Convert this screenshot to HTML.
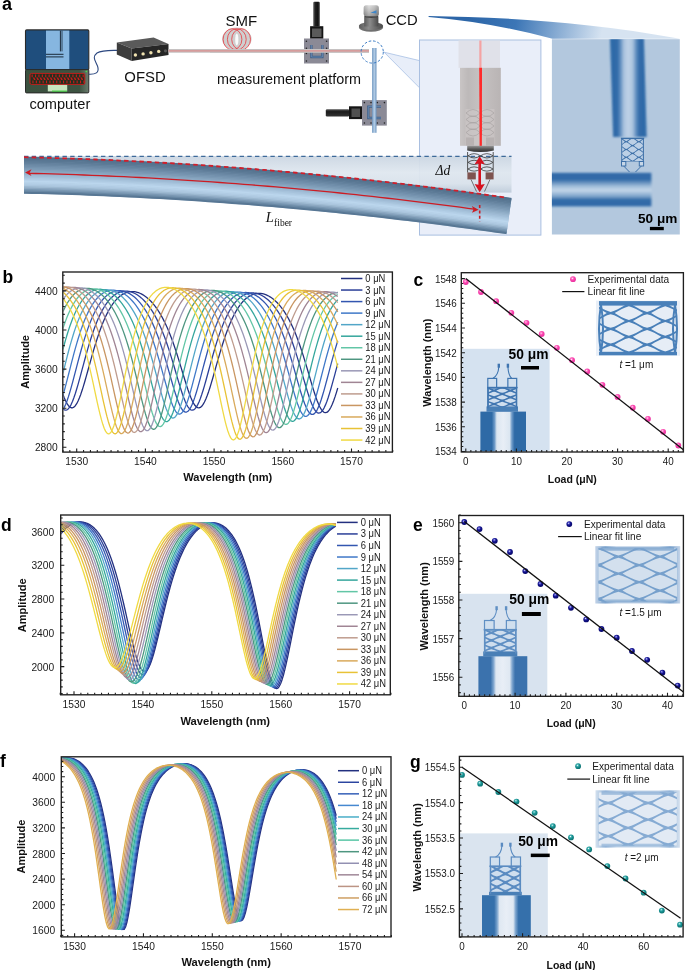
<!DOCTYPE html><html><head><meta charset="utf-8"><style>html,body{margin:0;padding:0;background:#fff;}svg{display:block;font-family:"Liberation Sans",sans-serif;will-change:transform;}body{overflow:hidden;}</style></head><body><svg width="685" height="970" viewBox="0 0 685 970" font-family='&quot;Liberation Sans&quot;, sans-serif'><defs><filter id="blur06" x="-5%" y="-5%" width="110%" height="110%"><feGaussianBlur stdDeviation="0.55"/></filter><filter id="blur07" x="-5%" y="-5%" width="110%" height="110%"><feGaussianBlur stdDeviation="0.7"/></filter><filter id="blur10" x="-5%" y="-5%" width="110%" height="110%"><feGaussianBlur stdDeviation="1.0"/></filter><linearGradient id="sfg" x1="0" x2="0" y1="0" y2="1"><stop offset="0" stop-color="#cbd6e2"/><stop offset="0.45" stop-color="#dfe7ef"/><stop offset="0.75" stop-color="#d9e2eb"/><stop offset="1" stop-color="#bfccda"/></linearGradient><linearGradient id="fun2" gradientUnits="userSpaceOnUse" x1="470" y1="16" x2="600" y2="42"><stop offset="0" stop-color="#2d66a8"/><stop offset="0.35" stop-color="#3c76b6"/><stop offset="1" stop-color="#d6e3f1"/></linearGradient><linearGradient id="vp" x1="0" x2="1" y1="0" y2="0"><stop offset="0" stop-color="#2f6aa8"/><stop offset="0.2" stop-color="#306ba8"/><stop offset="0.3" stop-color="#6793c3"/><stop offset="0.38" stop-color="#aac3de"/><stop offset="0.5" stop-color="#bfd2e7"/><stop offset="0.62" stop-color="#aac3de"/><stop offset="0.7" stop-color="#6793c3"/><stop offset="0.8" stop-color="#306ba8"/><stop offset="1" stop-color="#2f6aa8"/></linearGradient><clipPath id="in2clip"><rect x="551.9" y="39.2" width="127.9" height="195.3"/></clipPath><linearGradient id="hf" x1="0" x2="0" y1="0" y2="1"><stop offset="0" stop-color="#2f6aa8"/><stop offset="0.2" stop-color="#336ca8"/><stop offset="0.4" stop-color="#9fbcd9"/><stop offset="0.52" stop-color="#c5d7e9"/><stop offset="0.7" stop-color="#7da4cb"/><stop offset="0.8" stop-color="#336ca8"/><stop offset="1" stop-color="#2f6aa8"/></linearGradient><clipPath id="in2lat"><rect x="622.2" y="138.7" width="20.7" height="22.3"/></clipPath><clipPath id="bentclip"><path d="M24 150 L24 240 L506.3 240 L506.3 235 L512 195 L512 150 Z"/></clipPath><linearGradient id="probeg" x1="0" x2="1" y1="0" y2="0"><stop offset="0" stop-color="#c9c5c5"/><stop offset="0.2" stop-color="#bdb9b9"/><stop offset="0.5" stop-color="#c6c2c2"/><stop offset="1" stop-color="#b9b4b4"/></linearGradient><linearGradient id="headg" x1="0" x2="0" y1="0" y2="1"><stop offset="0" stop-color="#9a9a9a"/><stop offset="0.5" stop-color="#5a5a5a"/><stop offset="1" stop-color="#2e2e2e"/></linearGradient><linearGradient id="kbase" x1="0" x2="1" y1="0" y2="0"><stop offset="0" stop-color="#3b513f"/><stop offset="0.85" stop-color="#3d5341"/><stop offset="1" stop-color="#6b7b6d"/></linearGradient><linearGradient id="micro" x1="0" x2="1" y1="0" y2="0"><stop offset="0" stop-color="#6a6a6a"/><stop offset="0.3" stop-color="#222"/><stop offset="0.7" stop-color="#111"/><stop offset="1" stop-color="#444"/></linearGradient><linearGradient id="ccdg" x1="0" x2="1" y1="0" y2="0"><stop offset="0" stop-color="#8a8a8a"/><stop offset="0.35" stop-color="#d0d0d0"/><stop offset="0.7" stop-color="#a8a8a8"/><stop offset="1" stop-color="#6a6a6a"/></linearGradient><linearGradient id="ccdt" x1="0" x2="0" y1="0" y2="1"><stop offset="0" stop-color="#f2f2f2"/><stop offset="0.5" stop-color="#b8b8b8"/><stop offset="1" stop-color="#6e6e6e"/></linearGradient><linearGradient id="ccdb" x1="0" x2="1" y1="0" y2="0"><stop offset="0" stop-color="#5a5a5a"/><stop offset="0.4" stop-color="#8c8c8c"/><stop offset="1" stop-color="#4a4a4a"/></linearGradient><linearGradient id="vfib" x1="0" x2="1" y1="0" y2="0"><stop offset="0" stop-color="#6d95bf"/><stop offset="0.5" stop-color="#b4cde6"/><stop offset="1" stop-color="#6d95bf"/></linearGradient><linearGradient id="micro2" x1="0" x2="0" y1="0" y2="1"><stop offset="0" stop-color="#555"/><stop offset="0.35" stop-color="#1a1a1a"/><stop offset="1" stop-color="#333"/></linearGradient><clipPath id="cb"><rect x="63.4" y="272.6" width="328.4" height="178.9"/></clipPath><clipPath id="cd"><rect x="61.3" y="515.6" width="328.4" height="178.6"/></clipPath><clipPath id="cf"><rect x="61.9" y="757.4" width="328.5" height="178.9"/></clipPath><radialGradient id="sp_c" cx="0.4" cy="0.35" r="0.65"><stop offset="0" stop-color="#fff"/><stop offset="0.2" stop-color="#ff86cf"/><stop offset="0.5" stop-color="#fb44ae"/><stop offset="1" stop-color="#e8329f"/></radialGradient><radialGradient id="sp_e" cx="0.4" cy="0.35" r="0.65"><stop offset="0" stop-color="#fff"/><stop offset="0.2" stop-color="#5656cc"/><stop offset="0.5" stop-color="#11118c"/><stop offset="1" stop-color="#070768"/></radialGradient><radialGradient id="sp_g" cx="0.4" cy="0.35" r="0.65"><stop offset="0" stop-color="#fff"/><stop offset="0.2" stop-color="#5cc0c0"/><stop offset="0.5" stop-color="#179393"/><stop offset="1" stop-color="#0d7070"/></radialGradient><linearGradient id="fgc" x1="0" x2="1" y1="0" y2="0"><stop offset="0" stop-color="#2e6aa6"/><stop offset="0.25" stop-color="#2e6aa6"/><stop offset="0.31" stop-color="#6d9ac8"/><stop offset="0.36" stop-color="#dbe6f1"/><stop offset="0.5" stop-color="#e8eef6"/><stop offset="0.64" stop-color="#dbe6f1"/><stop offset="0.69" stop-color="#6d9ac8"/><stop offset="0.75" stop-color="#2e6aa6"/><stop offset="1" stop-color="#2e6aa6"/></linearGradient><clipPath id="lclc"><rect x="488.7" y="388.4" width="27.1" height="19.2"/></clipPath><clipPath id="ltcc"><rect x="599" y="302.6" width="78" height="51.2"/></clipPath><linearGradient id="fge" x1="0" x2="1" y1="0" y2="0"><stop offset="0" stop-color="#3a72ad"/><stop offset="0.25" stop-color="#3a72ad"/><stop offset="0.31" stop-color="#7fa6cf"/><stop offset="0.36" stop-color="#dfe8f2"/><stop offset="0.5" stop-color="#e8eef6"/><stop offset="0.64" stop-color="#dfe8f2"/><stop offset="0.69" stop-color="#7fa6cf"/><stop offset="0.75" stop-color="#3a72ad"/><stop offset="1" stop-color="#3a72ad"/></linearGradient><clipPath id="lcle"><rect x="485.4" y="630.5" width="29.7" height="22.1"/></clipPath><linearGradient id="ede" x1="0" x2="1" y1="0" y2="0"><stop offset="0" stop-color="#4a80ba" stop-opacity="0.0"/><stop offset="0.12" stop-color="#4a80ba" stop-opacity="0.55"/><stop offset="0.25" stop-color="#4a80ba" stop-opacity="0"/><stop offset="0.75" stop-color="#4a80ba" stop-opacity="0"/><stop offset="0.88" stop-color="#4a80ba" stop-opacity="0.55"/><stop offset="1" stop-color="#4a80ba" stop-opacity="0"/></linearGradient><clipPath id="ltce"><rect x="598.3" y="548.2" width="78.9" height="53.3"/></clipPath><linearGradient id="fgg" x1="0" x2="1" y1="0" y2="0"><stop offset="0" stop-color="#3570ab"/><stop offset="0.25" stop-color="#3570ab"/><stop offset="0.31" stop-color="#7aa3cd"/><stop offset="0.36" stop-color="#dfe8f2"/><stop offset="0.5" stop-color="#e8eef6"/><stop offset="0.64" stop-color="#dfe8f2"/><stop offset="0.69" stop-color="#7aa3cd"/><stop offset="0.75" stop-color="#3570ab"/><stop offset="1" stop-color="#3570ab"/></linearGradient><clipPath id="lclg"><rect x="491.2" y="867" width="28.4" height="26"/></clipPath><linearGradient id="edg" x1="0" x2="1" y1="0" y2="0"><stop offset="0" stop-color="#6f9bcb" stop-opacity="0.0"/><stop offset="0.12" stop-color="#6f9bcb" stop-opacity="0.55"/><stop offset="0.25" stop-color="#6f9bcb" stop-opacity="0"/><stop offset="0.75" stop-color="#6f9bcb" stop-opacity="0"/><stop offset="0.88" stop-color="#6f9bcb" stop-opacity="0.55"/><stop offset="1" stop-color="#6f9bcb" stop-opacity="0"/></linearGradient><clipPath id="ltcg"><rect x="598.5" y="792.3" width="78.4" height="53.4"/></clipPath></defs><text x="2" y="9.6" font-size="18" font-weight="bold" fill="#000">a</text>
<path d="M428.6 16.0 C 500 17.3, 580 20.8, 680 38.7 L 552.5 38.7 Q 490 22, 428.6 16.9 Z" fill="url(#fun2)" stroke="none" stroke-width="1"/>
<path d="M384.1 52.2 L419.5 60.6 L419.5 87.8 Z" fill="#e8eef9" stroke="#a8c0e4" stroke-width="0.8"/>
<rect x="419.5" y="40" width="121.4" height="195.1" fill="#e9eef9" stroke="#a9bfe0" stroke-width="1"/>
<rect x="551.9" y="39.2" width="127.9" height="195.3" fill="#b3c8de" stroke="none" stroke-width="1"/>
<g clip-path="url(#in2clip)"><g filter="url(#blur10)">
<path d="M609.9 36 L643.9 36 L646.7 137.1 L613.1 137.1 Z" fill="url(#vp)" stroke="none" stroke-width="1"/>
<rect x="547.9" y="172.8" width="103.5" height="33.6" fill="url(#hf)" stroke="none" stroke-width="1"/>
</g></g>
<g filter="url(#blur06)">
<rect x="621.2" y="138.2" width="22.7" height="23.3" fill="#3d70a8" stroke="none" stroke-width="1"/>
<g clip-path="url(#in2lat)">
<path d="M621.34 137.8 L622.56 136.75 L623.79 135.81 L625.02 135 L626.25 134.45 L627.48 135 L628.71 135.81 L629.94 136.75 L631.16 137.8 L629.94 138.85 L628.71 139.79 L627.48 140.6 L626.25 141.15 L625.02 140.6 L623.79 139.79 L622.56 138.85Z M633.94 137.8 L635.16 136.75 L636.39 135.81 L637.62 135 L638.85 134.45 L640.08 135 L641.31 135.81 L642.54 136.75 L643.76 137.8 L642.54 138.85 L641.31 139.79 L640.08 140.6 L638.85 141.15 L637.62 140.6 L636.39 139.79 L635.16 138.85Z M615.04 141.7 L616.26 140.65 L617.49 139.71 L618.72 138.9 L619.95 138.35 L621.18 138.9 L622.41 139.71 L623.64 140.65 L624.86 141.7 L623.64 142.75 L622.41 143.69 L621.18 144.5 L619.95 145.05 L618.72 144.5 L617.49 143.69 L616.26 142.75Z M627.64 141.7 L628.86 140.65 L630.09 139.71 L631.32 138.9 L632.55 138.35 L633.78 138.9 L635.01 139.71 L636.24 140.65 L637.46 141.7 L636.24 142.75 L635.01 143.69 L633.78 144.5 L632.55 145.05 L631.32 144.5 L630.09 143.69 L628.86 142.75Z M640.24 141.7 L641.46 140.65 L642.69 139.71 L643.92 138.9 L645.15 138.35 L646.38 138.9 L647.61 139.71 L648.84 140.65 L650.06 141.7 L648.84 142.75 L647.61 143.69 L646.38 144.5 L645.15 145.05 L643.92 144.5 L642.69 143.69 L641.46 142.75Z M621.34 145.6 L622.56 144.55 L623.79 143.61 L625.02 142.8 L626.25 142.25 L627.48 142.8 L628.71 143.61 L629.94 144.55 L631.16 145.6 L629.94 146.65 L628.71 147.59 L627.48 148.4 L626.25 148.95 L625.02 148.4 L623.79 147.59 L622.56 146.65Z M633.94 145.6 L635.16 144.55 L636.39 143.61 L637.62 142.8 L638.85 142.25 L640.08 142.8 L641.31 143.61 L642.54 144.55 L643.76 145.6 L642.54 146.65 L641.31 147.59 L640.08 148.4 L638.85 148.95 L637.62 148.4 L636.39 147.59 L635.16 146.65Z M615.04 149.5 L616.26 148.45 L617.49 147.51 L618.72 146.7 L619.95 146.15 L621.18 146.7 L622.41 147.51 L623.64 148.45 L624.86 149.5 L623.64 150.55 L622.41 151.49 L621.18 152.3 L619.95 152.85 L618.72 152.3 L617.49 151.49 L616.26 150.55Z M627.64 149.5 L628.86 148.45 L630.09 147.51 L631.32 146.7 L632.55 146.15 L633.78 146.7 L635.01 147.51 L636.24 148.45 L637.46 149.5 L636.24 150.55 L635.01 151.49 L633.78 152.3 L632.55 152.85 L631.32 152.3 L630.09 151.49 L628.86 150.55Z M640.24 149.5 L641.46 148.45 L642.69 147.51 L643.92 146.7 L645.15 146.15 L646.38 146.7 L647.61 147.51 L648.84 148.45 L650.06 149.5 L648.84 150.55 L647.61 151.49 L646.38 152.3 L645.15 152.85 L643.92 152.3 L642.69 151.49 L641.46 150.55Z M621.34 153.4 L622.56 152.35 L623.79 151.41 L625.02 150.6 L626.25 150.05 L627.48 150.6 L628.71 151.41 L629.94 152.35 L631.16 153.4 L629.94 154.45 L628.71 155.39 L627.48 156.2 L626.25 156.75 L625.02 156.2 L623.79 155.39 L622.56 154.45Z M633.94 153.4 L635.16 152.35 L636.39 151.41 L637.62 150.6 L638.85 150.05 L640.08 150.6 L641.31 151.41 L642.54 152.35 L643.76 153.4 L642.54 154.45 L641.31 155.39 L640.08 156.2 L638.85 156.75 L637.62 156.2 L636.39 155.39 L635.16 154.45Z M615.04 157.3 L616.26 156.25 L617.49 155.31 L618.72 154.5 L619.95 153.95 L621.18 154.5 L622.41 155.31 L623.64 156.25 L624.86 157.3 L623.64 158.35 L622.41 159.29 L621.18 160.1 L619.95 160.65 L618.72 160.1 L617.49 159.29 L616.26 158.35Z M627.64 157.3 L628.86 156.25 L630.09 155.31 L631.32 154.5 L632.55 153.95 L633.78 154.5 L635.01 155.31 L636.24 156.25 L637.46 157.3 L636.24 158.35 L635.01 159.29 L633.78 160.1 L632.55 160.65 L631.32 160.1 L630.09 159.29 L628.86 158.35Z M640.24 157.3 L641.46 156.25 L642.69 155.31 L643.92 154.5 L645.15 153.95 L646.38 154.5 L647.61 155.31 L648.84 156.25 L650.06 157.3 L648.84 158.35 L647.61 159.29 L646.38 160.1 L645.15 160.65 L643.92 160.1 L642.69 159.29 L641.46 158.35Z M621.34 161.2 L622.56 160.15 L623.79 159.21 L625.02 158.4 L626.25 157.85 L627.48 158.4 L628.71 159.21 L629.94 160.15 L631.16 161.2 L629.94 162.25 L628.71 163.19 L627.48 164 L626.25 164.55 L625.02 164 L623.79 163.19 L622.56 162.25Z M633.94 161.2 L635.16 160.15 L636.39 159.21 L637.62 158.4 L638.85 157.85 L640.08 158.4 L641.31 159.21 L642.54 160.15 L643.76 161.2 L642.54 162.25 L641.31 163.19 L640.08 164 L638.85 164.55 L637.62 164 L636.39 163.19 L635.16 162.25Z" fill="#bcd0e6" stroke="none" stroke-width="1"/>
</g>
<rect x="620.9" y="137.7" width="23.3" height="1.4" fill="#3d70a8" stroke="none" stroke-width="1"/>
<rect x="621.5" y="161.5" width="4.3" height="4.5" fill="#c7d7e8" stroke="#3d70a8" stroke-width="1"/>
<rect x="639.3" y="161.5" width="4.3" height="4.5" fill="#c7d7e8" stroke="#3d70a8" stroke-width="1"/>
<path d="M623.7 166 L629.5 172 M641.4 166 L635.5 172" fill="none" stroke="#3d70a8" stroke-width="1"/>
</g>
<text x="657.65" y="222.6" font-size="13.6" font-weight="bold" text-anchor="middle" fill="#000">50 μm</text>
<rect x="649.9" y="226.9" width="13.9" height="3.3" fill="#000" stroke="none" stroke-width="1"/>
<rect x="24" y="156.1" width="487.5" height="36.5" fill="url(#sfg)" stroke="none" stroke-width="1" opacity="0.95"/>
<g clip-path="url(#bentclip)">
<path d="M24 175.2 L32 175.39 L40 175.59 L48 175.81 L56 176.05 L64 176.3 L72 176.57 L80 176.86 L88 177.16 L96 177.48 L104 177.81 L112 178.17 L120 178.53 L128 178.92 L136 179.32 L144 179.73 L152 180.16 L160 180.61 L168 181.08 L176 181.56 L184 182.06 L192 182.57 L200 183.1 L208 183.65 L216 184.21 L224 184.79 L232 185.38 L240 185.99 L248 186.62 L256 187.27 L264 187.93 L272 188.6 L280 189.3 L288 190.01 L296 190.73 L304 191.47 L312 192.23 L320 193 L328 193.8 L336 194.6 L344 195.43 L352 196.26 L360 197.12 L368 197.99 L376 198.88 L384 199.79 L392 200.71 L400 201.64 L408 202.6 L416 203.57 L424 204.55 L432 205.55 L440 206.57 L448 207.61 L456 208.66 L464 209.73 L472 210.81 L480 211.91 L488 213.03 L496 214.16 L504 215.31 L512 216.47 L520 217.65" fill="none" stroke="#9cb8d2" stroke-width="36.4" stroke-linecap="butt"/>
<path d="M24 157.7 L32 157.89 L40 158.09 L48 158.31 L56 158.55 L64 158.8 L72 159.07 L80 159.36 L88 159.66 L96 159.98 L104 160.31 L112 160.67 L120 161.03 L128 161.42 L136 161.82 L144 162.23 L152 162.66 L160 163.11 L168 163.58 L176 164.06 L184 164.56 L192 165.07 L200 165.6 L208 166.15 L216 166.71 L224 167.29 L232 167.88 L240 168.49 L248 169.12 L256 169.77 L264 170.43 L272 171.1 L280 171.8 L288 172.51 L296 173.23 L304 173.97 L312 174.73 L320 175.5 L328 176.3 L336 177.1 L344 177.93 L352 178.76 L360 179.62 L368 180.49 L376 181.38 L384 182.29 L392 183.21 L400 184.14 L408 185.1 L416 186.07 L424 187.05 L432 188.05 L440 189.07 L448 190.11 L456 191.16 L464 192.23 L472 193.31 L480 194.41 L488 195.53 L496 196.66 L504 197.81 L512 198.97 L520 200.15" fill="none" stroke="#516f8c" stroke-width="2" stroke-linecap="butt"/>
<path d="M24 159.1 L32 159.29 L40 159.49 L48 159.71 L56 159.95 L64 160.2 L72 160.47 L80 160.76 L88 161.06 L96 161.38 L104 161.71 L112 162.07 L120 162.43 L128 162.82 L136 163.22 L144 163.63 L152 164.06 L160 164.51 L168 164.98 L176 165.46 L184 165.96 L192 166.47 L200 167 L208 167.55 L216 168.11 L224 168.69 L232 169.28 L240 169.89 L248 170.52 L256 171.17 L264 171.83 L272 172.5 L280 173.2 L288 173.91 L296 174.63 L304 175.37 L312 176.13 L320 176.9 L328 177.7 L336 178.5 L344 179.33 L352 180.16 L360 181.02 L368 181.89 L376 182.78 L384 183.69 L392 184.61 L400 185.54 L408 186.5 L416 187.47 L424 188.45 L432 189.45 L440 190.47 L448 191.51 L456 192.56 L464 193.63 L472 194.71 L480 195.81 L488 196.93 L496 198.06 L504 199.21 L512 200.37 L520 201.55" fill="none" stroke="#55738f" stroke-width="2" stroke-linecap="butt"/>
<path d="M24 160.5 L32 160.69 L40 160.89 L48 161.11 L56 161.35 L64 161.6 L72 161.87 L80 162.16 L88 162.46 L96 162.78 L104 163.11 L112 163.47 L120 163.83 L128 164.22 L136 164.62 L144 165.03 L152 165.46 L160 165.91 L168 166.38 L176 166.86 L184 167.36 L192 167.87 L200 168.4 L208 168.95 L216 169.51 L224 170.09 L232 170.68 L240 171.29 L248 171.92 L256 172.57 L264 173.23 L272 173.9 L280 174.6 L288 175.31 L296 176.03 L304 176.77 L312 177.53 L320 178.3 L328 179.1 L336 179.9 L344 180.73 L352 181.56 L360 182.42 L368 183.29 L376 184.18 L384 185.09 L392 186.01 L400 186.94 L408 187.9 L416 188.87 L424 189.85 L432 190.85 L440 191.87 L448 192.91 L456 193.96 L464 195.03 L472 196.11 L480 197.21 L488 198.33 L496 199.46 L504 200.61 L512 201.77 L520 202.95" fill="none" stroke="#597793" stroke-width="2" stroke-linecap="butt"/>
<path d="M24 161.9 L32 162.09 L40 162.29 L48 162.51 L56 162.75 L64 163 L72 163.27 L80 163.56 L88 163.86 L96 164.18 L104 164.51 L112 164.87 L120 165.23 L128 165.62 L136 166.02 L144 166.43 L152 166.86 L160 167.31 L168 167.78 L176 168.26 L184 168.76 L192 169.27 L200 169.8 L208 170.35 L216 170.91 L224 171.49 L232 172.08 L240 172.69 L248 173.32 L256 173.97 L264 174.63 L272 175.3 L280 176 L288 176.71 L296 177.43 L304 178.17 L312 178.93 L320 179.7 L328 180.5 L336 181.3 L344 182.13 L352 182.96 L360 183.82 L368 184.69 L376 185.58 L384 186.49 L392 187.41 L400 188.34 L408 189.3 L416 190.27 L424 191.25 L432 192.25 L440 193.27 L448 194.31 L456 195.36 L464 196.43 L472 197.51 L480 198.61 L488 199.73 L496 200.86 L504 202.01 L512 203.17 L520 204.35" fill="none" stroke="#5d7b97" stroke-width="2" stroke-linecap="butt"/>
<path d="M24 163.3 L32 163.49 L40 163.69 L48 163.91 L56 164.15 L64 164.4 L72 164.67 L80 164.96 L88 165.26 L96 165.58 L104 165.91 L112 166.27 L120 166.63 L128 167.02 L136 167.42 L144 167.83 L152 168.26 L160 168.71 L168 169.18 L176 169.66 L184 170.16 L192 170.67 L200 171.2 L208 171.75 L216 172.31 L224 172.89 L232 173.48 L240 174.09 L248 174.72 L256 175.37 L264 176.03 L272 176.7 L280 177.4 L288 178.11 L296 178.83 L304 179.57 L312 180.33 L320 181.1 L328 181.9 L336 182.7 L344 183.53 L352 184.36 L360 185.22 L368 186.09 L376 186.98 L384 187.89 L392 188.81 L400 189.74 L408 190.7 L416 191.67 L424 192.65 L432 193.65 L440 194.67 L448 195.71 L456 196.76 L464 197.83 L472 198.91 L480 200.01 L488 201.13 L496 202.26 L504 203.41 L512 204.57 L520 205.75" fill="none" stroke="#63819d" stroke-width="2" stroke-linecap="butt"/>
<path d="M24 164.7 L32 164.89 L40 165.09 L48 165.31 L56 165.55 L64 165.8 L72 166.07 L80 166.36 L88 166.66 L96 166.98 L104 167.31 L112 167.67 L120 168.03 L128 168.42 L136 168.82 L144 169.23 L152 169.66 L160 170.11 L168 170.58 L176 171.06 L184 171.56 L192 172.07 L200 172.6 L208 173.15 L216 173.71 L224 174.29 L232 174.88 L240 175.49 L248 176.12 L256 176.77 L264 177.43 L272 178.1 L280 178.8 L288 179.51 L296 180.23 L304 180.97 L312 181.73 L320 182.5 L328 183.3 L336 184.1 L344 184.93 L352 185.76 L360 186.62 L368 187.49 L376 188.38 L384 189.29 L392 190.21 L400 191.14 L408 192.1 L416 193.07 L424 194.05 L432 195.05 L440 196.07 L448 197.11 L456 198.16 L464 199.23 L472 200.31 L480 201.41 L488 202.53 L496 203.66 L504 204.81 L512 205.97 L520 207.15" fill="none" stroke="#6987a3" stroke-width="2" stroke-linecap="butt"/>
<path d="M24 166.1 L32 166.29 L40 166.49 L48 166.71 L56 166.95 L64 167.2 L72 167.47 L80 167.76 L88 168.06 L96 168.38 L104 168.71 L112 169.07 L120 169.43 L128 169.82 L136 170.22 L144 170.63 L152 171.06 L160 171.51 L168 171.98 L176 172.46 L184 172.96 L192 173.47 L200 174 L208 174.55 L216 175.11 L224 175.69 L232 176.28 L240 176.89 L248 177.52 L256 178.17 L264 178.83 L272 179.5 L280 180.2 L288 180.91 L296 181.63 L304 182.37 L312 183.13 L320 183.9 L328 184.7 L336 185.5 L344 186.33 L352 187.16 L360 188.02 L368 188.89 L376 189.78 L384 190.69 L392 191.61 L400 192.54 L408 193.5 L416 194.47 L424 195.45 L432 196.45 L440 197.47 L448 198.51 L456 199.56 L464 200.63 L472 201.71 L480 202.81 L488 203.93 L496 205.06 L504 206.21 L512 207.37 L520 208.55" fill="none" stroke="#6f8da9" stroke-width="2" stroke-linecap="butt"/>
<path d="M24 167.5 L32 167.69 L40 167.89 L48 168.11 L56 168.35 L64 168.6 L72 168.87 L80 169.16 L88 169.46 L96 169.78 L104 170.11 L112 170.47 L120 170.83 L128 171.22 L136 171.62 L144 172.03 L152 172.46 L160 172.91 L168 173.38 L176 173.86 L184 174.36 L192 174.87 L200 175.4 L208 175.95 L216 176.51 L224 177.09 L232 177.68 L240 178.29 L248 178.92 L256 179.57 L264 180.23 L272 180.9 L280 181.6 L288 182.31 L296 183.03 L304 183.77 L312 184.53 L320 185.3 L328 186.1 L336 186.9 L344 187.73 L352 188.56 L360 189.42 L368 190.29 L376 191.18 L384 192.09 L392 193.01 L400 193.94 L408 194.9 L416 195.87 L424 196.85 L432 197.85 L440 198.87 L448 199.91 L456 200.96 L464 202.03 L472 203.11 L480 204.21 L488 205.33 L496 206.46 L504 207.61 L512 208.77 L520 209.95" fill="none" stroke="#7593af" stroke-width="2" stroke-linecap="butt"/>
<path d="M24 168.9 L32 169.09 L40 169.29 L48 169.51 L56 169.75 L64 170 L72 170.27 L80 170.56 L88 170.86 L96 171.18 L104 171.51 L112 171.87 L120 172.23 L128 172.62 L136 173.02 L144 173.43 L152 173.86 L160 174.31 L168 174.78 L176 175.26 L184 175.76 L192 176.27 L200 176.8 L208 177.35 L216 177.91 L224 178.49 L232 179.08 L240 179.69 L248 180.32 L256 180.97 L264 181.63 L272 182.3 L280 183 L288 183.71 L296 184.43 L304 185.17 L312 185.93 L320 186.7 L328 187.5 L336 188.3 L344 189.13 L352 189.96 L360 190.82 L368 191.69 L376 192.58 L384 193.49 L392 194.41 L400 195.34 L408 196.3 L416 197.27 L424 198.25 L432 199.25 L440 200.27 L448 201.31 L456 202.36 L464 203.43 L472 204.51 L480 205.61 L488 206.73 L496 207.86 L504 209.01 L512 210.17 L520 211.35" fill="none" stroke="#7b99b4" stroke-width="2" stroke-linecap="butt"/>
<path d="M24 170.3 L32 170.49 L40 170.69 L48 170.91 L56 171.15 L64 171.4 L72 171.67 L80 171.96 L88 172.26 L96 172.58 L104 172.91 L112 173.27 L120 173.63 L128 174.02 L136 174.42 L144 174.83 L152 175.26 L160 175.71 L168 176.18 L176 176.66 L184 177.16 L192 177.67 L200 178.2 L208 178.75 L216 179.31 L224 179.89 L232 180.48 L240 181.09 L248 181.72 L256 182.37 L264 183.03 L272 183.7 L280 184.4 L288 185.11 L296 185.83 L304 186.57 L312 187.33 L320 188.1 L328 188.9 L336 189.7 L344 190.53 L352 191.36 L360 192.22 L368 193.09 L376 193.98 L384 194.89 L392 195.81 L400 196.74 L408 197.7 L416 198.67 L424 199.65 L432 200.65 L440 201.67 L448 202.71 L456 203.76 L464 204.83 L472 205.91 L480 207.01 L488 208.13 L496 209.26 L504 210.41 L512 211.57 L520 212.75" fill="none" stroke="#82a0bb" stroke-width="2" stroke-linecap="butt"/>
<path d="M24 171.7 L32 171.89 L40 172.09 L48 172.31 L56 172.55 L64 172.8 L72 173.07 L80 173.36 L88 173.66 L96 173.98 L104 174.31 L112 174.67 L120 175.03 L128 175.42 L136 175.82 L144 176.23 L152 176.66 L160 177.11 L168 177.58 L176 178.06 L184 178.56 L192 179.07 L200 179.6 L208 180.15 L216 180.71 L224 181.29 L232 181.88 L240 182.49 L248 183.12 L256 183.77 L264 184.43 L272 185.1 L280 185.8 L288 186.51 L296 187.23 L304 187.97 L312 188.73 L320 189.5 L328 190.3 L336 191.1 L344 191.93 L352 192.76 L360 193.62 L368 194.49 L376 195.38 L384 196.29 L392 197.21 L400 198.14 L408 199.1 L416 200.07 L424 201.05 L432 202.05 L440 203.07 L448 204.11 L456 205.16 L464 206.23 L472 207.31 L480 208.41 L488 209.53 L496 210.66 L504 211.81 L512 212.97 L520 214.15" fill="none" stroke="#89a7c1" stroke-width="2" stroke-linecap="butt"/>
<path d="M24 173.1 L32 173.29 L40 173.49 L48 173.71 L56 173.95 L64 174.2 L72 174.47 L80 174.76 L88 175.06 L96 175.38 L104 175.71 L112 176.07 L120 176.43 L128 176.82 L136 177.22 L144 177.63 L152 178.06 L160 178.51 L168 178.98 L176 179.46 L184 179.96 L192 180.47 L200 181 L208 181.55 L216 182.11 L224 182.69 L232 183.28 L240 183.89 L248 184.52 L256 185.17 L264 185.83 L272 186.5 L280 187.2 L288 187.91 L296 188.63 L304 189.37 L312 190.13 L320 190.9 L328 191.7 L336 192.5 L344 193.33 L352 194.16 L360 195.02 L368 195.89 L376 196.78 L384 197.69 L392 198.61 L400 199.54 L408 200.5 L416 201.47 L424 202.45 L432 203.45 L440 204.47 L448 205.51 L456 206.56 L464 207.63 L472 208.71 L480 209.81 L488 210.93 L496 212.06 L504 213.21 L512 214.37 L520 215.55" fill="none" stroke="#91aec8" stroke-width="2" stroke-linecap="butt"/>
<path d="M24 174.5 L32 174.69 L40 174.89 L48 175.11 L56 175.35 L64 175.6 L72 175.87 L80 176.16 L88 176.46 L96 176.78 L104 177.11 L112 177.47 L120 177.83 L128 178.22 L136 178.62 L144 179.03 L152 179.46 L160 179.91 L168 180.38 L176 180.86 L184 181.36 L192 181.87 L200 182.4 L208 182.95 L216 183.51 L224 184.09 L232 184.68 L240 185.29 L248 185.92 L256 186.57 L264 187.23 L272 187.9 L280 188.6 L288 189.31 L296 190.03 L304 190.77 L312 191.53 L320 192.3 L328 193.1 L336 193.9 L344 194.73 L352 195.56 L360 196.42 L368 197.29 L376 198.18 L384 199.09 L392 200.01 L400 200.94 L408 201.9 L416 202.87 L424 203.85 L432 204.85 L440 205.87 L448 206.91 L456 207.96 L464 209.03 L472 210.11 L480 211.21 L488 212.33 L496 213.46 L504 214.61 L512 215.77 L520 216.95" fill="none" stroke="#98b5ce" stroke-width="2" stroke-linecap="butt"/>
<path d="M24 175.9 L32 176.09 L40 176.29 L48 176.51 L56 176.75 L64 177 L72 177.27 L80 177.56 L88 177.86 L96 178.18 L104 178.51 L112 178.87 L120 179.23 L128 179.62 L136 180.02 L144 180.43 L152 180.86 L160 181.31 L168 181.78 L176 182.26 L184 182.76 L192 183.27 L200 183.8 L208 184.35 L216 184.91 L224 185.49 L232 186.08 L240 186.69 L248 187.32 L256 187.97 L264 188.63 L272 189.3 L280 190 L288 190.71 L296 191.43 L304 192.17 L312 192.93 L320 193.7 L328 194.5 L336 195.3 L344 196.13 L352 196.96 L360 197.82 L368 198.69 L376 199.58 L384 200.49 L392 201.41 L400 202.34 L408 203.3 L416 204.27 L424 205.25 L432 206.25 L440 207.27 L448 208.31 L456 209.36 L464 210.43 L472 211.51 L480 212.61 L488 213.73 L496 214.86 L504 216.01 L512 217.17 L520 218.35" fill="none" stroke="#9fbbd5" stroke-width="2" stroke-linecap="butt"/>
<path d="M24 177.3 L32 177.49 L40 177.69 L48 177.91 L56 178.15 L64 178.4 L72 178.67 L80 178.96 L88 179.26 L96 179.58 L104 179.91 L112 180.27 L120 180.63 L128 181.02 L136 181.42 L144 181.83 L152 182.26 L160 182.71 L168 183.18 L176 183.66 L184 184.16 L192 184.67 L200 185.2 L208 185.75 L216 186.31 L224 186.89 L232 187.48 L240 188.09 L248 188.72 L256 189.37 L264 190.03 L272 190.7 L280 191.4 L288 192.11 L296 192.83 L304 193.57 L312 194.33 L320 195.1 L328 195.9 L336 196.7 L344 197.53 L352 198.36 L360 199.22 L368 200.09 L376 200.98 L384 201.89 L392 202.81 L400 203.74 L408 204.7 L416 205.67 L424 206.65 L432 207.65 L440 208.67 L448 209.71 L456 210.76 L464 211.83 L472 212.91 L480 214.01 L488 215.13 L496 216.26 L504 217.41 L512 218.57 L520 219.75" fill="none" stroke="#a6c2db" stroke-width="2" stroke-linecap="butt"/>
<path d="M24 178.7 L32 178.89 L40 179.09 L48 179.31 L56 179.55 L64 179.8 L72 180.07 L80 180.36 L88 180.66 L96 180.98 L104 181.31 L112 181.67 L120 182.03 L128 182.42 L136 182.82 L144 183.23 L152 183.66 L160 184.11 L168 184.58 L176 185.06 L184 185.56 L192 186.07 L200 186.6 L208 187.15 L216 187.71 L224 188.29 L232 188.88 L240 189.49 L248 190.12 L256 190.77 L264 191.43 L272 192.1 L280 192.8 L288 193.51 L296 194.23 L304 194.97 L312 195.73 L320 196.5 L328 197.3 L336 198.1 L344 198.93 L352 199.76 L360 200.62 L368 201.49 L376 202.38 L384 203.29 L392 204.21 L400 205.14 L408 206.1 L416 207.07 L424 208.05 L432 209.05 L440 210.07 L448 211.11 L456 212.16 L464 213.23 L472 214.31 L480 215.41 L488 216.53 L496 217.66 L504 218.81 L512 219.97 L520 221.15" fill="none" stroke="#adc9e1" stroke-width="2" stroke-linecap="butt"/>
<path d="M24 180.1 L32 180.29 L40 180.49 L48 180.71 L56 180.95 L64 181.2 L72 181.47 L80 181.76 L88 182.06 L96 182.38 L104 182.71 L112 183.07 L120 183.43 L128 183.82 L136 184.22 L144 184.63 L152 185.06 L160 185.51 L168 185.98 L176 186.46 L184 186.96 L192 187.47 L200 188 L208 188.55 L216 189.11 L224 189.69 L232 190.28 L240 190.89 L248 191.52 L256 192.17 L264 192.83 L272 193.5 L280 194.2 L288 194.91 L296 195.63 L304 196.37 L312 197.13 L320 197.9 L328 198.7 L336 199.5 L344 200.33 L352 201.16 L360 202.02 L368 202.89 L376 203.78 L384 204.69 L392 205.61 L400 206.54 L408 207.5 L416 208.47 L424 209.45 L432 210.45 L440 211.47 L448 212.51 L456 213.56 L464 214.63 L472 215.71 L480 216.81 L488 217.93 L496 219.06 L504 220.21 L512 221.37 L520 222.55" fill="none" stroke="#b4cfe7" stroke-width="2" stroke-linecap="butt"/>
<path d="M24 181.5 L32 181.69 L40 181.89 L48 182.11 L56 182.35 L64 182.6 L72 182.87 L80 183.16 L88 183.46 L96 183.78 L104 184.11 L112 184.47 L120 184.83 L128 185.22 L136 185.62 L144 186.03 L152 186.46 L160 186.91 L168 187.38 L176 187.86 L184 188.36 L192 188.87 L200 189.4 L208 189.95 L216 190.51 L224 191.09 L232 191.68 L240 192.29 L248 192.92 L256 193.57 L264 194.23 L272 194.9 L280 195.6 L288 196.31 L296 197.03 L304 197.77 L312 198.53 L320 199.3 L328 200.1 L336 200.9 L344 201.73 L352 202.56 L360 203.42 L368 204.29 L376 205.18 L384 206.09 L392 207.01 L400 207.94 L408 208.9 L416 209.87 L424 210.85 L432 211.85 L440 212.87 L448 213.91 L456 214.96 L464 216.03 L472 217.11 L480 218.21 L488 219.33 L496 220.46 L504 221.61 L512 222.77 L520 223.95" fill="none" stroke="#bbd6ed" stroke-width="2" stroke-linecap="butt"/>
<path d="M24 182.9 L32 183.09 L40 183.29 L48 183.51 L56 183.75 L64 184 L72 184.27 L80 184.56 L88 184.86 L96 185.18 L104 185.51 L112 185.87 L120 186.23 L128 186.62 L136 187.02 L144 187.43 L152 187.86 L160 188.31 L168 188.78 L176 189.26 L184 189.76 L192 190.27 L200 190.8 L208 191.35 L216 191.91 L224 192.49 L232 193.08 L240 193.69 L248 194.32 L256 194.97 L264 195.63 L272 196.3 L280 197 L288 197.71 L296 198.43 L304 199.17 L312 199.93 L320 200.7 L328 201.5 L336 202.3 L344 203.13 L352 203.96 L360 204.82 L368 205.69 L376 206.58 L384 207.49 L392 208.41 L400 209.34 L408 210.3 L416 211.27 L424 212.25 L432 213.25 L440 214.27 L448 215.31 L456 216.36 L464 217.43 L472 218.51 L480 219.61 L488 220.73 L496 221.86 L504 223.01 L512 224.17 L520 225.35" fill="none" stroke="#b7d2e9" stroke-width="2" stroke-linecap="butt"/>
<path d="M24 184.3 L32 184.49 L40 184.69 L48 184.91 L56 185.15 L64 185.4 L72 185.67 L80 185.96 L88 186.26 L96 186.58 L104 186.91 L112 187.27 L120 187.63 L128 188.02 L136 188.42 L144 188.83 L152 189.26 L160 189.71 L168 190.18 L176 190.66 L184 191.16 L192 191.67 L200 192.2 L208 192.75 L216 193.31 L224 193.89 L232 194.48 L240 195.09 L248 195.72 L256 196.37 L264 197.03 L272 197.7 L280 198.4 L288 199.11 L296 199.83 L304 200.57 L312 201.33 L320 202.1 L328 202.9 L336 203.7 L344 204.53 L352 205.36 L360 206.22 L368 207.09 L376 207.98 L384 208.89 L392 209.81 L400 210.74 L408 211.7 L416 212.67 L424 213.65 L432 214.65 L440 215.67 L448 216.71 L456 217.76 L464 218.83 L472 219.91 L480 221.01 L488 222.13 L496 223.26 L504 224.41 L512 225.57 L520 226.75" fill="none" stroke="#b1cce4" stroke-width="2" stroke-linecap="butt"/>
<path d="M24 185.7 L32 185.89 L40 186.09 L48 186.31 L56 186.55 L64 186.8 L72 187.07 L80 187.36 L88 187.66 L96 187.98 L104 188.31 L112 188.67 L120 189.03 L128 189.42 L136 189.82 L144 190.23 L152 190.66 L160 191.11 L168 191.58 L176 192.06 L184 192.56 L192 193.07 L200 193.6 L208 194.15 L216 194.71 L224 195.29 L232 195.88 L240 196.49 L248 197.12 L256 197.77 L264 198.43 L272 199.1 L280 199.8 L288 200.51 L296 201.23 L304 201.97 L312 202.73 L320 203.5 L328 204.3 L336 205.1 L344 205.93 L352 206.76 L360 207.62 L368 208.49 L376 209.38 L384 210.29 L392 211.21 L400 212.14 L408 213.1 L416 214.07 L424 215.05 L432 216.05 L440 217.07 L448 218.11 L456 219.16 L464 220.23 L472 221.31 L480 222.41 L488 223.53 L496 224.66 L504 225.81 L512 226.97 L520 228.15" fill="none" stroke="#abc6de" stroke-width="2" stroke-linecap="butt"/>
<path d="M24 187.1 L32 187.29 L40 187.49 L48 187.71 L56 187.95 L64 188.2 L72 188.47 L80 188.76 L88 189.06 L96 189.38 L104 189.71 L112 190.07 L120 190.43 L128 190.82 L136 191.22 L144 191.63 L152 192.06 L160 192.51 L168 192.98 L176 193.46 L184 193.96 L192 194.47 L200 195 L208 195.55 L216 196.11 L224 196.69 L232 197.28 L240 197.89 L248 198.52 L256 199.17 L264 199.83 L272 200.5 L280 201.2 L288 201.91 L296 202.63 L304 203.37 L312 204.13 L320 204.9 L328 205.7 L336 206.5 L344 207.33 L352 208.16 L360 209.02 L368 209.89 L376 210.78 L384 211.69 L392 212.61 L400 213.54 L408 214.5 L416 215.47 L424 216.45 L432 217.45 L440 218.47 L448 219.51 L456 220.56 L464 221.63 L472 222.71 L480 223.81 L488 224.93 L496 226.06 L504 227.21 L512 228.37 L520 229.55" fill="none" stroke="#9db9d1" stroke-width="2" stroke-linecap="butt"/>
<path d="M24 188.5 L32 188.69 L40 188.89 L48 189.11 L56 189.35 L64 189.6 L72 189.87 L80 190.16 L88 190.46 L96 190.78 L104 191.11 L112 191.47 L120 191.83 L128 192.22 L136 192.62 L144 193.03 L152 193.46 L160 193.91 L168 194.38 L176 194.86 L184 195.36 L192 195.87 L200 196.4 L208 196.95 L216 197.51 L224 198.09 L232 198.68 L240 199.29 L248 199.92 L256 200.57 L264 201.23 L272 201.9 L280 202.6 L288 203.31 L296 204.03 L304 204.77 L312 205.53 L320 206.3 L328 207.1 L336 207.9 L344 208.73 L352 209.56 L360 210.42 L368 211.29 L376 212.18 L384 213.09 L392 214.01 L400 214.94 L408 215.9 L416 216.87 L424 217.85 L432 218.85 L440 219.87 L448 220.91 L456 221.96 L464 223.03 L472 224.11 L480 225.21 L488 226.33 L496 227.46 L504 228.61 L512 229.77 L520 230.95" fill="none" stroke="#8ca8c2" stroke-width="2" stroke-linecap="butt"/>
<path d="M24 189.9 L32 190.09 L40 190.29 L48 190.51 L56 190.75 L64 191 L72 191.27 L80 191.56 L88 191.86 L96 192.18 L104 192.51 L112 192.87 L120 193.23 L128 193.62 L136 194.02 L144 194.43 L152 194.86 L160 195.31 L168 195.78 L176 196.26 L184 196.76 L192 197.27 L200 197.8 L208 198.35 L216 198.91 L224 199.49 L232 200.08 L240 200.69 L248 201.32 L256 201.97 L264 202.63 L272 203.3 L280 204 L288 204.71 L296 205.43 L304 206.17 L312 206.93 L320 207.7 L328 208.5 L336 209.3 L344 210.13 L352 210.96 L360 211.82 L368 212.69 L376 213.58 L384 214.49 L392 215.41 L400 216.34 L408 217.3 L416 218.27 L424 219.25 L432 220.25 L440 221.27 L448 222.31 L456 223.36 L464 224.43 L472 225.51 L480 226.61 L488 227.73 L496 228.86 L504 230.01 L512 231.17 L520 232.35" fill="none" stroke="#7a98b3" stroke-width="2" stroke-linecap="butt"/>
<path d="M24 191.3 L32 191.49 L40 191.69 L48 191.91 L56 192.15 L64 192.4 L72 192.67 L80 192.96 L88 193.26 L96 193.58 L104 193.91 L112 194.27 L120 194.63 L128 195.02 L136 195.42 L144 195.83 L152 196.26 L160 196.71 L168 197.18 L176 197.66 L184 198.16 L192 198.67 L200 199.2 L208 199.75 L216 200.31 L224 200.89 L232 201.48 L240 202.09 L248 202.72 L256 203.37 L264 204.03 L272 204.7 L280 205.4 L288 206.11 L296 206.83 L304 207.57 L312 208.33 L320 209.1 L328 209.9 L336 210.7 L344 211.53 L352 212.36 L360 213.22 L368 214.09 L376 214.98 L384 215.89 L392 216.81 L400 217.74 L408 218.7 L416 219.67 L424 220.65 L432 221.65 L440 222.67 L448 223.71 L456 224.76 L464 225.83 L472 226.91 L480 228.01 L488 229.13 L496 230.26 L504 231.41 L512 232.57 L520 233.75" fill="none" stroke="#6988a4" stroke-width="2" stroke-linecap="butt"/>
<path d="M24 192.7 L32 192.89 L40 193.09 L48 193.31 L56 193.55 L64 193.8 L72 194.07 L80 194.36 L88 194.66 L96 194.98 L104 195.31 L112 195.67 L120 196.03 L128 196.42 L136 196.82 L144 197.23 L152 197.66 L160 198.11 L168 198.58 L176 199.06 L184 199.56 L192 200.07 L200 200.6 L208 201.15 L216 201.71 L224 202.29 L232 202.88 L240 203.49 L248 204.12 L256 204.77 L264 205.43 L272 206.1 L280 206.8 L288 207.51 L296 208.23 L304 208.97 L312 209.73 L320 210.5 L328 211.3 L336 212.1 L344 212.93 L352 213.76 L360 214.62 L368 215.49 L376 216.38 L384 217.29 L392 218.21 L400 219.14 L408 220.1 L416 221.07 L424 222.05 L432 223.05 L440 224.07 L448 225.11 L456 226.16 L464 227.23 L472 228.31 L480 229.41 L488 230.53 L496 231.66 L504 232.81 L512 233.97 L520 235.15" fill="none" stroke="#587794" stroke-width="2" stroke-linecap="butt"/>
</g>
<line x1="24" y1="156.3" x2="511.5" y2="156.3" stroke="#3d6a9a" stroke-width="1.3" stroke-dasharray="4.4 3.3"/>
<path d="M24 157.2 L32 157.39 L40 157.59 L48 157.81 L56 158.05 L64 158.3 L72 158.57 L80 158.86 L88 159.16 L96 159.48 L104 159.81 L112 160.17 L120 160.53 L128 160.92 L136 161.32 L144 161.73 L152 162.16 L160 162.61 L168 163.08 L176 163.56 L184 164.06 L192 164.57 L200 165.1 L208 165.65 L216 166.21 L224 166.79 L232 167.38 L240 167.99 L248 168.62 L256 169.27 L264 169.93 L272 170.6 L280 171.3 L288 172.01 L296 172.73 L304 173.47 L312 174.23 L320 175 L328 175.8 L336 176.6 L344 177.43 L352 178.26 L360 179.12 L368 179.99 L376 180.88 L384 181.79 L392 182.71 L400 183.64 L408 184.6 L416 185.57 L424 186.55 L432 187.55 L440 188.57 L448 189.61 L456 190.66 L464 191.73 L472 192.81 L480 193.91 L488 195.03 L496 196.16 L504 197.31" fill="none" stroke="#d21f2a" stroke-width="1.8" stroke-dasharray="4.5 3.2"/>
<path d="M28 173.29 L36 173.49 L44 173.7 L52 173.93 L60 174.17 L68 174.44 L76 174.71 L84 175.01 L92 175.32 L100 175.64 L108 175.99 L116 176.35 L124 176.72 L132 177.11 L140 177.52 L148 177.95 L156 178.39 L164 178.84 L172 179.32 L180 179.81 L188 180.31 L196 180.83 L204 181.37 L212 181.93 L220 182.5 L228 183.08 L236 183.69 L244 184.31 L252 184.94 L260 185.59 L268 186.26 L276 186.95 L284 187.65 L292 188.37 L300 189.1 L308 189.85 L316 190.62 L324 191.4 L332 192.2 L340 193.01 L348 193.84 L356 194.69 L364 195.55 L372 196.43 L380 197.33 L388 198.24 L396 199.17 L404 200.12 L412 201.08 L420 202.06 L428 203.05 L436 204.06 L444 205.09 L452 206.13 L460 207.19 L468 208.27 L476 209.36" fill="none" stroke="#cc1c24" stroke-width="1.3"/>
<path d="M25.0 172.6 L31.5 169.2 L29.6 172.8 L31.5 176.0 Z" fill="#cc1c24" stroke="none" stroke-width="1"/>
<path d="M478.6 209.7 L471.8 206.1 L473.5 209.5 L472.0 212.7 Z" fill="#cc1c24" stroke="none" stroke-width="1"/>
<line x1="479.7" y1="205" x2="479.7" y2="221.5" stroke="#cc1c24" stroke-width="1.6" stroke-dasharray="3 2.4"/>
<text x="265.8" y="221.9" font-size="14.5" font-style="italic" fill="#111" font-family='"Liberation Serif", serif'>L</text>
<text x="274.1" y="226.1" font-size="9.5" fill="#111" font-family='"Liberation Serif", serif'>fiber</text>
<text x="435.6" y="174.8" font-size="13.6" font-style="italic" fill="#111" font-family='"Liberation Serif", serif'>Δd</text>
<rect x="458.5" y="40.5" width="41.5" height="27.3" fill="#dfdfe7" stroke="none" stroke-width="1" opacity="0.9"/>
<rect x="460" y="67.8" width="40.8" height="78" fill="url(#probeg)" stroke="none" stroke-width="1"/>
<rect x="465.5" y="109" width="29" height="37" fill="#cfcaca" stroke="none" stroke-width="1" opacity="0.55"/>
<path d="M466 113 Q473 106 480 113 Q487 120 494 113 M466 113 Q473 120 480 113 Q487 106 494 113 M466 119.5 Q473 112.5 480 119.5 Q487 126.5 494 119.5 M466 119.5 Q473 126.5 480 119.5 Q487 112.5 494 119.5 M466 126 Q473 119 480 126 Q487 133 494 126 M466 126 Q473 133 480 126 Q487 119 494 126 M466 132.5 Q473 125.5 480 132.5 Q487 139.5 494 132.5 M466 132.5 Q473 139.5 480 132.5 Q487 125.5 494 132.5" fill="none" stroke="#a39e9e" stroke-width="0.6"/>
<rect x="466" y="137.5" width="8" height="8" fill="#b0abab" stroke="none" stroke-width="1" opacity="0.7"/>
<rect x="486" y="137.5" width="8" height="8" fill="#b0abab" stroke="none" stroke-width="1" opacity="0.7"/>
<rect x="479.3" y="40.5" width="2.2" height="27.3" fill="#f4a3a3" stroke="none" stroke-width="1"/>
<path d="M479.2 67.8 L482.0 67.8 L481.9 146 L479.6 146 Z" fill="#ff2a2a" stroke="none" stroke-width="1"/>
<path d="M467.2 145.7 L493.8 145.7 L493.8 150.5 Q480.5 153.5 467.2 150.5 Z" fill="url(#headg)" stroke="none" stroke-width="1"/>
<path d="M468 155.8 Q474 151.5 480.5 155.8 Q487 160.1 493 155.8 M468 155.8 Q474 160.1 480.5 155.8 Q487 151.5 493 155.8 M468 162.4 Q474 158.1 480.5 162.4 Q487 166.7 493 162.4 M468 162.4 Q474 166.7 480.5 162.4 Q487 158.1 493 162.4 M468 169 Q474 164.7 480.5 169 Q487 173.3 493 169 M468 169 Q474 173.3 480.5 169 Q487 164.7 493 169" fill="none" stroke="#3a3a3a" stroke-width="0.8"/>
<line x1="467.6" y1="152" x2="467.6" y2="172.5" stroke="#444" stroke-width="0.9"/>
<line x1="493.2" y1="152" x2="493.2" y2="172.5" stroke="#444" stroke-width="0.9"/>
<rect x="467.4" y="172.4" width="8.4" height="7" fill="#7e5450" stroke="none" stroke-width="1"/>
<rect x="485.6" y="172.4" width="8" height="7" fill="#7e5450" stroke="none" stroke-width="1"/>
<path d="M471 179.4 L476.5 191.5 M490 179.4 L484.5 191.5" fill="none" stroke="#555" stroke-width="0.8"/>
<path d="M479.7 156.2 L474.6 164.3 L478.4 163.5 L478.4 184.8 L474.6 184.0 L479.7 192.2 L484.8 184.0 L481.0 184.8 L481.0 163.5 L484.8 164.3 Z" fill="#d5121f" stroke="none" stroke-width="1"/>
<rect x="25.5" y="29.9" width="63.3" height="40" fill="#1f4e7d" stroke="#2a2a2a" stroke-width="1.1" rx="1.2"/>
<rect x="46" y="30.6" width="23.3" height="38.6" fill="#86b6e0" stroke="none" stroke-width="1"/>
<rect x="59.9" y="30.6" width="1" height="20.8" fill="#1b2b3b" stroke="none" stroke-width="1"/>
<rect x="61.6" y="30.6" width="0.8" height="20.8" fill="#1b2b3b" stroke="none" stroke-width="1"/>
<rect x="46" y="53.8" width="17.5" height="1" fill="#1b2b3b" stroke="none" stroke-width="1"/>
<rect x="46" y="56.4" width="17.5" height="1" fill="#1b2b3b" stroke="none" stroke-width="1"/>
<rect x="25.5" y="69.6" width="63.3" height="23.3" fill="url(#kbase)" stroke="#2a2a2a" stroke-width="1" rx="1"/>
<rect x="30" y="73.4" width="54.8" height="11" fill="#24301f" stroke="#d11818" stroke-width="0.9" rx="1.5"/>
<path d="M31.6 74.6 h1.1 v2.6 h-1.1 Z M32.4 80.6 h1.1 v2.6 h-1.1 Z M35 74.6 h1.1 v2.6 h-1.1 Z M35.8 80.6 h1.1 v2.6 h-1.1 Z M38.4 74.6 h1.1 v2.6 h-1.1 Z M39.2 80.6 h1.1 v2.6 h-1.1 Z M41.8 74.6 h1.1 v2.6 h-1.1 Z M42.6 80.6 h1.1 v2.6 h-1.1 Z M45.2 74.6 h1.1 v2.6 h-1.1 Z M46 80.6 h1.1 v2.6 h-1.1 Z M48.6 74.6 h1.1 v2.6 h-1.1 Z M49.4 80.6 h1.1 v2.6 h-1.1 Z M52 74.6 h1.1 v2.6 h-1.1 Z M52.8 80.6 h1.1 v2.6 h-1.1 Z M55.4 74.6 h1.1 v2.6 h-1.1 Z M56.2 80.6 h1.1 v2.6 h-1.1 Z M58.8 74.6 h1.1 v2.6 h-1.1 Z M59.6 80.6 h1.1 v2.6 h-1.1 Z M62.2 74.6 h1.1 v2.6 h-1.1 Z M63 80.6 h1.1 v2.6 h-1.1 Z M65.6 74.6 h1.1 v2.6 h-1.1 Z M66.4 80.6 h1.1 v2.6 h-1.1 Z M69 74.6 h1.1 v2.6 h-1.1 Z M69.8 80.6 h1.1 v2.6 h-1.1 Z M72.4 74.6 h1.1 v2.6 h-1.1 Z M73.2 80.6 h1.1 v2.6 h-1.1 Z M75.8 74.6 h1.1 v2.6 h-1.1 Z M76.6 80.6 h1.1 v2.6 h-1.1 Z M79.2 74.6 h1.1 v2.6 h-1.1 Z M80 80.6 h1.1 v2.6 h-1.1 Z M82.6 74.6 h1.1 v2.6 h-1.1 Z M83.4 80.6 h1.1 v2.6 h-1.1 Z M32.8 77.6 l1.6 0 l1.2 2.4 l-1.6 0 Z M36.2 77.6 l1.6 0 l1.2 2.4 l-1.6 0 Z M39.6 77.6 l1.6 0 l1.2 2.4 l-1.6 0 Z M43 77.6 l1.6 0 l1.2 2.4 l-1.6 0 Z M46.4 77.6 l1.6 0 l1.2 2.4 l-1.6 0 Z M49.8 77.6 l1.6 0 l1.2 2.4 l-1.6 0 Z M53.2 77.6 l1.6 0 l1.2 2.4 l-1.6 0 Z M56.6 77.6 l1.6 0 l1.2 2.4 l-1.6 0 Z M60 77.6 l1.6 0 l1.2 2.4 l-1.6 0 Z M63.4 77.6 l1.6 0 l1.2 2.4 l-1.6 0 Z M66.8 77.6 l1.6 0 l1.2 2.4 l-1.6 0 Z M70.2 77.6 l1.6 0 l1.2 2.4 l-1.6 0 Z M73.6 77.6 l1.6 0 l1.2 2.4 l-1.6 0 Z M77 77.6 l1.6 0 l1.2 2.4 l-1.6 0 Z M80.4 77.6 l1.6 0 l1.2 2.4 l-1.6 0 Z" fill="#c81a1a" stroke="none" stroke-width="1"/>
<rect x="47.8" y="84.9" width="19.4" height="6.5" fill="#c8e6c0" stroke="none" stroke-width="1"/>
<rect x="52" y="90.6" width="15" height="1" fill="#33cc33" stroke="none" stroke-width="1"/>
<circle cx="86.3" cy="71.5" r="0.8" fill="#44ee44"/>
<path d="M88.8 74.2 C 95 74.5, 100 73, 97.5 66 C 95 60, 92 57, 97 53 C 102 50, 110 50.5, 117 50.4" fill="none" stroke="#2c4880" stroke-width="1.1"/>
<path d="M116.8 42.6 L153.6 37.6 L168.5 44.0 L131.7 48.6 Z" fill="#5a5a5a" stroke="none" stroke-width="1"/>
<path d="M116.8 42.6 L131.7 48.6 L131.7 61.0 L116.8 54.4 Z" fill="#3d3d3d" stroke="none" stroke-width="1"/>
<path d="M131.7 48.6 L168.5 44.0 L168.5 55.0 L131.7 61.0 Z" fill="#262626" stroke="none" stroke-width="1"/>
<circle cx="135.4" cy="55" r="1.7" fill="#f0e2b0"/>
<circle cx="143.1" cy="53.9" r="1.7" fill="#f0e2b0"/>
<circle cx="150.9" cy="52.7" r="1.7" fill="#f0e2b0"/>
<circle cx="158.7" cy="51.4" r="1.7" fill="#f0e2b0"/>
<circle cx="165.5" cy="50.8" r="1.6" fill="#555"/>
<line x1="168.5" y1="50.9" x2="369" y2="50.9" stroke="#c6c2c2" stroke-width="3.6"/>
<line x1="168.5" y1="50.9" x2="369" y2="50.9" stroke="#d69c9c" stroke-width="1.9"/>
<ellipse cx="236.8" cy="39.0" rx="14.8" ry="11.4" fill="#cfcfcf"/>
<ellipse cx="232.5" cy="39.3" rx="9.4" ry="10.6" fill="none" stroke="#e8383f" stroke-width="0.8"/>
<ellipse cx="236.8" cy="39.3" rx="9.4" ry="10.6" fill="none" stroke="#e8383f" stroke-width="0.8"/>
<ellipse cx="241.1" cy="39.3" rx="9.4" ry="10.6" fill="none" stroke="#e8383f" stroke-width="0.8"/>
<ellipse cx="236.8" cy="39.6" rx="1.6" ry="6" fill="#fafafa"/>
<line x1="210" y1="50.9" x2="300" y2="50.9" stroke="#c6c2c2" stroke-width="3.6"/>
<line x1="210" y1="50.9" x2="300" y2="50.9" stroke="#d69c9c" stroke-width="1.9"/>
<text x="241.45" y="25.8" font-size="15" text-anchor="middle" fill="#111">SMF</text>
<text x="59.85" y="109.3" font-size="14.6" text-anchor="middle" fill="#111">computer</text>
<text x="145" y="82.2" font-size="14.9" text-anchor="middle" fill="#111">OFSD</text>
<text x="289" y="83.8" font-size="14.4" text-anchor="middle" fill="#111">measurement platform</text>
<text x="401.7" y="25" font-size="14.8" text-anchor="middle" fill="#111">CCD</text>
<rect x="313.2" y="1.8" width="6.6" height="24.6" fill="url(#micro)" stroke="none" stroke-width="1" rx="1.2"/>
<rect x="310.1" y="26.2" width="13.2" height="12.6" fill="#151515" stroke="none" stroke-width="1"/>
<rect x="312" y="28.5" width="9.5" height="8.5" fill="#777" stroke="none" stroke-width="1" opacity="0.7"/>
<rect x="304" y="38.5" width="25" height="25" fill="#8b8a96" stroke="none" stroke-width="1"/>
<circle cx="306.4" cy="41.2" r="0.8" fill="#222"/>
<circle cx="326.6" cy="41.2" r="0.8" fill="#222"/>
<circle cx="306.4" cy="48.3" r="0.8" fill="#222"/>
<circle cx="326.6" cy="48.3" r="0.8" fill="#222"/>
<circle cx="306.4" cy="53.5" r="0.8" fill="#222"/>
<circle cx="326.6" cy="53.5" r="0.8" fill="#222"/>
<circle cx="306.4" cy="61" r="0.8" fill="#222"/>
<circle cx="326.6" cy="61" r="0.8" fill="#222"/>
<path d="M311.4 45.0 L311.4 57.0 L322.4 57.0 L322.4 45.0" fill="none" stroke="#3e5f88" stroke-width="2.3"/>
<path d="M311.4 45.0 L311.4 57.0 L322.4 57.0 L322.4 45.0" fill="none" stroke="#6d8fb8" stroke-width="0.8"/>
<line x1="300" y1="50.9" x2="333" y2="50.9" stroke="#c6c2c2" stroke-width="3.6"/>
<line x1="300" y1="50.9" x2="333" y2="50.9" stroke="#d69c9c" stroke-width="1.9"/>
<line x1="333" y1="50.9" x2="369" y2="50.9" stroke="#c6c2c2" stroke-width="3.6"/>
<line x1="333" y1="50.9" x2="369" y2="50.9" stroke="#d69c9c" stroke-width="1.9"/>
<ellipse cx="371" cy="27.6" rx="12.1" ry="4.2" fill="#707070"/>
<ellipse cx="371" cy="26.0" rx="12.1" ry="4.0" fill="url(#ccdb)"/>
<rect x="364.2" y="16.5" width="14.2" height="10" fill="url(#ccdb)" stroke="none" stroke-width="1"/>
<ellipse cx="371.3" cy="16.5" rx="7.1" ry="1.5" fill="#444"/>
<rect x="363.7" y="5.3" width="15.1" height="11" fill="url(#ccdt)" stroke="none" stroke-width="1" rx="2.5"/>
<rect x="363.7" y="5.3" width="15.1" height="11" fill="url(#ccdg)" stroke="none" stroke-width="1" rx="2.5" opacity="0.55"/>
<path d="M370.5 12.8 L376.5 10.2 L376.5 13.4 Z" fill="#3f86c8" stroke="none" stroke-width="1"/>
<rect x="325.8" y="109.2" width="23.4" height="7.2" fill="url(#micro2)" stroke="none" stroke-width="1" rx="1.2"/>
<rect x="349" y="106.3" width="13.2" height="12.8" fill="#151515" stroke="none" stroke-width="1"/>
<rect x="351.5" y="108.5" width="8.5" height="8.5" fill="#777" stroke="none" stroke-width="1" opacity="0.6"/>
<rect x="362" y="100.1" width="24.8" height="25.5" fill="#8b8a96" stroke="none" stroke-width="1"/>
<circle cx="364.4" cy="102.6" r="0.8" fill="#222"/>
<circle cx="384.4" cy="102.6" r="0.8" fill="#222"/>
<circle cx="364.4" cy="123" r="0.8" fill="#222"/>
<circle cx="384.4" cy="123" r="0.8" fill="#222"/>
<circle cx="371" cy="102.6" r="0.8" fill="#222"/>
<circle cx="377.3" cy="102.6" r="0.8" fill="#222"/>
<circle cx="371" cy="123" r="0.8" fill="#222"/>
<circle cx="377.3" cy="123" r="0.8" fill="#222"/>
<path d="M381.0 106.6 L368.3 106.6 L368.3 118.0 L381.0 118.0" fill="none" stroke="#3e5f88" stroke-width="2.3"/>
<path d="M381.0 106.6 L368.3 106.6 L368.3 118.0 L381.0 118.0" fill="none" stroke="#6d8fb8" stroke-width="0.8"/>
<rect x="372.1" y="48" width="4.4" height="84.8" fill="url(#vfib)" stroke="none" stroke-width="1"/>
<circle cx="372.2" cy="52.0" r="11.1" fill="none" stroke="#3c7cc4" stroke-width="1" stroke-dasharray="2.6 1.8"/>
<text x="2.6" y="282.7" font-size="17.5" font-weight="bold" fill="#000">b</text>
<g clip-path="url(#cb)">
<path d="M62.96 394.42 L64.33 397.96 L65.71 401.06 L67.08 403.65 L68.46 405.67 L69.83 407.05 L71.2 407.76 L72.58 407.78 L73.95 407.09 L75.33 405.71 L76.7 403.68 L78.07 401.03 L79.45 397.83 L80.82 394.15 L82.2 390.07 L83.57 385.66 L84.94 381 L86.32 376.17 L87.69 371.24 L89.07 366.27 L90.44 361.32 L91.81 356.43 L93.19 351.65 L94.56 347 L95.94 342.52 L97.31 338.22 L98.68 334.11 L100.06 330.21 L101.43 326.52 L102.81 323.04 L104.18 319.78 L105.55 316.73 L106.93 313.89 L108.3 311.25 L109.68 308.8 L111.05 306.55 L112.42 304.49 L113.8 302.6 L115.17 300.88 L116.55 299.33 L117.92 297.94 L119.29 296.71 L120.67 295.61 L122.04 294.66 L123.42 293.85 L124.79 293.17 L126.16 292.61 L127.54 292.18 L128.91 291.86 L130.29 291.66 L131.66 291.57 L133.03 291.59 L134.41 291.71 L135.78 291.95 L137.16 292.28 L138.53 292.72 L139.9 293.26 L141.28 293.9 L142.65 294.64 L144.03 295.48 L145.4 296.43 L146.77 297.48 L148.15 298.64 L149.52 299.91 L150.9 301.28 L152.27 302.78 L153.64 304.39 L155.02 306.13 L156.39 307.99 L157.77 309.98 L159.14 312.12 L160.51 314.39 L161.89 316.81 L163.26 319.39 L164.64 322.13 L166.01 325.03 L167.38 328.09 L168.76 331.33 L170.13 334.75 L171.51 338.33 L172.88 342.09 L174.25 346.01 L175.63 350.09 L177 354.32 L178.38 358.67 L179.75 363.13 L181.12 367.66 L182.5 372.22 L183.87 376.77 L185.25 381.27 L186.62 385.63 L187.99 389.81 L189.37 393.72 L190.74 397.3 L192.12 400.47 L193.49 403.15 L194.86 405.28 L196.24 406.79 L197.61 407.66 L198.99 407.84 L200.36 407.38 L201.73 406.24 L203.11 404.44 L204.48 402.02 L205.86 399.04 L207.23 395.57 L208.6 391.67 L209.98 387.43 L211.35 382.92 L212.73 378.22 L214.1 373.4 L215.47 368.52 L216.85 363.64 L218.22 358.81 L219.6 354.07 L220.97 349.45 L222.34 344.99 L223.72 340.7 L225.09 336.59 L226.47 332.69 L227.84 328.99 L229.21 325.49 L230.59 322.21 L231.96 319.14 L233.34 316.27 L234.71 313.6 L236.08 311.13 L237.46 308.85 L238.83 306.75 L240.21 304.83 L241.58 303.08 L242.95 301.5 L244.33 300.08 L245.7 298.8 L247.08 297.68 L248.45 296.7 L249.82 295.85 L251.2 295.14 L252.57 294.55 L253.95 294.08 L255.32 293.74 L256.69 293.5 L258.07 293.39 L259.44 293.38 L260.82 293.48 L262.19 293.68 L263.56 293.99 L264.94 294.4 L266.31 294.92 L267.69 295.54 L269.06 296.26 L270.43 297.08 L271.81 298.01 L273.18 299.04 L274.56 300.18 L275.93 301.43 L277.3 302.8 L278.68 304.28 L280.05 305.88 L281.43 307.61 L282.8 309.46 L284.17 311.45 L285.55 313.58 L286.92 315.86 L288.3 318.28 L289.67 320.87 L291.04 323.61 L292.42 326.52 L293.79 329.61 L295.17 332.87 L296.54 336.31 L297.91 339.94 L299.29 343.74 L300.66 347.71 L302.04 351.86 L303.41 356.15 L304.78 360.59 L306.16 365.14 L307.53 369.78 L308.91 374.47 L310.28 379.17 L311.65 383.82 L313.03 388.37 L314.4 392.74 L315.78 396.87 L317.15 400.68 L318.52 404.09 L319.9 407.02 L321.27 409.41 L322.65 411.18 L324.02 412.3 L325.39 412.72 L326.77 412.41 L328.14 411.37 L329.52 409.64 L330.89 407.27 L332.26 404.31 L333.64 400.82 L335.01 396.89 L336.39 392.59 L337.76 388" fill="none" stroke="#23307f" stroke-width="1.3" stroke-linejoin="round"/>
<path d="M62.96 408.83 L64.33 409.88 L65.71 410.21 L67.08 409.8 L68.46 408.66 L69.83 406.82 L71.2 404.32 L72.58 401.22 L73.95 397.58 L75.33 393.5 L76.7 389.04 L78.07 384.31 L79.45 379.36 L80.82 374.3 L82.2 369.17 L83.57 364.05 L84.94 358.98 L86.32 354.01 L87.69 349.18 L89.07 344.51 L90.44 340.03 L91.81 335.75 L93.19 331.68 L94.56 327.83 L95.94 324.2 L97.31 320.8 L98.68 317.61 L100.06 314.64 L101.43 311.89 L102.81 309.34 L104.18 306.98 L105.55 304.82 L106.93 302.85 L108.3 301.05 L109.68 299.43 L111.05 297.97 L112.42 296.67 L113.8 295.51 L115.17 294.51 L116.55 293.64 L117.92 292.91 L119.29 292.31 L120.67 291.84 L122.04 291.48 L123.42 291.24 L124.79 291.12 L126.16 291.11 L127.54 291.21 L128.91 291.41 L130.29 291.71 L131.66 292.13 L133.03 292.64 L134.41 293.25 L135.78 293.97 L137.16 294.79 L138.53 295.71 L139.9 296.74 L141.28 297.88 L142.65 299.12 L144.03 300.48 L145.4 301.95 L146.77 303.53 L148.15 305.25 L149.52 307.09 L150.9 309.06 L152.27 311.17 L153.64 313.42 L155.02 315.82 L156.39 318.38 L157.77 321.1 L159.14 323.98 L160.51 327.04 L161.89 330.27 L163.26 333.69 L164.64 337.28 L166.01 341.05 L167.38 345 L168.76 349.12 L170.13 353.4 L171.51 357.82 L172.88 362.37 L174.25 367 L175.63 371.7 L177 376.4 L178.38 381.07 L179.75 385.64 L181.12 390.04 L182.5 394.21 L183.87 398.05 L185.25 401.49 L186.62 404.45 L187.99 406.87 L189.37 408.66 L190.74 409.78 L192.12 410.21 L193.49 409.92 L194.86 408.93 L196.24 407.24 L197.61 404.89 L198.99 401.94 L200.36 398.45 L201.73 394.51 L203.11 390.19 L204.48 385.57 L205.86 380.74 L207.23 375.77 L208.6 370.73 L209.98 365.69 L211.35 360.69 L212.73 355.78 L214.1 350.99 L215.47 346.37 L216.85 341.92 L218.22 337.67 L219.6 333.63 L220.97 329.8 L222.34 326.18 L223.72 322.79 L225.09 319.61 L226.47 316.65 L227.84 313.89 L229.21 311.34 L230.59 308.99 L231.96 306.82 L233.34 304.84 L234.71 303.04 L236.08 301.41 L237.46 299.94 L238.83 298.63 L240.21 297.47 L241.58 296.45 L242.95 295.57 L244.33 294.83 L245.7 294.22 L247.08 293.73 L248.45 293.36 L249.82 293.11 L251.2 292.97 L252.57 292.94 L253.95 293.02 L255.32 293.21 L256.69 293.5 L258.07 293.9 L259.44 294.4 L260.82 295 L262.19 295.7 L263.56 296.5 L264.94 297.41 L266.31 298.43 L267.69 299.54 L269.06 300.77 L270.43 302.11 L271.81 303.57 L273.18 305.14 L274.56 306.84 L275.93 308.66 L277.3 310.62 L278.68 312.72 L280.05 314.96 L281.43 317.34 L282.8 319.89 L284.17 322.6 L285.55 325.47 L286.92 328.52 L288.3 331.75 L289.67 335.15 L291.04 338.74 L292.42 342.52 L293.79 346.47 L295.17 350.6 L296.54 354.89 L297.91 359.33 L299.29 363.9 L300.66 368.57 L302.04 373.31 L303.41 378.07 L304.78 382.8 L306.16 387.44 L307.53 391.93 L308.91 396.19 L310.28 400.14 L311.65 403.7 L313.03 406.79 L314.4 409.34 L315.78 411.27 L317.15 412.54 L318.52 413.1 L319.9 412.92 L321.27 412 L322.65 410.36 L324.02 408.06 L325.39 405.14 L326.77 401.67 L328.14 397.72 L329.52 393.39 L330.89 388.76 L332.26 383.89 L333.64 378.88 L335.01 373.8 L336.39 368.7 L337.76 363.64" fill="none" stroke="#2b3f98" stroke-width="1.3" stroke-linejoin="round"/>
<path d="M62.96 409.54 L64.33 407.22 L65.71 404.25 L67.08 400.69 L68.46 396.64 L69.83 392.18 L71.2 387.39 L72.58 382.36 L73.95 377.18 L75.33 371.91 L76.7 366.64 L78.07 361.41 L79.45 356.27 L80.82 351.26 L82.2 346.42 L83.57 341.76 L84.94 337.32 L86.32 333.09 L87.69 329.09 L89.07 325.31 L90.44 321.77 L91.81 318.46 L93.19 315.37 L94.56 312.5 L95.94 309.84 L97.31 307.39 L98.68 305.14 L100.06 303.08 L101.43 301.21 L102.81 299.51 L104.18 297.99 L105.55 296.62 L106.93 295.41 L108.3 294.35 L109.68 293.44 L111.05 292.66 L112.42 292.02 L113.8 291.5 L115.17 291.11 L116.55 290.84 L117.92 290.68 L119.29 290.64 L120.67 290.7 L122.04 290.88 L123.42 291.16 L124.79 291.54 L126.16 292.02 L127.54 292.61 L128.91 293.3 L130.29 294.1 L131.66 295 L133.03 296 L134.41 297.11 L135.78 298.32 L137.16 299.65 L138.53 301.09 L139.9 302.65 L141.28 304.33 L142.65 306.14 L144.03 308.08 L145.4 310.16 L146.77 312.38 L148.15 314.76 L149.52 317.28 L150.9 319.97 L152.27 322.83 L153.64 325.87 L155.02 329.08 L156.39 332.47 L157.77 336.06 L159.14 339.83 L160.51 343.78 L161.89 347.92 L163.26 352.23 L164.64 356.7 L166.01 361.3 L167.38 366.02 L168.76 370.82 L170.13 375.65 L171.51 380.47 L172.88 385.22 L174.25 389.83 L175.63 394.22 L177 398.31 L178.38 402.02 L179.75 405.26 L181.12 407.96 L182.5 410.03 L183.87 411.43 L185.25 412.1 L186.62 412.03 L187.99 411.23 L189.37 409.69 L190.74 407.45 L192.12 404.57 L193.49 401.1 L194.86 397.15 L196.24 392.77 L197.61 388.08 L198.99 383.14 L200.36 378.05 L201.73 372.87 L203.11 367.68 L204.48 362.53 L205.86 357.46 L207.23 352.52 L208.6 347.74 L209.98 343.15 L211.35 338.76 L212.73 334.58 L214.1 330.62 L215.47 326.89 L216.85 323.39 L218.22 320.11 L219.6 317.05 L220.97 314.21 L222.34 311.58 L223.72 309.15 L225.09 306.92 L226.47 304.88 L227.84 303.02 L229.21 301.34 L230.59 299.82 L231.96 298.47 L233.34 297.27 L234.71 296.21 L236.08 295.31 L237.46 294.53 L238.83 293.89 L240.21 293.38 L241.58 292.99 L242.95 292.71 L244.33 292.56 L245.7 292.51 L247.08 292.57 L248.45 292.74 L249.82 293.02 L251.2 293.4 L252.57 293.88 L253.95 294.46 L255.32 295.15 L256.69 295.94 L258.07 296.83 L259.44 297.82 L260.82 298.93 L262.19 300.14 L263.56 301.46 L264.94 302.89 L266.31 304.44 L267.69 306.12 L269.06 307.92 L270.43 309.85 L271.81 311.93 L273.18 314.14 L274.56 316.51 L275.93 319.03 L277.3 321.71 L278.68 324.57 L280.05 327.6 L281.43 330.81 L282.8 334.2 L284.17 337.78 L285.55 341.55 L286.92 345.51 L288.3 349.65 L289.67 353.97 L291.04 358.44 L292.42 363.06 L293.79 367.8 L295.17 372.61 L296.54 377.47 L297.91 382.32 L299.29 387.1 L300.66 391.74 L302.04 396.17 L303.41 400.3 L304.78 404.06 L306.16 407.35 L307.53 410.1 L308.91 412.24 L310.28 413.69 L311.65 414.42 L313.03 414.39 L314.4 413.59 L315.78 412.04 L317.15 409.8 L318.52 406.9 L319.9 403.42 L321.27 399.45 L322.65 395.06 L324.02 390.34 L325.39 385.38 L326.77 380.27 L328.14 375.06 L329.52 369.84 L330.89 364.67 L332.26 359.58 L333.64 354.62 L335.01 349.82 L336.39 345.2 L337.76 340.79" fill="none" stroke="#3356b0" stroke-width="1.3" stroke-linejoin="round"/>
<path d="M62.96 395.38 L64.33 390.55 L65.71 385.45 L67.08 380.16 L68.46 374.77 L69.83 369.34 L71.2 363.94 L72.58 358.63 L73.95 353.44 L75.33 348.42 L76.7 343.59 L78.07 338.97 L79.45 334.58 L80.82 330.42 L82.2 326.49 L83.57 322.81 L84.94 319.36 L86.32 316.15 L87.69 313.16 L89.07 310.39 L90.44 307.84 L91.81 305.5 L93.19 303.35 L94.56 301.4 L95.94 299.62 L97.31 298.03 L98.68 296.6 L100.06 295.33 L101.43 294.22 L102.81 293.25 L104.18 292.43 L105.55 291.74 L106.93 291.18 L108.3 290.75 L109.68 290.44 L111.05 290.25 L112.42 290.17 L113.8 290.21 L115.17 290.35 L116.55 290.6 L117.92 290.96 L119.29 291.42 L120.67 291.98 L122.04 292.64 L123.42 293.41 L124.79 294.28 L126.16 295.26 L127.54 296.34 L128.91 297.53 L130.29 298.83 L131.66 300.24 L133.03 301.77 L134.41 303.43 L135.78 305.2 L137.16 307.11 L138.53 309.16 L139.9 311.35 L141.28 313.69 L142.65 316.19 L144.03 318.85 L145.4 321.68 L146.77 324.68 L148.15 327.87 L149.52 331.25 L150.9 334.81 L152.27 338.57 L153.64 342.53 L155.02 346.68 L156.39 351.01 L157.77 355.51 L159.14 360.17 L160.51 364.96 L161.89 369.85 L163.26 374.8 L164.64 379.76 L166.01 384.68 L167.38 389.48 L168.76 394.1 L170.13 398.44 L171.51 402.41 L172.88 405.94 L174.25 408.93 L175.63 411.29 L177 412.98 L178.38 413.92 L179.75 414.09 L181.12 413.5 L182.5 412.13 L183.87 410.03 L185.25 407.23 L186.62 403.82 L187.99 399.86 L189.37 395.46 L190.74 390.69 L192.12 385.66 L193.49 380.45 L194.86 375.14 L196.24 369.8 L197.61 364.49 L198.99 359.26 L200.36 354.17 L201.73 349.23 L203.11 344.49 L204.48 339.95 L205.86 335.63 L207.23 331.54 L208.6 327.69 L209.98 324.07 L211.35 320.68 L212.73 317.52 L214.1 314.59 L215.47 311.87 L216.85 309.37 L218.22 307.06 L219.6 304.96 L220.97 303.04 L222.34 301.3 L223.72 299.73 L225.09 298.33 L226.47 297.09 L227.84 296 L229.21 295.06 L230.59 294.25 L231.96 293.58 L233.34 293.04 L234.71 292.62 L236.08 292.33 L237.46 292.15 L238.83 292.08 L240.21 292.13 L241.58 292.28 L242.95 292.54 L244.33 292.9 L245.7 293.37 L247.08 293.93 L248.45 294.6 L249.82 295.38 L251.2 296.25 L252.57 297.23 L253.95 298.32 L255.32 299.51 L256.69 300.82 L258.07 302.24 L259.44 303.77 L260.82 305.43 L262.19 307.21 L263.56 309.13 L264.94 311.19 L266.31 313.39 L267.69 315.73 L269.06 318.24 L270.43 320.91 L271.81 323.75 L273.18 326.77 L274.56 329.98 L275.93 333.37 L277.3 336.95 L278.68 340.74 L280.05 344.71 L281.43 348.88 L282.8 353.23 L284.17 357.76 L285.55 362.45 L286.92 367.26 L288.3 372.18 L289.67 377.15 L291.04 382.14 L292.42 387.07 L293.79 391.89 L295.17 396.52 L296.54 400.86 L297.91 404.84 L299.29 408.36 L300.66 411.34 L302.04 413.7 L303.41 415.36 L304.78 416.28 L306.16 416.42 L307.53 415.74 L308.91 414.3 L310.28 412.11 L311.65 409.24 L313.03 405.75 L314.4 401.73 L315.78 397.26 L317.15 392.45 L318.52 387.37 L319.9 382.12 L321.27 376.78 L322.65 371.41 L324.02 366.09 L325.39 360.85 L326.77 355.75 L328.14 350.81 L329.52 346.07 L330.89 341.53 L332.26 337.22 L333.64 333.14 L335.01 329.3 L336.39 325.69 L337.76 322.32" fill="none" stroke="#3f78c8" stroke-width="1.3" stroke-linejoin="round"/>
<path d="M62.96 373.47 L64.33 367.83 L65.71 362.26 L67.08 356.82 L68.46 351.53 L69.83 346.45 L71.2 341.58 L72.58 336.94 L73.95 332.55 L75.33 328.41 L76.7 324.51 L78.07 320.87 L79.45 317.47 L80.82 314.31 L82.2 311.39 L83.57 308.69 L84.94 306.21 L86.32 303.93 L87.69 301.86 L89.07 299.98 L90.44 298.28 L91.81 296.76 L93.19 295.41 L94.56 294.21 L95.94 293.17 L97.31 292.28 L98.68 291.53 L100.06 290.92 L101.43 290.44 L102.81 290.08 L104.18 289.84 L105.55 289.73 L106.93 289.73 L108.3 289.84 L109.68 290.06 L111.05 290.38 L112.42 290.82 L113.8 291.36 L115.17 292 L116.55 292.75 L117.92 293.6 L119.29 294.56 L120.67 295.62 L122.04 296.8 L123.42 298.09 L124.79 299.49 L126.16 301.01 L127.54 302.66 L128.91 304.43 L130.29 306.33 L131.66 308.38 L133.03 310.57 L134.41 312.91 L135.78 315.41 L137.16 318.07 L138.53 320.91 L139.9 323.93 L141.28 327.14 L142.65 330.55 L144.03 334.15 L145.4 337.95 L146.77 341.97 L148.15 346.18 L149.52 350.59 L150.9 355.2 L152.27 359.97 L153.64 364.9 L155.02 369.96 L156.39 375.1 L157.77 380.27 L159.14 385.43 L160.51 390.51 L161.89 395.41 L163.26 400.07 L164.64 404.38 L166.01 408.26 L167.38 411.6 L168.76 414.32 L170.13 416.33 L171.51 417.59 L172.88 418.03 L174.25 417.65 L175.63 416.46 L177 414.47 L178.38 411.73 L179.75 408.32 L181.12 404.31 L182.5 399.81 L183.87 394.91 L185.25 389.71 L186.62 384.3 L187.99 378.76 L189.37 373.19 L190.74 367.64 L192.12 362.17 L193.49 356.83 L194.86 351.66 L196.24 346.68 L197.61 341.92 L198.99 337.4 L200.36 333.11 L201.73 329.07 L203.11 325.28 L204.48 321.73 L205.86 318.42 L207.23 315.35 L208.6 312.51 L209.98 309.88 L211.35 307.47 L212.73 305.27 L214.1 303.26 L215.47 301.44 L216.85 299.8 L218.22 298.33 L219.6 297.02 L220.97 295.88 L222.34 294.88 L223.72 294.03 L225.09 293.32 L226.47 292.74 L227.84 292.29 L229.21 291.96 L230.59 291.75 L231.96 291.66 L233.34 291.68 L234.71 291.82 L236.08 292.06 L237.46 292.4 L238.83 292.85 L240.21 293.41 L241.58 294.07 L242.95 294.83 L244.33 295.69 L245.7 296.66 L247.08 297.74 L248.45 298.93 L249.82 300.22 L251.2 301.64 L252.57 303.17 L253.95 304.82 L255.32 306.6 L256.69 308.51 L258.07 310.56 L259.44 312.76 L260.82 315.11 L262.19 317.61 L263.56 320.29 L264.94 323.13 L266.31 326.16 L267.69 329.37 L269.06 332.78 L270.43 336.39 L271.81 340.2 L273.18 344.21 L274.56 348.43 L275.93 352.84 L277.3 357.43 L278.68 362.2 L280.05 367.12 L281.43 372.15 L282.8 377.26 L284.17 382.4 L285.55 387.51 L286.92 392.52 L288.3 397.36 L289.67 401.93 L291.04 406.14 L292.42 409.9 L293.79 413.12 L295.17 415.71 L296.54 417.58 L297.91 418.69 L299.29 419 L300.66 418.47 L302.04 417.13 L303.41 415 L304.78 412.15 L306.16 408.64 L307.53 404.56 L308.91 400.01 L310.28 395.08 L311.65 389.86 L313.03 384.46 L314.4 378.95 L315.78 373.42 L317.15 367.91 L318.52 362.51 L319.9 357.23 L321.27 352.13 L322.65 347.23 L324.02 342.55 L325.39 338.1 L326.77 333.9 L328.14 329.93 L329.52 326.22 L330.89 322.74 L332.26 319.51 L333.64 316.5 L335.01 313.73 L336.39 311.17 L337.76 308.82" fill="none" stroke="#52a6c8" stroke-width="1.3" stroke-linejoin="round"/>
<path d="M62.96 349.35 L64.33 344.23 L65.71 339.35 L67.08 334.73 L68.46 330.36 L69.83 326.26 L71.2 322.42 L72.58 318.83 L73.95 315.5 L75.33 312.42 L76.7 309.57 L78.07 306.95 L79.45 304.54 L80.82 302.35 L82.2 300.36 L83.57 298.56 L84.94 296.94 L86.32 295.5 L87.69 294.23 L89.07 293.12 L90.44 292.16 L91.81 291.35 L93.19 290.67 L94.56 290.14 L95.94 289.73 L97.31 289.45 L98.68 289.29 L100.06 289.25 L101.43 289.33 L102.81 289.52 L104.18 289.81 L105.55 290.22 L106.93 290.73 L108.3 291.35 L109.68 292.08 L111.05 292.91 L112.42 293.85 L113.8 294.9 L115.17 296.06 L116.55 297.33 L117.92 298.72 L119.29 300.23 L120.67 301.86 L122.04 303.62 L123.42 305.52 L124.79 307.55 L126.16 309.73 L127.54 312.07 L128.91 314.56 L130.29 317.23 L131.66 320.07 L133.03 323.1 L134.41 326.31 L135.78 329.73 L137.16 333.36 L138.53 337.2 L139.9 341.25 L141.28 345.51 L142.65 349.99 L144.03 354.68 L145.4 359.55 L146.77 364.6 L148.15 369.8 L149.52 375.11 L150.9 380.48 L152.27 385.87 L153.64 391.19 L155.02 396.38 L156.39 401.35 L157.77 405.99 L159.14 410.22 L160.51 413.91 L161.89 416.99 L163.26 419.36 L164.64 420.94 L166.01 421.69 L167.38 421.57 L168.76 420.57 L170.13 418.72 L171.51 416.08 L172.88 412.69 L174.25 408.67 L175.63 404.09 L177 399.07 L178.38 393.71 L179.75 388.11 L181.12 382.37 L182.5 376.57 L183.87 370.78 L185.25 365.07 L186.62 359.49 L187.99 354.09 L189.37 348.88 L190.74 343.9 L192.12 339.17 L193.49 334.68 L194.86 330.46 L196.24 326.49 L197.61 322.78 L198.99 319.33 L200.36 316.12 L201.73 313.15 L203.11 310.41 L204.48 307.89 L205.86 305.59 L207.23 303.49 L208.6 301.58 L209.98 299.87 L211.35 298.33 L212.73 296.96 L214.1 295.76 L215.47 294.71 L216.85 293.81 L218.22 293.06 L219.6 292.44 L220.97 291.96 L222.34 291.6 L223.72 291.36 L225.09 291.25 L226.47 291.24 L227.84 291.35 L229.21 291.58 L230.59 291.9 L231.96 292.34 L233.34 292.88 L234.71 293.53 L236.08 294.27 L237.46 295.13 L238.83 296.09 L240.21 297.16 L241.58 298.33 L242.95 299.62 L244.33 301.02 L245.7 302.55 L247.08 304.19 L248.45 305.96 L249.82 307.87 L251.2 309.91 L252.57 312.1 L253.95 314.44 L255.32 316.95 L256.69 319.62 L258.07 322.46 L259.44 325.49 L260.82 328.71 L262.19 332.13 L263.56 335.75 L264.94 339.58 L266.31 343.63 L267.69 347.88 L269.06 352.34 L270.43 356.99 L271.81 361.83 L273.18 366.84 L274.56 371.98 L275.93 377.21 L277.3 382.5 L278.68 387.78 L280.05 392.97 L281.43 398.01 L282.8 402.81 L284.17 407.26 L285.55 411.26 L286.92 414.72 L288.3 417.55 L289.67 419.65 L291.04 420.97 L292.42 421.45 L293.79 421.08 L295.17 419.86 L296.54 417.81 L297.91 414.99 L299.29 411.48 L300.66 407.35 L302.04 402.72 L303.41 397.68 L304.78 392.33 L306.16 386.78 L307.53 381.11 L308.91 375.4 L310.28 369.73 L311.65 364.15 L313.03 358.71 L314.4 353.44 L315.78 348.39 L317.15 343.56 L318.52 338.98 L319.9 334.64 L321.27 330.56 L322.65 326.74 L324.02 323.16 L325.39 319.83 L326.77 316.75 L328.14 313.89 L329.52 311.27 L330.89 308.85 L332.26 306.65 L333.64 304.65 L335.01 302.83 L336.39 301.2 L337.76 299.74" fill="none" stroke="#34a69c" stroke-width="1.3" stroke-linejoin="round"/>
<path d="M62.96 328.49 L64.33 324.41 L65.71 320.6 L67.08 317.06 L68.46 313.77 L69.83 310.74 L71.2 307.95 L72.58 305.39 L73.95 303.05 L75.33 300.92 L76.7 299 L78.07 297.27 L79.45 295.72 L80.82 294.35 L82.2 293.15 L83.57 292.11 L84.94 291.22 L86.32 290.48 L87.69 289.88 L89.07 289.42 L90.44 289.09 L91.81 288.88 L93.19 288.8 L94.56 288.84 L95.94 288.99 L97.31 289.25 L98.68 289.63 L100.06 290.12 L101.43 290.72 L102.81 291.42 L104.18 292.24 L105.55 293.16 L106.93 294.2 L108.3 295.35 L109.68 296.61 L111.05 297.99 L112.42 299.49 L113.8 301.12 L115.17 302.88 L116.55 304.78 L117.92 306.82 L119.29 309.01 L120.67 311.35 L122.04 313.86 L123.42 316.54 L124.79 319.4 L126.16 322.46 L127.54 325.71 L128.91 329.17 L130.29 332.84 L131.66 336.73 L133.03 340.85 L134.41 345.2 L135.78 349.77 L137.16 354.57 L138.53 359.58 L139.9 364.78 L141.28 370.16 L142.65 375.68 L144.03 381.28 L145.4 386.93 L146.77 392.55 L148.15 398.07 L149.52 403.39 L150.9 408.41 L152.27 413.02 L153.64 417.13 L155.02 420.61 L156.39 423.38 L157.77 425.33 L159.14 426.42 L160.51 426.59 L161.89 425.81 L163.26 424.12 L164.64 421.56 L166.01 418.21 L167.38 414.14 L168.76 409.46 L170.13 404.29 L171.51 398.74 L172.88 392.9 L174.25 386.9 L175.63 380.82 L177 374.75 L178.38 368.74 L179.75 362.87 L181.12 357.17 L182.5 351.69 L183.87 346.44 L185.25 341.45 L186.62 336.72 L187.99 332.27 L189.37 328.09 L190.74 324.18 L192.12 320.54 L193.49 317.16 L194.86 314.04 L196.24 311.15 L197.61 308.5 L198.99 306.08 L200.36 303.87 L201.73 301.86 L203.11 300.05 L204.48 298.43 L205.86 296.99 L207.23 295.71 L208.6 294.6 L209.98 293.65 L211.35 292.84 L212.73 292.18 L214.1 291.65 L215.47 291.25 L216.85 290.99 L218.22 290.84 L219.6 290.81 L220.97 290.9 L222.34 291.1 L223.72 291.41 L225.09 291.83 L226.47 292.36 L227.84 292.99 L229.21 293.73 L230.59 294.57 L231.96 295.53 L233.34 296.59 L234.71 297.76 L236.08 299.04 L237.46 300.44 L238.83 301.96 L240.21 303.61 L241.58 305.38 L242.95 307.28 L244.33 309.33 L245.7 311.52 L247.08 313.87 L248.45 316.38 L249.82 319.06 L251.2 321.92 L252.57 324.96 L253.95 328.2 L255.32 331.65 L256.69 335.3 L258.07 339.16 L259.44 343.25 L260.82 347.56 L262.19 352.08 L263.56 356.81 L264.94 361.75 L266.31 366.86 L267.69 372.12 L269.06 377.5 L270.43 382.95 L271.81 388.41 L273.18 393.82 L274.56 399.08 L275.93 404.12 L277.3 408.82 L278.68 413.09 L280.05 416.82 L281.43 419.9 L282.8 422.25 L284.17 423.79 L285.55 424.46 L286.92 424.25 L288.3 423.16 L289.67 421.2 L291.04 418.42 L292.42 414.89 L293.79 410.71 L295.17 405.98 L296.54 400.82 L297.91 395.32 L299.29 389.59 L300.66 383.73 L302.04 377.83 L303.41 371.96 L304.78 366.18 L306.16 360.54 L307.53 355.09 L308.91 349.85 L310.28 344.86 L311.65 340.11 L313.03 335.62 L314.4 331.4 L315.78 327.45 L317.15 323.76 L318.52 320.32 L319.9 317.13 L321.27 314.19 L322.65 311.48 L324.02 308.99 L325.39 306.72 L326.77 304.65 L328.14 302.78 L329.52 301.1 L330.89 299.6 L332.26 298.26 L333.64 297.09 L335.01 296.08 L336.39 295.21 L337.76 294.49" fill="none" stroke="#62c6a6" stroke-width="1.3" stroke-linejoin="round"/>
<path d="M62.96 311.55 L64.33 308.63 L65.71 305.95 L67.08 303.5 L68.46 301.28 L69.83 299.26 L71.2 297.44 L72.58 295.81 L73.95 294.37 L75.33 293.1 L76.7 291.99 L78.07 291.05 L79.45 290.25 L80.82 289.6 L82.2 289.09 L83.57 288.72 L84.94 288.47 L86.32 288.35 L87.69 288.35 L89.07 288.47 L90.44 288.7 L91.81 289.05 L93.19 289.5 L94.56 290.07 L95.94 290.75 L97.31 291.54 L98.68 292.44 L100.06 293.45 L101.43 294.57 L102.81 295.81 L104.18 297.16 L105.55 298.64 L106.93 300.24 L108.3 301.98 L109.68 303.84 L111.05 305.85 L112.42 308.01 L113.8 310.33 L115.17 312.81 L116.55 315.46 L117.92 318.3 L119.29 321.32 L120.67 324.55 L122.04 327.98 L123.42 331.64 L124.79 335.51 L126.16 339.63 L127.54 343.97 L128.91 348.56 L130.29 353.37 L131.66 358.42 L133.03 363.68 L134.41 369.13 L135.78 374.75 L137.16 380.48 L138.53 386.29 L139.9 392.09 L141.28 397.83 L142.65 403.4 L144.03 408.71 L145.4 413.64 L146.77 418.09 L148.15 421.93 L149.52 425.05 L150.9 427.36 L152.27 428.79 L153.64 429.27 L155.02 428.78 L156.39 427.33 L157.77 424.95 L159.14 421.72 L160.51 417.72 L161.89 413.05 L163.26 407.84 L164.64 402.2 L166.01 396.25 L167.38 390.1 L168.76 383.84 L170.13 377.58 L171.51 371.38 L172.88 365.3 L174.25 359.4 L175.63 353.71 L177 348.27 L178.38 343.09 L179.75 338.19 L181.12 333.57 L182.5 329.23 L183.87 325.18 L185.25 321.4 L186.62 317.89 L187.99 314.64 L189.37 311.65 L190.74 308.9 L192.12 306.38 L193.49 304.09 L194.86 302.01 L196.24 300.12 L197.61 298.44 L198.99 296.93 L200.36 295.61 L201.73 294.45 L203.11 293.44 L204.48 292.6 L205.86 291.89 L207.23 291.33 L208.6 290.9 L209.98 290.61 L211.35 290.43 L212.73 290.38 L214.1 290.44 L215.47 290.62 L216.85 290.92 L218.22 291.32 L219.6 291.83 L220.97 292.45 L222.34 293.17 L223.72 294 L225.09 294.95 L226.47 296 L227.84 297.16 L229.21 298.43 L230.59 299.82 L231.96 301.33 L233.34 302.97 L234.71 304.73 L236.08 306.63 L237.46 308.67 L238.83 310.86 L240.21 313.21 L241.58 315.72 L242.95 318.4 L244.33 321.26 L245.7 324.31 L247.08 327.56 L248.45 331.02 L249.82 334.69 L251.2 338.59 L252.57 342.71 L253.95 347.06 L255.32 351.64 L256.69 356.45 L258.07 361.47 L259.44 366.69 L260.82 372.08 L262.19 377.61 L263.56 383.23 L264.94 388.88 L266.31 394.5 L267.69 400.01 L269.06 405.31 L270.43 410.29 L271.81 414.85 L273.18 418.88 L274.56 422.26 L275.93 424.9 L277.3 426.7 L278.68 427.61 L280.05 427.59 L281.43 426.65 L282.8 424.78 L284.17 422.05 L285.55 418.52 L286.92 414.29 L288.3 409.47 L289.67 404.17 L291.04 398.52 L292.42 392.61 L293.79 386.55 L295.17 380.44 L296.54 374.36 L297.91 368.37 L299.29 362.53 L300.66 356.88 L302.04 351.45 L303.41 346.27 L304.78 341.35 L306.16 336.71 L307.53 332.34 L308.91 328.24 L310.28 324.43 L311.65 320.87 L313.03 317.58 L314.4 314.54 L315.78 311.74 L317.15 309.17 L318.52 306.83 L319.9 304.7 L321.27 302.77 L322.65 301.03 L324.02 299.48 L325.39 298.1 L326.77 296.89 L328.14 295.84 L329.52 294.94 L330.89 294.19 L332.26 293.58 L333.64 293.11 L335.01 292.76 L336.39 292.54 L337.76 292.43" fill="none" stroke="#4e9680" stroke-width="1.3" stroke-linejoin="round"/>
<path d="M62.96 299.42 L64.33 297.53 L65.71 295.84 L67.08 294.33 L68.46 293 L69.83 291.84 L71.2 290.84 L72.58 290 L73.95 289.31 L75.33 288.76 L76.7 288.34 L78.07 288.06 L79.45 287.9 L80.82 287.87 L82.2 287.95 L83.57 288.15 L84.94 288.47 L86.32 288.9 L87.69 289.44 L89.07 290.08 L90.44 290.84 L91.81 291.71 L93.19 292.69 L94.56 293.78 L95.94 294.98 L97.31 296.3 L98.68 297.74 L100.06 299.31 L101.43 301 L102.81 302.83 L104.18 304.79 L105.55 306.91 L106.93 309.17 L108.3 311.6 L109.68 314.21 L111.05 316.99 L112.42 319.96 L113.8 323.13 L115.17 326.51 L116.55 330.11 L117.92 333.94 L119.29 338 L120.67 342.31 L122.04 346.85 L123.42 351.64 L124.79 356.67 L126.16 361.93 L127.54 367.4 L128.91 373.05 L130.29 378.85 L131.66 384.75 L133.03 390.68 L134.41 396.58 L135.78 402.35 L137.16 407.89 L138.53 413.09 L139.9 417.83 L141.28 421.99 L142.65 425.45 L144.03 428.11 L145.4 429.88 L146.77 430.69 L148.15 430.51 L149.52 429.32 L150.9 427.18 L152.27 424.12 L153.64 420.24 L155.02 415.65 L156.39 410.46 L157.77 404.8 L159.14 398.78 L160.51 392.53 L161.89 386.16 L163.26 379.76 L164.64 373.41 L166.01 367.17 L167.38 361.11 L168.76 355.27 L170.13 349.67 L171.51 344.34 L172.88 339.3 L174.25 334.54 L175.63 330.08 L177 325.9 L178.38 322.01 L179.75 318.4 L181.12 315.06 L182.5 311.98 L183.87 309.15 L185.25 306.56 L186.62 304.19 L187.99 302.05 L189.37 300.11 L190.74 298.37 L192.12 296.82 L193.49 295.45 L194.86 294.25 L196.24 293.21 L197.61 292.32 L198.99 291.59 L200.36 291 L201.73 290.54 L203.11 290.22 L204.48 290.02 L205.86 289.95 L207.23 289.99 L208.6 290.15 L209.98 290.42 L211.35 290.81 L212.73 291.3 L214.1 291.9 L215.47 292.61 L216.85 293.43 L218.22 294.35 L219.6 295.38 L220.97 296.53 L222.34 297.79 L223.72 299.16 L225.09 300.65 L226.47 302.27 L227.84 304.02 L229.21 305.9 L230.59 307.92 L231.96 310.09 L233.34 312.42 L234.71 314.91 L236.08 317.57 L237.46 320.42 L238.83 323.46 L240.21 326.7 L241.58 330.14 L242.95 333.81 L244.33 337.71 L245.7 341.84 L247.08 346.21 L248.45 350.81 L249.82 355.66 L251.2 360.73 L252.57 366.01 L253.95 371.49 L255.32 377.12 L256.69 382.87 L258.07 388.68 L259.44 394.48 L260.82 400.19 L262.19 405.72 L263.56 410.96 L264.94 415.79 L266.31 420.1 L267.69 423.77 L269.06 426.69 L270.43 428.76 L271.81 429.92 L273.18 430.11 L274.56 429.34 L275.93 427.59 L277.3 424.94 L278.68 421.44 L280.05 417.19 L281.43 412.32 L282.8 406.93 L284.17 401.14 L285.55 395.09 L286.92 388.87 L288.3 382.59 L289.67 376.32 L291.04 370.15 L292.42 364.13 L293.79 358.31 L295.17 352.72 L296.54 347.38 L297.91 342.32 L299.29 337.53 L300.66 333.04 L302.04 328.83 L303.41 324.9 L304.78 321.25 L306.16 317.87 L307.53 314.75 L308.91 311.88 L310.28 309.24 L311.65 306.84 L313.03 304.65 L314.4 302.67 L315.78 300.89 L317.15 299.3 L318.52 297.89 L319.9 296.65 L321.27 295.57 L322.65 294.65 L324.02 293.88 L325.39 293.25 L326.77 292.75 L328.14 292.39 L329.52 292.16 L330.89 292.04 L332.26 292.05 L333.64 292.17 L335.01 292.4 L336.39 292.74 L337.76 293.19" fill="none" stroke="#9a98b6" stroke-width="1.3" stroke-linejoin="round"/>
<path d="M62.96 291.68 L64.33 290.63 L65.71 289.75 L67.08 289.01 L68.46 288.42 L69.83 287.97 L71.2 287.65 L72.58 287.46 L73.95 287.39 L75.33 287.44 L76.7 287.61 L78.07 287.9 L79.45 288.3 L80.82 288.8 L82.2 289.42 L83.57 290.15 L84.94 290.98 L86.32 291.93 L87.69 292.98 L89.07 294.15 L90.44 295.43 L91.81 296.83 L93.19 298.36 L94.56 300.01 L95.94 301.79 L97.31 303.71 L98.68 305.77 L100.06 307.98 L101.43 310.36 L102.81 312.9 L104.18 315.62 L105.55 318.53 L106.93 321.63 L108.3 324.95 L109.68 328.48 L111.05 332.24 L112.42 336.24 L113.8 340.48 L115.17 344.97 L116.55 349.71 L117.92 354.7 L119.29 359.93 L120.67 365.38 L122.04 371.04 L123.42 376.87 L124.79 382.83 L126.16 388.85 L127.54 394.87 L128.91 400.8 L130.29 406.54 L131.66 411.98 L133.03 416.99 L134.41 421.46 L135.78 425.25 L137.16 428.25 L138.53 430.37 L139.9 431.52 L141.28 431.65 L142.65 430.77 L144.03 428.88 L145.4 426.04 L146.77 422.33 L148.15 417.85 L149.52 412.71 L150.9 407.06 L152.27 401.02 L153.64 394.71 L155.02 388.25 L156.39 381.73 L157.77 375.25 L159.14 368.88 L160.51 362.68 L161.89 356.7 L163.26 350.96 L164.64 345.49 L166.01 340.31 L167.38 335.43 L168.76 330.85 L170.13 326.56 L171.51 322.57 L172.88 318.86 L174.25 315.43 L175.63 312.27 L177 309.37 L178.38 306.7 L179.75 304.28 L181.12 302.07 L182.5 300.08 L183.87 298.29 L185.25 296.69 L186.62 295.28 L187.99 294.04 L189.37 292.97 L190.74 292.05 L192.12 291.28 L193.49 290.66 L194.86 290.18 L196.24 289.83 L197.61 289.61 L198.99 289.52 L200.36 289.54 L201.73 289.68 L203.11 289.93 L204.48 290.3 L205.86 290.78 L207.23 291.36 L208.6 292.05 L209.98 292.85 L211.35 293.76 L212.73 294.77 L214.1 295.9 L215.47 297.14 L216.85 298.5 L218.22 299.97 L219.6 301.57 L220.97 303.3 L222.34 305.16 L223.72 307.16 L225.09 309.31 L226.47 311.62 L227.84 314.09 L229.21 316.74 L230.59 319.56 L231.96 322.58 L233.34 325.81 L234.71 329.25 L236.08 332.91 L237.46 336.8 L238.83 340.93 L240.21 345.31 L241.58 349.94 L242.95 354.82 L244.33 359.94 L245.7 365.28 L247.08 370.84 L248.45 376.58 L249.82 382.45 L251.2 388.41 L252.57 394.39 L253.95 400.31 L255.32 406.07 L256.69 411.56 L258.07 416.67 L259.44 421.28 L260.82 425.25 L262.19 428.47 L263.56 430.83 L264.94 432.26 L266.31 432.69 L267.69 432.1 L269.06 430.5 L270.43 427.93 L271.81 424.47 L273.18 420.22 L274.56 415.29 L275.93 409.81 L277.3 403.9 L278.68 397.7 L280.05 391.31 L281.43 384.85 L282.8 378.4 L284.17 372.04 L285.55 365.84 L286.92 359.84 L288.3 354.07 L289.67 348.57 L291.04 343.35 L292.42 338.43 L293.79 333.8 L295.17 329.47 L296.54 325.43 L297.91 321.68 L299.29 318.2 L300.66 314.99 L302.04 312.04 L303.41 309.34 L304.78 306.87 L306.16 304.63 L307.53 302.6 L308.91 300.77 L310.28 299.14 L311.65 297.69 L313.03 296.42 L314.4 295.31 L315.78 294.36 L317.15 293.57 L318.52 292.92 L319.9 292.41 L321.27 292.03 L322.65 291.78 L324.02 291.65 L325.39 291.65 L326.77 291.76 L328.14 291.98 L329.52 292.31 L330.89 292.76 L332.26 293.31 L333.64 293.96 L335.01 294.73 L336.39 295.6 L337.76 296.58" fill="none" stroke="#a08594" stroke-width="1.3" stroke-linejoin="round"/>
<path d="M62.96 287.6 L64.33 287.25 L65.71 287.02 L67.08 286.92 L68.46 286.94 L69.83 287.08 L71.2 287.34 L72.58 287.7 L73.95 288.18 L75.33 288.77 L76.7 289.46 L78.07 290.26 L79.45 291.18 L80.82 292.2 L82.2 293.33 L83.57 294.57 L84.94 295.93 L86.32 297.42 L87.69 299.02 L89.07 300.75 L90.44 302.62 L91.81 304.63 L93.19 306.79 L94.56 309.11 L95.94 311.59 L97.31 314.24 L98.68 317.08 L100.06 320.12 L101.43 323.36 L102.81 326.82 L104.18 330.51 L105.55 334.43 L106.93 338.6 L108.3 343.03 L109.68 347.7 L111.05 352.64 L112.42 357.83 L113.8 363.25 L115.17 368.9 L116.55 374.74 L117.92 380.73 L119.29 386.82 L120.67 392.94 L122.04 399.01 L123.42 404.92 L124.79 410.58 L126.16 415.85 L127.54 420.61 L128.91 424.72 L130.29 428.07 L131.66 430.54 L133.03 432.03 L134.41 432.5 L135.78 431.94 L137.16 430.34 L138.53 427.74 L139.9 424.21 L141.28 419.87 L142.65 414.82 L144.03 409.2 L145.4 403.15 L146.77 396.79 L148.15 390.25 L149.52 383.64 L150.9 377.04 L152.27 370.55 L153.64 364.21 L155.02 358.09 L156.39 352.21 L157.77 346.61 L159.14 341.31 L160.51 336.3 L161.89 331.6 L163.26 327.21 L164.64 323.12 L166.01 319.32 L167.38 315.8 L168.76 312.56 L170.13 309.57 L171.51 306.85 L172.88 304.36 L174.25 302.09 L175.63 300.05 L177 298.21 L178.38 296.57 L179.75 295.11 L181.12 293.83 L182.5 292.72 L183.87 291.78 L185.25 290.98 L186.62 290.33 L187.99 289.82 L189.37 289.45 L190.74 289.21 L192.12 289.09 L193.49 289.09 L194.86 289.21 L196.24 289.45 L197.61 289.79 L198.99 290.25 L200.36 290.82 L201.73 291.49 L203.11 292.27 L204.48 293.16 L205.86 294.16 L207.23 295.27 L208.6 296.49 L209.98 297.83 L211.35 299.28 L212.73 300.86 L214.1 302.57 L215.47 304.41 L216.85 306.39 L218.22 308.52 L219.6 310.8 L220.97 313.25 L222.34 315.87 L223.72 318.68 L225.09 321.68 L226.47 324.89 L227.84 328.31 L229.21 331.95 L230.59 335.84 L231.96 339.97 L233.34 344.35 L234.71 348.99 L236.08 353.89 L237.46 359.04 L238.83 364.44 L240.21 370.07 L241.58 375.9 L242.95 381.88 L244.33 387.98 L245.7 394.13 L247.08 400.24 L248.45 406.23 L249.82 411.97 L251.2 417.36 L252.57 422.25 L253.95 426.53 L255.32 430.06 L256.69 432.72 L258.07 434.43 L259.44 435.12 L260.82 434.74 L262.19 433.29 L263.56 430.83 L264.94 427.43 L266.31 423.18 L267.69 418.21 L269.06 412.65 L270.43 406.63 L271.81 400.29 L273.18 393.74 L274.56 387.1 L275.93 380.47 L277.3 373.93 L278.68 367.54 L280.05 361.36 L281.43 355.42 L282.8 349.75 L284.17 344.38 L285.55 339.32 L286.92 334.55 L288.3 330.1 L289.67 325.95 L291.04 322.09 L292.42 318.52 L293.79 315.23 L295.17 312.21 L296.54 309.43 L297.91 306.9 L299.29 304.6 L300.66 302.52 L302.04 300.65 L303.41 298.98 L304.78 297.49 L306.16 296.18 L307.53 295.05 L308.91 294.08 L310.28 293.26 L311.65 292.59 L313.03 292.06 L314.4 291.66 L315.78 291.4 L317.15 291.26 L318.52 291.24 L319.9 291.35 L321.27 291.56 L322.65 291.89 L324.02 292.33 L325.39 292.87 L326.77 293.52 L328.14 294.28 L329.52 295.15 L330.89 296.13 L332.26 297.21 L333.64 298.4 L335.01 299.71 L336.39 301.13 L337.76 302.68" fill="none" stroke="#bf9c8e" stroke-width="1.3" stroke-linejoin="round"/>
<path d="M62.96 286.56 L64.33 286.78 L65.71 287.12 L67.08 287.57 L68.46 288.12 L69.83 288.78 L71.2 289.56 L72.58 290.43 L73.95 291.42 L75.33 292.52 L76.7 293.72 L78.07 295.04 L79.45 296.48 L80.82 298.04 L82.2 299.73 L83.57 301.55 L84.94 303.5 L86.32 305.61 L87.69 307.86 L89.07 310.28 L90.44 312.87 L91.81 315.64 L93.19 318.6 L94.56 321.77 L95.94 325.15 L97.31 328.76 L98.68 332.6 L100.06 336.69 L101.43 341.04 L102.81 345.64 L104.18 350.51 L105.55 355.64 L106.93 361.02 L108.3 366.64 L109.68 372.47 L111.05 378.47 L112.42 384.61 L113.8 390.8 L115.17 396.99 L116.55 403.06 L117.92 408.91 L119.29 414.42 L120.67 419.46 L122.04 423.88 L123.42 427.57 L124.79 430.39 L126.16 432.24 L127.54 433.06 L128.91 432.81 L130.29 431.52 L131.66 429.18 L133.03 425.86 L134.41 421.67 L135.78 416.73 L137.16 411.17 L138.53 405.13 L139.9 398.74 L141.28 392.13 L142.65 385.43 L144.03 378.73 L145.4 372.11 L146.77 365.65 L148.15 359.39 L149.52 353.39 L150.9 347.66 L152.27 342.23 L153.64 337.11 L155.02 332.3 L156.39 327.8 L157.77 323.61 L159.14 319.72 L160.51 316.12 L161.89 312.8 L163.26 309.75 L164.64 306.95 L166.01 304.4 L167.38 302.09 L168.76 299.99 L170.13 298.11 L171.51 296.42 L172.88 294.93 L174.25 293.61 L175.63 292.47 L177 291.49 L178.38 290.67 L179.75 289.99 L181.12 289.46 L182.5 289.07 L183.87 288.8 L185.25 288.66 L186.62 288.64 L187.99 288.75 L189.37 288.96 L190.74 289.29 L192.12 289.73 L193.49 290.28 L194.86 290.93 L196.24 291.7 L197.61 292.57 L198.99 293.54 L200.36 294.63 L201.73 295.83 L203.11 297.15 L204.48 298.58 L205.86 300.13 L207.23 301.82 L208.6 303.63 L209.98 305.58 L211.35 307.68 L212.73 309.93 L214.1 312.35 L215.47 314.94 L216.85 317.71 L218.22 320.68 L219.6 323.85 L220.97 327.24 L222.34 330.85 L223.72 334.71 L225.09 338.81 L226.47 343.18 L227.84 347.8 L229.21 352.7 L230.59 357.86 L231.96 363.28 L233.34 368.94 L234.71 374.82 L236.08 380.88 L237.46 387.08 L238.83 393.35 L240.21 399.62 L241.58 405.79 L242.95 411.75 L244.33 417.38 L245.7 422.54 L247.08 427.1 L248.45 430.92 L249.82 433.88 L251.2 435.87 L252.57 436.81 L253.95 436.66 L255.32 435.39 L256.69 433.06 L258.07 429.74 L259.44 425.54 L260.82 420.56 L262.19 414.95 L263.56 408.85 L264.94 402.39 L266.31 395.72 L267.69 388.93 L269.06 382.15 L270.43 375.45 L271.81 368.9 L273.18 362.56 L274.56 356.48 L275.93 350.67 L277.3 345.17 L278.68 339.98 L280.05 335.1 L281.43 330.55 L282.8 326.3 L284.17 322.36 L285.55 318.71 L286.92 315.35 L288.3 312.26 L289.67 309.43 L291.04 306.84 L292.42 304.5 L293.79 302.38 L295.17 300.47 L296.54 298.76 L297.91 297.25 L299.29 295.91 L300.66 294.76 L302.04 293.76 L303.41 292.93 L304.78 292.24 L306.16 291.7 L307.53 291.29 L308.91 291.01 L310.28 290.87 L311.65 290.84 L313.03 290.93 L314.4 291.14 L315.78 291.46 L317.15 291.89 L318.52 292.43 L319.9 293.08 L321.27 293.84 L322.65 294.7 L324.02 295.66 L325.39 296.74 L326.77 297.93 L328.14 299.23 L329.52 300.65 L330.89 302.18 L332.26 303.85 L333.64 305.64 L335.01 307.57 L336.39 309.64 L337.76 311.87" fill="none" stroke="#c99662" stroke-width="1.3" stroke-linejoin="round"/>
<path d="M62.96 288.12 L64.33 288.86 L65.71 289.7 L67.08 290.65 L68.46 291.71 L69.83 292.88 L71.2 294.17 L72.58 295.57 L73.95 297.08 L75.33 298.72 L76.7 300.49 L78.07 302.4 L79.45 304.44 L80.82 306.64 L82.2 309 L83.57 311.52 L84.94 314.22 L86.32 317.11 L87.69 320.21 L89.07 323.51 L90.44 327.04 L91.81 330.8 L93.19 334.81 L94.56 339.08 L95.94 343.6 L97.31 348.4 L98.68 353.47 L100.06 358.79 L101.43 364.37 L102.81 370.18 L104.18 376.19 L105.55 382.35 L106.93 388.61 L108.3 394.89 L109.68 401.1 L111.05 407.14 L112.42 412.88 L113.8 418.18 L115.17 422.91 L116.55 426.93 L117.92 430.1 L119.29 432.32 L120.67 433.5 L122.04 433.59 L123.42 432.61 L124.79 430.55 L126.16 427.47 L127.54 423.45 L128.91 418.63 L130.29 413.14 L131.66 407.11 L133.03 400.71 L134.41 394.04 L135.78 387.26 L137.16 380.45 L138.53 373.71 L139.9 367.12 L141.28 360.73 L142.65 354.6 L144.03 348.74 L145.4 343.18 L146.77 337.94 L148.15 333.01 L149.52 328.41 L150.9 324.12 L152.27 320.13 L153.64 316.45 L155.02 313.05 L156.39 309.92 L157.77 307.06 L159.14 304.45 L160.51 302.08 L161.89 299.94 L163.26 298 L164.64 296.28 L166.01 294.74 L167.38 293.39 L168.76 292.22 L170.13 291.21 L171.51 290.36 L172.88 289.66 L174.25 289.1 L175.63 288.68 L177 288.39 L178.38 288.24 L179.75 288.2 L181.12 288.28 L182.5 288.48 L183.87 288.79 L185.25 289.21 L186.62 289.74 L187.99 290.38 L189.37 291.12 L190.74 291.97 L192.12 292.93 L193.49 294 L194.86 295.18 L196.24 296.47 L197.61 297.87 L198.99 299.4 L200.36 301.06 L201.73 302.84 L203.11 304.76 L204.48 306.83 L205.86 309.05 L207.23 311.43 L208.6 313.98 L209.98 316.72 L211.35 319.65 L212.73 322.78 L214.1 326.13 L215.47 329.7 L216.85 333.52 L218.22 337.59 L219.6 341.92 L220.97 346.52 L222.34 351.4 L223.72 356.55 L225.09 361.97 L226.47 367.65 L227.84 373.56 L229.21 379.68 L230.59 385.96 L231.96 392.34 L233.34 398.74 L234.71 405.07 L236.08 411.23 L237.46 417.08 L238.83 422.49 L240.21 427.32 L241.58 431.42 L242.95 434.67 L244.33 436.95 L245.7 438.16 L247.08 438.26 L248.45 437.18 L249.82 435 L251.2 431.79 L252.57 427.64 L253.95 422.67 L255.32 417.03 L256.69 410.87 L258.07 404.32 L259.44 397.52 L260.82 390.61 L262.19 383.68 L263.56 376.83 L264.94 370.14 L266.31 363.66 L267.69 357.43 L269.06 351.5 L270.43 345.87 L271.81 340.56 L273.18 335.58 L274.56 330.92 L275.93 326.59 L277.3 322.57 L278.68 318.85 L280.05 315.42 L281.43 312.27 L282.8 309.38 L284.17 306.75 L285.55 304.36 L286.92 302.2 L288.3 300.26 L289.67 298.53 L291.04 296.99 L292.42 295.63 L293.79 294.45 L295.17 293.44 L296.54 292.59 L297.91 291.88 L299.29 291.33 L300.66 290.91 L302.04 290.63 L303.41 290.47 L304.78 290.44 L306.16 290.52 L307.53 290.72 L308.91 291.04 L310.28 291.46 L311.65 292 L313.03 292.64 L314.4 293.38 L315.78 294.24 L317.15 295.2 L318.52 296.27 L319.9 297.45 L321.27 298.74 L322.65 300.15 L324.02 301.68 L325.39 303.33 L326.77 305.11 L328.14 307.03 L329.52 309.09 L330.89 311.3 L332.26 313.67 L333.64 316.21 L335.01 318.93 L336.39 321.84 L337.76 324.95" fill="none" stroke="#d9aa5c" stroke-width="1.3" stroke-linejoin="round"/>
<path d="M62.96 292.05 L64.33 293.3 L65.71 294.65 L67.08 296.12 L68.46 297.72 L69.83 299.43 L71.2 301.29 L72.58 303.27 L73.95 305.41 L75.33 307.7 L76.7 310.15 L78.07 312.78 L79.45 315.6 L80.82 318.61 L82.2 321.82 L83.57 325.26 L84.94 328.93 L86.32 332.85 L87.69 337.02 L89.07 341.46 L90.44 346.17 L91.81 351.15 L93.19 356.4 L94.56 361.92 L95.94 367.68 L97.31 373.66 L98.68 379.83 L100.06 386.12 L101.43 392.46 L102.81 398.78 L104.18 404.96 L105.55 410.89 L106.93 416.44 L108.3 421.45 L109.68 425.79 L111.05 429.31 L112.42 431.89 L113.8 433.43 L115.17 433.87 L116.55 433.22 L117.92 431.47 L119.29 428.64 L120.67 424.83 L122.04 420.17 L123.42 414.77 L124.79 408.8 L126.16 402.39 L127.54 395.7 L128.91 388.85 L130.29 381.96 L131.66 375.12 L133.03 368.42 L134.41 361.91 L135.78 355.66 L137.16 349.68 L138.53 344.01 L139.9 338.65 L141.28 333.62 L142.65 328.92 L144.03 324.54 L145.4 320.47 L146.77 316.71 L148.15 313.24 L149.52 310.05 L150.9 307.12 L152.27 304.46 L153.64 302.04 L155.02 299.84 L156.39 297.87 L157.77 296.11 L159.14 294.54 L160.51 293.15 L161.89 291.95 L163.26 290.91 L164.64 290.04 L166.01 289.31 L167.38 288.73 L168.76 288.29 L170.13 287.99 L171.51 287.81 L172.88 287.75 L174.25 287.82 L175.63 288 L177 288.29 L178.38 288.69 L179.75 289.2 L181.12 289.82 L182.5 290.55 L183.87 291.38 L185.25 292.31 L186.62 293.36 L187.99 294.51 L189.37 295.78 L190.74 297.16 L192.12 298.66 L193.49 300.28 L194.86 302.03 L196.24 303.92 L197.61 305.95 L198.99 308.13 L200.36 310.47 L201.73 312.98 L203.11 315.67 L204.48 318.55 L205.86 321.63 L207.23 324.93 L208.6 328.45 L209.98 332.22 L211.35 336.24 L212.73 340.52 L214.1 345.08 L215.47 349.92 L216.85 355.04 L218.22 360.43 L219.6 366.1 L220.97 372.02 L222.34 378.17 L223.72 384.5 L225.09 390.95 L226.47 397.45 L227.84 403.92 L229.21 410.24 L230.59 416.29 L231.96 421.93 L233.34 427.01 L234.71 431.39 L236.08 434.92 L237.46 437.47 L238.83 438.96 L240.21 439.31 L241.58 438.45 L242.95 436.44 L244.33 433.36 L245.7 429.29 L247.08 424.36 L248.45 418.72 L249.82 412.51 L251.2 405.89 L252.57 399.01 L253.95 391.98 L255.32 384.93 L256.69 377.96 L258.07 371.14 L259.44 364.53 L260.82 358.18 L262.19 352.13 L263.56 346.39 L264.94 340.99 L266.31 335.91 L267.69 331.17 L269.06 326.76 L270.43 322.67 L271.81 318.88 L273.18 315.4 L274.56 312.2 L275.93 309.27 L277.3 306.6 L278.68 304.18 L280.05 301.99 L281.43 300.02 L282.8 298.25 L284.17 296.69 L285.55 295.32 L286.92 294.12 L288.3 293.1 L289.67 292.23 L291.04 291.52 L292.42 290.95 L293.79 290.53 L295.17 290.23 L296.54 290.07 L297.91 290.03 L299.29 290.11 L300.66 290.3 L302.04 290.61 L303.41 291.03 L304.78 291.56 L306.16 292.19 L307.53 292.93 L308.91 293.78 L310.28 294.73 L311.65 295.79 L313.03 296.96 L314.4 298.24 L315.78 299.63 L317.15 301.15 L318.52 302.78 L319.9 304.55 L321.27 306.45 L322.65 308.49 L324.02 310.68 L325.39 313.03 L326.77 315.55 L328.14 318.24 L329.52 321.13 L330.89 324.22 L332.26 327.52 L333.64 331.04 L335.01 334.81 L336.39 338.82 L337.76 343.1" fill="none" stroke="#e8c236" stroke-width="1.3" stroke-linejoin="round"/>
<path d="M62.96 298.39 L64.33 300.19 L65.71 302.12 L67.08 304.19 L68.46 306.41 L69.83 308.8 L71.2 311.35 L72.58 314.08 L73.95 317.01 L75.33 320.14 L76.7 323.49 L78.07 327.06 L79.45 330.88 L80.82 334.95 L82.2 339.29 L83.57 343.9 L84.94 348.79 L86.32 353.95 L87.69 359.39 L89.07 365.09 L90.44 371.03 L91.81 377.17 L93.19 383.46 L94.56 389.85 L95.94 396.25 L97.31 402.56 L98.68 408.66 L100.06 414.42 L101.43 419.69 L102.81 424.34 L104.18 428.2 L105.55 431.14 L106.93 433.05 L108.3 433.86 L109.68 433.54 L111.05 432.11 L112.42 429.56 L113.8 425.99 L115.17 421.5 L116.55 416.23 L117.92 410.33 L119.29 403.95 L120.67 397.24 L122.04 390.34 L123.42 383.38 L124.79 376.45 L126.16 369.64 L127.54 363.03 L128.91 356.66 L130.29 350.57 L131.66 344.79 L133.03 339.33 L134.41 334.2 L135.78 329.4 L137.16 324.93 L138.53 320.78 L139.9 316.94 L141.28 313.4 L142.65 310.14 L144.03 307.16 L145.4 304.45 L146.77 301.97 L148.15 299.74 L149.52 297.73 L150.9 295.92 L152.27 294.32 L153.64 292.91 L155.02 291.67 L156.39 290.61 L157.77 289.71 L159.14 288.96 L160.51 288.36 L161.89 287.9 L163.26 287.58 L164.64 287.38 L166.01 287.31 L167.38 287.35 L168.76 287.52 L170.13 287.79 L171.51 288.18 L172.88 288.67 L174.25 289.27 L175.63 289.97 L177 290.78 L178.38 291.7 L179.75 292.72 L181.12 293.85 L182.5 295.09 L183.87 296.44 L185.25 297.91 L186.62 299.5 L187.99 301.22 L189.37 303.07 L190.74 305.06 L192.12 307.2 L193.49 309.5 L194.86 311.96 L196.24 314.6 L197.61 317.42 L198.99 320.45 L200.36 323.69 L201.73 327.16 L203.11 330.87 L204.48 334.83 L205.86 339.05 L207.23 343.56 L208.6 348.34 L209.98 353.41 L211.35 358.78 L212.73 364.42 L214.1 370.33 L215.47 376.48 L216.85 382.83 L218.22 389.34 L219.6 395.92 L220.97 402.5 L222.34 408.97 L223.72 415.19 L225.09 421.04 L226.47 426.36 L227.84 431 L229.21 434.81 L230.59 437.64 L231.96 439.41 L233.34 440.02 L234.71 439.39 L236.08 437.57 L237.46 434.63 L238.83 430.67 L240.21 425.8 L241.58 420.17 L242.95 413.95 L244.33 407.27 L245.7 400.31 L247.08 393.19 L248.45 386.03 L249.82 378.94 L251.2 372.01 L252.57 365.28 L253.95 358.82 L255.32 352.66 L256.69 346.83 L258.07 341.33 L259.44 336.17 L260.82 331.35 L262.19 326.86 L263.56 322.71 L264.94 318.87 L266.31 315.33 L267.69 312.09 L269.06 309.12 L270.43 306.41 L271.81 303.96 L273.18 301.74 L274.56 299.74 L275.93 297.96 L277.3 296.38 L278.68 294.99 L280.05 293.78 L281.43 292.74 L282.8 291.87 L284.17 291.14 L285.55 290.57 L286.92 290.13 L288.3 289.83 L289.67 289.66 L291.04 289.62 L292.42 289.69 L293.79 289.88 L295.17 290.18 L296.54 290.6 L297.91 291.12 L299.29 291.74 L300.66 292.48 L302.04 293.31 L303.41 294.26 L304.78 295.31 L306.16 296.46 L307.53 297.73 L308.91 299.11 L310.28 300.61 L311.65 302.23 L313.03 303.98 L314.4 305.85 L315.78 307.87 L317.15 310.04 L318.52 312.37 L319.9 314.86 L321.27 317.52 L322.65 320.38 L324.02 323.44 L325.39 326.71 L326.77 330.2 L328.14 333.94 L329.52 337.92 L330.89 342.17 L332.26 346.69 L333.64 351.49 L335.01 356.57 L336.39 361.93 L337.76 367.56" fill="none" stroke="#f0da44" stroke-width="1.3" stroke-linejoin="round"/>
</g>
<rect x="62.8" y="272" width="329.6" height="180.1" fill="none" stroke="#1e1e1e" stroke-width="1.35"/>
<path d="M62.96 452.1 V450.1 M69.83 452.1 V450.1 M76.7 452.1 V450.1 M83.57 452.1 V450.1 M90.44 452.1 V450.1 M97.31 452.1 V450.1 M104.18 452.1 V450.1 M111.05 452.1 V450.1 M117.92 452.1 V450.1 M124.79 452.1 V450.1 M131.66 452.1 V450.1 M138.53 452.1 V450.1 M145.4 452.1 V450.1 M152.27 452.1 V450.1 M159.14 452.1 V450.1 M166.01 452.1 V450.1 M172.88 452.1 V450.1 M179.75 452.1 V450.1 M186.62 452.1 V450.1 M193.49 452.1 V450.1 M200.36 452.1 V450.1 M207.23 452.1 V450.1 M214.1 452.1 V450.1 M220.97 452.1 V450.1 M227.84 452.1 V450.1 M234.71 452.1 V450.1 M241.58 452.1 V450.1 M248.45 452.1 V450.1 M255.32 452.1 V450.1 M262.19 452.1 V450.1 M269.06 452.1 V450.1 M275.93 452.1 V450.1 M282.8 452.1 V450.1 M289.67 452.1 V450.1 M296.54 452.1 V450.1 M303.41 452.1 V450.1 M310.28 452.1 V450.1 M317.15 452.1 V450.1 M324.02 452.1 V450.1 M330.89 452.1 V450.1 M337.76 452.1 V450.1 M344.63 452.1 V450.1 M351.5 452.1 V450.1 M358.37 452.1 V450.1 M365.24 452.1 V450.1 M372.11 452.1 V450.1 M378.98 452.1 V450.1 M385.85 452.1 V450.1 M392.72 452.1 V450.1 M76.7 452.1 V448.5 M145.4 452.1 V448.5 M214.1 452.1 V448.5 M282.8 452.1 V448.5 M351.5 452.1 V448.5" fill="none" stroke="#1e1e1e" stroke-width="1.1"/>
<text x="0" y="0" font-size="10.25" text-anchor="middle" fill="#1a1a1a" transform="translate(76.7 465.4) scale(1 1.13)">1530</text>
<text x="0" y="0" font-size="10.25" text-anchor="middle" fill="#1a1a1a" transform="translate(145.4 465.4) scale(1 1.13)">1540</text>
<text x="0" y="0" font-size="10.25" text-anchor="middle" fill="#1a1a1a" transform="translate(214.1 465.4) scale(1 1.13)">1550</text>
<text x="0" y="0" font-size="10.25" text-anchor="middle" fill="#1a1a1a" transform="translate(282.8 465.4) scale(1 1.13)">1560</text>
<text x="0" y="0" font-size="10.25" text-anchor="middle" fill="#1a1a1a" transform="translate(351.5 465.4) scale(1 1.13)">1570</text>
<path d="M62.8 447.3 H64.8 M62.8 439.48 H64.8 M62.8 431.66 H64.8 M62.8 423.84 H64.8 M62.8 416.02 H64.8 M62.8 408.2 H64.8 M62.8 400.38 H64.8 M62.8 392.56 H64.8 M62.8 384.74 H64.8 M62.8 376.92 H64.8 M62.8 369.1 H64.8 M62.8 361.28 H64.8 M62.8 353.46 H64.8 M62.8 345.64 H64.8 M62.8 337.82 H64.8 M62.8 330 H64.8 M62.8 322.18 H64.8 M62.8 314.36 H64.8 M62.8 306.54 H64.8 M62.8 298.72 H64.8 M62.8 290.9 H64.8 M62.8 283.08 H64.8 M62.8 275.26 H64.8 M62.8 447.3 H66.4 M62.8 408.2 H66.4 M62.8 369.1 H66.4 M62.8 330 H66.4 M62.8 290.9 H66.4" fill="none" stroke="#1e1e1e" stroke-width="1.1"/>
<text x="0" y="0" font-size="10.25" text-anchor="end" fill="#1a1a1a" transform="translate(57.7 451.35) scale(1 1.13)">2800</text>
<text x="0" y="0" font-size="10.25" text-anchor="end" fill="#1a1a1a" transform="translate(57.7 412.25) scale(1 1.13)">3200</text>
<text x="0" y="0" font-size="10.25" text-anchor="end" fill="#1a1a1a" transform="translate(57.7 373.15) scale(1 1.13)">3600</text>
<text x="0" y="0" font-size="10.25" text-anchor="end" fill="#1a1a1a" transform="translate(57.7 334.05) scale(1 1.13)">4000</text>
<text x="0" y="0" font-size="10.25" text-anchor="end" fill="#1a1a1a" transform="translate(57.7 294.95) scale(1 1.13)">4400</text>
<line x1="341" y1="278.5" x2="362.4" y2="278.5" stroke="#23307f" stroke-width="1.5"/>
<text x="0" y="0" font-size="9.4" fill="#1a1a1a" transform="translate(365.3 282) scale(1 1.1)">0 μN</text>
<line x1="341" y1="290.04" x2="362.4" y2="290.04" stroke="#2b3f98" stroke-width="1.5"/>
<text x="0" y="0" font-size="9.4" fill="#1a1a1a" transform="translate(365.3 293.54) scale(1 1.1)">3 μN</text>
<line x1="341" y1="301.58" x2="362.4" y2="301.58" stroke="#3356b0" stroke-width="1.5"/>
<text x="0" y="0" font-size="9.4" fill="#1a1a1a" transform="translate(365.3 305.08) scale(1 1.1)">6 μN</text>
<line x1="341" y1="313.12" x2="362.4" y2="313.12" stroke="#3f78c8" stroke-width="1.5"/>
<text x="0" y="0" font-size="9.4" fill="#1a1a1a" transform="translate(365.3 316.62) scale(1 1.1)">9 μN</text>
<line x1="341" y1="324.66" x2="362.4" y2="324.66" stroke="#52a6c8" stroke-width="1.5"/>
<text x="0" y="0" font-size="9.4" fill="#1a1a1a" transform="translate(365.3 328.16) scale(1 1.1)">12 μN</text>
<line x1="341" y1="336.2" x2="362.4" y2="336.2" stroke="#34a69c" stroke-width="1.5"/>
<text x="0" y="0" font-size="9.4" fill="#1a1a1a" transform="translate(365.3 339.7) scale(1 1.1)">15 μN</text>
<line x1="341" y1="347.74" x2="362.4" y2="347.74" stroke="#62c6a6" stroke-width="1.5"/>
<text x="0" y="0" font-size="9.4" fill="#1a1a1a" transform="translate(365.3 351.24) scale(1 1.1)">18 μN</text>
<line x1="341" y1="359.28" x2="362.4" y2="359.28" stroke="#4e9680" stroke-width="1.5"/>
<text x="0" y="0" font-size="9.4" fill="#1a1a1a" transform="translate(365.3 362.78) scale(1 1.1)">21 μN</text>
<line x1="341" y1="370.82" x2="362.4" y2="370.82" stroke="#9a98b6" stroke-width="1.5"/>
<text x="0" y="0" font-size="9.4" fill="#1a1a1a" transform="translate(365.3 374.32) scale(1 1.1)">24 μN</text>
<line x1="341" y1="382.36" x2="362.4" y2="382.36" stroke="#a08594" stroke-width="1.5"/>
<text x="0" y="0" font-size="9.4" fill="#1a1a1a" transform="translate(365.3 385.86) scale(1 1.1)">27 μN</text>
<line x1="341" y1="393.9" x2="362.4" y2="393.9" stroke="#bf9c8e" stroke-width="1.5"/>
<text x="0" y="0" font-size="9.4" fill="#1a1a1a" transform="translate(365.3 397.4) scale(1 1.1)">30 μN</text>
<line x1="341" y1="405.44" x2="362.4" y2="405.44" stroke="#c99662" stroke-width="1.5"/>
<text x="0" y="0" font-size="9.4" fill="#1a1a1a" transform="translate(365.3 408.94) scale(1 1.1)">33 μN</text>
<line x1="341" y1="416.98" x2="362.4" y2="416.98" stroke="#d9aa5c" stroke-width="1.5"/>
<text x="0" y="0" font-size="9.4" fill="#1a1a1a" transform="translate(365.3 420.48) scale(1 1.1)">36 μN</text>
<line x1="341" y1="428.52" x2="362.4" y2="428.52" stroke="#e8c236" stroke-width="1.5"/>
<text x="0" y="0" font-size="9.4" fill="#1a1a1a" transform="translate(365.3 432.02) scale(1 1.1)">39 μN</text>
<line x1="341" y1="440.06" x2="362.4" y2="440.06" stroke="#f0da44" stroke-width="1.5"/>
<text x="0" y="0" font-size="9.4" fill="#1a1a1a" transform="translate(365.3 443.56) scale(1 1.1)">42 μN</text>
<text x="227.8" y="480.5" font-size="11.1" font-weight="bold" text-anchor="middle" fill="#111">Wavelength (nm)</text>
<text x="29.2" y="361.9" font-size="11" font-weight="bold" text-anchor="middle" fill="#111" transform="rotate(-90 29.2 361.9)">Amplitude</text>
<text x="1" y="530.6" font-size="17.5" font-weight="bold" fill="#000">d</text>
<g clip-path="url(#cd)">
<path d="M60.22 534.72 L61.6 533.01 L62.98 531.44 L64.35 530 L65.73 528.69 L67.11 527.5 L68.49 526.43 L69.87 525.48 L71.24 524.65 L72.62 523.92 L74 523.32 L75.38 522.82 L76.76 522.44 L78.13 522.17 L79.51 522.02 L80.89 521.98 L82.27 522.06 L83.65 522.26 L85.02 522.58 L86.4 523.02 L87.78 523.6 L89.16 524.31 L90.54 525.16 L91.91 526.15 L93.29 527.29 L94.67 528.58 L96.05 530.03 L97.43 531.65 L98.8 533.45 L100.18 535.42 L101.56 537.59 L102.94 539.95 L104.32 542.52 L105.69 545.31 L107.07 548.31 L108.45 551.55 L109.83 555.03 L111.21 558.75 L112.58 562.72 L113.96 566.95 L115.34 571.44 L116.72 576.18 L118.1 581.18 L119.47 586.43 L120.85 591.9 L122.23 597.6 L123.61 603.48 L124.99 609.51 L126.36 615.66 L127.74 621.87 L129.12 628.07 L130.5 634.19 L131.88 640.16 L133.25 645.88 L134.63 651.24 L136.01 656.16 L137.39 660.54 L138.77 664.27 L140.14 667.27 L141.52 669.47 L142.9 670.83 L144.28 671.34 L145.66 671.11 L147.03 669.98 L148.41 668.02 L149.79 665.25 L151.17 661.77 L152.55 657.64 L153.92 652.98 L155.3 647.88 L156.68 642.44 L158.06 636.76 L159.44 630.92 L160.81 625.01 L162.19 619.09 L163.57 613.23 L164.95 607.48 L166.33 601.87 L167.7 596.44 L169.08 591.21 L170.46 586.2 L171.84 581.42 L173.22 576.87 L174.59 572.55 L175.97 568.47 L177.35 564.62 L178.73 560.99 L180.11 557.58 L181.48 554.37 L182.86 551.37 L184.24 548.56 L185.62 545.94 L187 543.49 L188.37 541.21 L189.75 539.09 L191.13 537.13 L192.51 535.31 L193.89 533.63 L195.26 532.08 L196.64 530.67 L198.02 529.38 L199.4 528.22 L200.78 527.17 L202.15 526.24 L203.53 525.42 L204.91 524.71 L206.29 524.11 L207.67 523.63 L209.04 523.25 L210.42 522.98 L211.8 522.82 L213.18 522.78 L214.56 522.85 L215.93 523.03 L217.31 523.33 L218.69 523.75 L220.07 524.3 L221.45 524.98 L222.82 525.79 L224.2 526.74 L225.58 527.84 L226.96 529.09 L228.34 530.49 L229.71 532.06 L231.09 533.81 L232.47 535.74 L233.85 537.86 L235.23 540.18 L236.6 542.72 L237.98 545.48 L239.36 548.47 L240.74 551.71 L242.12 555.22 L243.49 558.99 L244.87 563.05 L246.25 567.39 L247.63 572.05 L249.01 577.01 L250.38 582.29 L251.76 587.88 L253.14 593.78 L254.52 599.99 L255.9 606.48 L257.27 613.23 L258.65 620.2 L260.03 627.34 L261.41 634.57 L262.79 641.82 L264.16 648.99 L265.54 655.97 L266.92 662.62 L268.3 668.81 L269.68 674.4 L271.05 679.24 L272.43 683.19 L273.81 686.15 L275.19 688.01 L276.57 688.69 L277.94 688.06 L279.32 686.31 L280.7 683.48 L282.08 679.67 L283.46 675.01 L284.83 669.64 L286.21 663.68 L287.59 657.3 L288.97 650.61 L290.35 643.76 L291.72 636.83 L293.1 629.94 L294.48 623.15 L295.86 616.53 L297.24 610.13 L298.61 603.97 L299.99 598.08 L301.37 592.47 L302.75 587.16 L304.13 582.14 L305.5 577.41 L306.88 572.96 L308.26 568.78 L309.64 564.87 L311.02 561.21 L312.39 557.78 L313.77 554.59 L315.15 551.6 L316.53 548.82 L317.91 546.24 L319.28 543.83 L320.66 541.59 L322.04 539.52 L323.42 537.6 L324.8 535.82 L326.17 534.19 L327.55 532.69 L328.93 531.31 L330.31 530.05 L331.69 528.92 L333.06 527.9 L334.44 526.99 L335.82 526.19" fill="none" stroke="#23307f" stroke-width="1.3" stroke-linejoin="round"/>
<path d="M60.22 532.66 L61.6 531.11 L62.98 529.69 L64.35 528.39 L65.73 527.22 L67.11 526.18 L68.49 525.25 L69.87 524.44 L71.24 523.75 L72.62 523.17 L74 522.71 L75.38 522.36 L76.76 522.13 L78.13 522.02 L79.51 522.02 L80.89 522.15 L82.27 522.4 L83.65 522.78 L85.02 523.28 L86.4 523.92 L87.78 524.69 L89.16 525.61 L90.54 526.68 L91.91 527.9 L93.29 529.27 L94.67 530.81 L96.05 532.53 L97.43 534.42 L98.8 536.5 L100.18 538.78 L101.56 541.26 L102.94 543.95 L104.32 546.86 L105.69 550 L107.07 553.37 L108.45 556.99 L109.83 560.86 L111.21 564.99 L112.58 569.37 L113.96 574.02 L115.34 578.92 L116.72 584.08 L118.1 589.48 L119.47 595.12 L120.85 600.96 L122.23 606.99 L123.61 613.16 L124.99 619.43 L126.36 625.75 L127.74 632.04 L129.12 638.23 L130.5 644.25 L131.88 649.98 L133.25 655.34 L134.63 660.23 L136.01 664.54 L137.39 668.18 L138.77 671.08 L140.14 673.15 L141.52 674.35 L142.9 674.73 L144.28 674.28 L145.66 672.94 L147.03 670.76 L148.41 667.78 L149.79 664.09 L151.17 659.78 L152.55 654.93 L153.92 649.66 L155.3 644.06 L156.68 638.23 L158.06 632.25 L159.44 626.21 L160.81 620.18 L162.19 614.21 L163.57 608.36 L164.95 602.67 L166.33 597.16 L167.7 591.85 L169.08 586.77 L170.46 581.93 L171.84 577.32 L173.22 572.95 L174.59 568.82 L175.97 564.92 L177.35 561.25 L178.73 557.8 L180.11 554.57 L181.48 551.54 L182.86 548.7 L184.24 546.05 L185.62 543.58 L187 541.29 L188.37 539.15 L189.75 537.17 L191.13 535.34 L192.51 533.65 L193.89 532.1 L195.26 530.68 L196.64 529.39 L198.02 528.22 L199.4 527.17 L200.78 526.24 L202.15 525.42 L203.53 524.72 L204.91 524.12 L206.29 523.64 L207.67 523.26 L209.04 523 L210.42 522.85 L211.8 522.81 L213.18 522.88 L214.56 523.07 L215.93 523.37 L217.31 523.8 L218.69 524.35 L220.07 525.03 L221.45 525.84 L222.82 526.79 L224.2 527.89 L225.58 529.13 L226.96 530.54 L228.34 532.1 L229.71 533.84 L231.09 535.76 L232.47 537.87 L233.85 540.18 L235.23 542.7 L236.6 545.44 L237.98 548.42 L239.36 551.64 L240.74 555.11 L242.12 558.85 L243.49 562.87 L244.87 567.18 L246.25 571.79 L247.63 576.7 L249.01 581.93 L250.38 587.46 L251.76 593.31 L253.14 599.46 L254.52 605.89 L255.9 612.57 L257.27 619.48 L258.65 626.55 L260.03 633.73 L261.41 640.94 L262.79 648.07 L264.16 655.02 L265.54 661.66 L266.92 667.86 L268.3 673.47 L269.68 678.34 L271.05 682.36 L272.43 685.39 L273.81 687.34 L275.19 688.14 L276.57 687.66 L277.94 686.05 L279.32 683.36 L280.7 679.69 L282.08 675.15 L283.46 669.88 L284.83 664.01 L286.21 657.7 L287.59 651.08 L288.97 644.27 L290.35 637.39 L291.72 630.52 L293.1 623.75 L294.48 617.13 L295.86 610.73 L297.24 604.57 L298.61 598.67 L299.99 593.06 L301.37 587.73 L302.75 582.7 L304.13 577.95 L305.5 573.49 L306.88 569.3 L308.26 565.37 L309.64 561.7 L311.02 558.26 L312.39 555.05 L313.77 552.05 L315.15 549.26 L316.53 546.66 L317.91 544.24 L319.28 541.99 L320.66 539.9 L322.04 537.96 L323.42 536.17 L324.8 534.52 L326.17 533 L327.55 531.61 L328.93 530.34 L330.31 529.19 L331.69 528.15 L333.06 527.22 L334.44 526.4 L335.82 525.69" fill="none" stroke="#2b3f98" stroke-width="1.3" stroke-linejoin="round"/>
<path d="M60.22 530.66 L61.6 529.27 L62.98 528.01 L64.35 526.87 L65.73 525.86 L67.11 524.96 L68.49 524.19 L69.87 523.54 L71.24 523 L72.62 522.58 L74 522.28 L75.38 522.1 L76.76 522.03 L78.13 522.09 L79.51 522.28 L80.89 522.59 L82.27 523.02 L83.65 523.6 L85.02 524.31 L86.4 525.16 L87.78 526.15 L89.16 527.3 L90.54 528.61 L91.91 530.07 L93.29 531.71 L94.67 533.53 L96.05 535.53 L97.43 537.72 L98.8 540.12 L100.18 542.72 L101.56 545.54 L102.94 548.58 L104.32 551.86 L105.69 555.38 L107.07 559.15 L108.45 563.17 L109.83 567.45 L111.21 572 L112.58 576.8 L113.96 581.87 L115.34 587.19 L116.72 592.75 L118.1 598.54 L119.47 604.53 L120.85 610.69 L122.23 616.98 L123.61 623.36 L124.99 629.75 L126.36 636.11 L127.74 642.33 L129.12 648.35 L130.5 654.06 L131.88 659.37 L133.25 664.17 L134.63 668.36 L136.01 671.86 L137.39 674.58 L138.77 676.46 L140.14 677.46 L141.52 677.63 L142.9 676.93 L144.28 675.34 L145.66 672.91 L147.03 669.7 L148.41 665.79 L149.79 661.27 L151.17 656.23 L152.55 650.79 L153.92 645.04 L155.3 639.07 L156.68 632.98 L158.06 626.83 L159.44 620.71 L160.81 614.66 L162.19 608.74 L163.57 602.98 L164.95 597.41 L166.33 592.06 L167.7 586.94 L169.08 582.06 L170.46 577.42 L171.84 573.02 L173.22 568.86 L174.59 564.94 L175.97 561.26 L177.35 557.79 L178.73 554.54 L180.11 551.5 L181.48 548.65 L182.86 546 L184.24 543.52 L185.62 541.22 L187 539.08 L188.37 537.1 L189.75 535.27 L191.13 533.59 L192.51 532.04 L193.89 530.62 L195.26 529.33 L196.64 528.17 L198.02 527.13 L199.4 526.2 L200.78 525.39 L202.15 524.69 L203.53 524.11 L204.91 523.63 L206.29 523.27 L207.67 523.01 L209.04 522.87 L210.42 522.83 L211.8 522.92 L213.18 523.11 L214.56 523.43 L215.93 523.86 L217.31 524.42 L218.69 525.11 L220.07 525.93 L221.45 526.89 L222.82 527.99 L224.2 529.24 L225.58 530.64 L226.96 532.21 L228.34 533.95 L229.71 535.86 L231.09 537.97 L232.47 540.27 L233.85 542.79 L235.23 545.52 L236.6 548.48 L237.98 551.68 L239.36 555.13 L240.74 558.85 L242.12 562.84 L243.49 567.12 L244.87 571.7 L246.25 576.57 L247.63 581.76 L249.01 587.25 L250.38 593.05 L251.76 599.15 L253.14 605.52 L254.52 612.15 L255.9 619 L257.27 626.02 L258.65 633.15 L260.03 640.31 L261.41 647.4 L262.79 654.31 L264.16 660.93 L265.54 667.11 L266.92 672.71 L268.3 677.6 L269.68 681.63 L271.05 684.69 L272.43 686.69 L273.81 687.56 L275.19 687.18 L276.57 685.66 L277.94 683.07 L279.32 679.5 L280.7 675.04 L282.08 669.85 L283.46 664.07 L284.83 657.82 L286.21 651.25 L287.59 644.48 L288.97 637.64 L290.35 630.8 L291.72 624.05 L293.1 617.45 L294.48 611.06 L295.86 604.91 L297.24 599.02 L298.61 593.41 L299.99 588.09 L301.37 583.05 L302.75 578.31 L304.13 573.84 L305.5 569.65 L306.88 565.72 L308.26 562.04 L309.64 558.6 L311.02 555.38 L312.39 552.38 L313.77 549.58 L315.15 546.98 L316.53 544.55 L317.91 542.29 L319.28 540.2 L320.66 538.26 L322.04 536.46 L323.42 534.8 L324.8 533.27 L326.17 531.87 L327.55 530.58 L328.93 529.42 L330.31 528.37 L331.69 527.42 L333.06 526.59 L334.44 525.86 L335.82 525.23" fill="none" stroke="#3356b0" stroke-width="1.3" stroke-linejoin="round"/>
<path d="M60.22 528.77 L61.6 527.55 L62.98 526.45 L64.35 525.49 L65.73 524.64 L67.11 523.91 L68.49 523.31 L69.87 522.82 L71.24 522.45 L72.62 522.21 L74 522.08 L75.38 522.08 L76.76 522.2 L78.13 522.45 L79.51 522.82 L80.89 523.34 L82.27 523.98 L83.65 524.77 L85.02 525.7 L86.4 526.79 L87.78 528.03 L89.16 529.43 L90.54 531 L91.91 532.74 L93.29 534.67 L94.67 536.79 L96.05 539.1 L97.43 541.62 L98.8 544.35 L100.18 547.31 L101.56 550.5 L102.94 553.92 L104.32 557.59 L105.69 561.52 L107.07 565.7 L108.45 570.14 L109.83 574.85 L111.21 579.82 L112.58 585.04 L113.96 590.52 L115.34 596.24 L116.72 602.17 L118.1 608.29 L119.47 614.57 L120.85 620.97 L122.23 627.42 L123.61 633.88 L124.99 640.26 L126.36 646.48 L127.74 652.46 L129.12 658.09 L130.5 663.29 L131.88 667.94 L133.25 671.96 L134.63 675.25 L136.01 677.74 L137.39 679.38 L138.77 680.12 L140.14 680.02 L141.52 679.02 L142.9 677.15 L144.28 674.44 L145.66 670.97 L147.03 666.83 L148.41 662.09 L149.79 656.87 L151.17 651.26 L152.55 645.37 L153.92 639.28 L155.3 633.08 L156.68 626.86 L158.06 620.67 L159.44 614.56 L160.81 608.6 L162.19 602.81 L163.57 597.22 L164.95 591.85 L166.33 586.71 L167.7 581.82 L169.08 577.17 L170.46 572.77 L171.84 568.61 L173.22 564.69 L174.59 561.01 L175.97 557.54 L177.35 554.3 L178.73 551.26 L180.11 548.43 L181.48 545.78 L182.86 543.31 L184.24 541.02 L185.62 538.89 L187 536.92 L188.37 535.1 L189.75 533.42 L191.13 531.89 L192.51 530.48 L193.89 529.21 L195.26 528.06 L196.64 527.03 L198.02 526.12 L199.4 525.32 L200.78 524.64 L202.15 524.07 L203.53 523.6 L204.91 523.25 L206.29 523.01 L207.67 522.88 L209.04 522.87 L210.42 522.96 L211.8 523.17 L213.18 523.5 L214.56 523.95 L215.93 524.52 L217.31 525.22 L218.69 526.05 L220.07 527.02 L221.45 528.13 L222.82 529.39 L224.2 530.8 L225.58 532.38 L226.96 534.12 L228.34 536.04 L229.71 538.15 L231.09 540.46 L232.47 542.97 L233.85 545.69 L235.23 548.65 L236.6 551.84 L237.98 555.28 L239.36 558.99 L240.74 562.96 L242.12 567.22 L243.49 571.78 L244.87 576.63 L246.25 581.78 L247.63 587.24 L249.01 593 L250.38 599.06 L251.76 605.39 L253.14 611.98 L254.52 618.78 L255.9 625.75 L257.27 632.82 L258.65 639.93 L260.03 646.97 L261.41 653.84 L262.79 660.41 L264.16 666.56 L265.54 672.13 L266.92 677 L268.3 681.02 L269.68 684.08 L271.05 686.08 L272.43 686.96 L273.81 686.63 L275.19 685.17 L276.57 682.63 L277.94 679.11 L279.32 674.72 L280.7 669.58 L282.08 663.84 L283.46 657.64 L284.83 651.12 L286.21 644.4 L287.59 637.59 L288.97 630.78 L290.35 624.06 L291.72 617.49 L293.1 611.13 L294.48 604.99 L295.86 599.12 L297.24 593.53 L298.61 588.22 L299.99 583.21 L301.37 578.47 L302.75 574.02 L304.13 569.83 L305.5 565.91 L306.88 562.24 L308.26 558.8 L309.64 555.59 L311.02 552.6 L312.39 549.8 L313.77 547.2 L315.15 544.77 L316.53 542.51 L317.91 540.42 L319.28 538.48 L320.66 536.68 L322.04 535.01 L323.42 533.48 L324.8 532.07 L326.17 530.78 L327.55 529.61 L328.93 528.55 L330.31 527.6 L331.69 526.75 L333.06 526.01 L334.44 525.37 L335.82 524.83" fill="none" stroke="#3f78c8" stroke-width="1.3" stroke-linejoin="round"/>
<path d="M60.22 527.03 L61.6 525.99 L62.98 525.07 L64.35 524.28 L65.73 523.61 L67.11 523.07 L68.49 522.64 L69.87 522.34 L71.24 522.15 L72.62 522.09 L74 522.16 L75.38 522.35 L76.76 522.67 L78.13 523.13 L79.51 523.72 L80.89 524.45 L82.27 525.33 L83.65 526.35 L85.02 527.53 L86.4 528.87 L87.78 530.38 L89.16 532.06 L90.54 533.92 L91.91 535.96 L93.29 538.2 L94.67 540.65 L96.05 543.3 L97.43 546.18 L98.8 549.28 L100.18 552.61 L101.56 556.19 L102.94 560.02 L104.32 564.11 L105.69 568.45 L107.07 573.06 L108.45 577.94 L109.83 583.07 L111.21 588.46 L112.58 594.09 L113.96 599.95 L115.34 606.02 L116.72 612.26 L118.1 618.64 L119.47 625.12 L120.85 631.62 L122.23 638.1 L123.61 644.46 L124.99 650.64 L126.36 656.53 L127.74 662.04 L129.12 667.07 L130.5 671.51 L131.88 675.29 L133.25 678.31 L134.63 680.52 L136.01 681.85 L137.39 682.29 L138.77 681.85 L140.14 680.52 L141.52 678.33 L142.9 675.32 L144.28 671.58 L145.66 667.18 L147.03 662.23 L148.41 656.83 L149.79 651.06 L151.17 645.04 L152.55 638.85 L153.92 632.58 L155.3 626.29 L156.68 620.06 L158.06 613.93 L159.44 607.96 L160.81 602.16 L162.19 596.57 L163.57 591.21 L164.95 586.08 L166.33 581.21 L167.7 576.58 L169.08 572.2 L170.46 568.06 L171.84 564.17 L173.22 560.51 L174.59 557.07 L175.97 553.85 L177.35 550.83 L178.73 548.02 L180.11 545.39 L181.48 542.95 L182.86 540.68 L184.24 538.57 L185.62 536.63 L187 534.83 L188.37 533.17 L189.75 531.66 L191.13 530.28 L192.51 529.02 L193.89 527.89 L195.26 526.88 L196.64 525.99 L198.02 525.22 L199.4 524.55 L200.78 524 L202.15 523.56 L203.53 523.23 L204.91 523.01 L206.29 522.9 L207.67 522.9 L209.04 523.02 L210.42 523.25 L211.8 523.59 L213.18 524.06 L214.56 524.65 L215.93 525.37 L217.31 526.21 L218.69 527.2 L220.07 528.32 L221.45 529.59 L222.82 531.02 L224.2 532.61 L225.58 534.36 L226.96 536.29 L228.34 538.41 L229.71 540.72 L231.09 543.24 L232.47 545.97 L233.85 548.93 L235.23 552.12 L236.6 555.56 L237.98 559.26 L239.36 563.23 L240.74 567.48 L242.12 572.02 L243.49 576.85 L244.87 581.99 L246.25 587.42 L247.63 593.16 L249.01 599.18 L250.38 605.48 L251.76 612.03 L253.14 618.79 L254.52 625.71 L255.9 632.74 L257.27 639.8 L258.65 646.78 L260.03 653.6 L261.41 660.12 L262.79 666.2 L264.16 671.73 L265.54 676.54 L266.92 680.51 L268.3 683.53 L269.68 685.49 L271.05 686.34 L272.43 686.01 L273.81 684.56 L275.19 682.04 L276.57 678.54 L277.94 674.17 L279.32 669.06 L280.7 663.35 L282.08 657.19 L283.46 650.7 L284.83 644.02 L286.21 637.24 L287.59 630.47 L288.97 623.79 L290.35 617.26 L291.72 610.93 L293.1 604.83 L294.48 598.99 L295.86 593.43 L297.24 588.15 L298.61 583.15 L299.99 578.44 L301.37 574.01 L302.75 569.85 L304.13 565.95 L305.5 562.29 L306.88 558.87 L308.26 555.68 L309.64 552.69 L311.02 549.91 L312.39 547.32 L313.77 544.9 L315.15 542.65 L316.53 540.56 L317.91 538.62 L319.28 536.83 L320.66 535.17 L322.04 533.64 L323.42 532.23 L324.8 530.94 L326.17 529.77 L327.55 528.7 L328.93 527.74 L330.31 526.89 L331.69 526.14 L333.06 525.49 L334.44 524.94 L335.82 524.49" fill="none" stroke="#52a6c8" stroke-width="1.3" stroke-linejoin="round"/>
<path d="M60.22 525.48 L61.6 524.63 L62.98 523.91 L64.35 523.31 L65.73 522.83 L67.11 522.47 L68.49 522.24 L69.87 522.13 L71.24 522.15 L72.62 522.29 L74 522.56 L75.38 522.96 L76.76 523.5 L78.13 524.18 L79.51 525 L80.89 525.97 L82.27 527.1 L83.65 528.38 L85.02 529.82 L86.4 531.44 L87.78 533.23 L89.16 535.21 L90.54 537.38 L91.91 539.75 L93.29 542.32 L94.67 545.11 L96.05 548.13 L97.43 551.37 L98.8 554.86 L100.18 558.59 L101.56 562.57 L102.94 566.82 L104.32 571.32 L105.69 576.08 L107.07 581.11 L108.45 586.39 L109.83 591.92 L111.21 597.69 L112.58 603.67 L113.96 609.84 L115.34 616.17 L116.72 622.61 L118.1 629.12 L119.47 635.63 L120.85 642.07 L122.23 648.37 L123.61 654.43 L124.99 660.16 L126.36 665.47 L127.74 670.26 L129.12 674.43 L130.5 677.89 L131.88 680.58 L133.25 682.43 L134.63 683.39 L136.01 683.48 L137.39 682.67 L138.77 680.98 L140.14 678.45 L141.52 675.14 L142.9 671.13 L144.28 666.5 L145.66 661.35 L147.03 655.79 L148.41 649.9 L149.79 643.79 L151.17 637.54 L152.55 631.23 L153.92 624.93 L155.3 618.7 L156.68 612.59 L158.06 606.64 L159.44 600.88 L160.81 595.34 L162.19 590.03 L163.57 584.96 L164.95 580.14 L166.33 575.56 L167.7 571.24 L169.08 567.16 L170.46 563.31 L171.84 559.7 L173.22 556.31 L174.59 553.14 L175.97 550.17 L177.35 547.4 L178.73 544.82 L180.11 542.42 L181.48 540.19 L182.86 538.12 L184.24 536.21 L185.62 534.45 L187 532.83 L188.37 531.35 L189.75 530 L191.13 528.77 L192.51 527.67 L193.89 526.69 L195.26 525.83 L196.64 525.08 L198.02 524.45 L199.4 523.92 L200.78 523.51 L202.15 523.2 L203.53 523.01 L204.91 522.92 L206.29 522.95 L207.67 523.09 L209.04 523.34 L210.42 523.71 L211.8 524.19 L213.18 524.81 L214.56 525.54 L215.93 526.41 L217.31 527.41 L218.69 528.56 L220.07 529.85 L221.45 531.29 L222.82 532.89 L224.2 534.66 L225.58 536.61 L226.96 538.74 L228.34 541.06 L229.71 543.59 L231.09 546.33 L232.47 549.29 L233.85 552.49 L235.23 555.94 L236.6 559.64 L237.98 563.61 L239.36 567.86 L240.74 572.39 L242.12 577.22 L243.49 582.34 L244.87 587.77 L246.25 593.48 L247.63 599.49 L249.01 605.76 L250.38 612.28 L251.76 619 L253.14 625.89 L254.52 632.87 L255.9 639.87 L257.27 646.8 L258.65 653.55 L260.03 660 L261.41 666.02 L262.79 671.47 L264.16 676.21 L265.54 680.1 L266.92 683.04 L268.3 684.93 L269.68 685.71 L271.05 685.34 L272.43 683.85 L273.81 681.3 L275.19 677.78 L276.57 673.4 L277.94 668.3 L279.32 662.6 L280.7 656.46 L282.08 650 L283.46 643.34 L284.83 636.61 L286.21 629.88 L287.59 623.24 L288.97 616.75 L290.35 610.46 L291.72 604.41 L293.1 598.61 L294.48 593.09 L295.86 587.85 L297.24 582.9 L298.61 578.23 L299.99 573.83 L301.37 569.7 L302.75 565.83 L304.13 562.2 L305.5 558.81 L306.88 555.64 L308.26 552.68 L309.64 549.91 L311.02 547.34 L312.39 544.94 L313.77 542.7 L315.15 540.63 L316.53 538.7 L317.91 536.91 L319.28 535.26 L320.66 533.74 L322.04 532.34 L323.42 531.05 L324.8 529.88 L326.17 528.81 L327.55 527.85 L328.93 527 L330.31 526.24 L331.69 525.59 L333.06 525.03 L334.44 524.57 L335.82 524.21" fill="none" stroke="#34a69c" stroke-width="1.3" stroke-linejoin="round"/>
<path d="M60.22 524.18 L61.6 523.54 L62.98 523.01 L64.35 522.62 L65.73 522.34 L67.11 522.18 L68.49 522.15 L69.87 522.25 L71.24 522.47 L72.62 522.83 L74 523.32 L75.38 523.94 L76.76 524.71 L78.13 525.62 L79.51 526.69 L80.89 527.9 L82.27 529.28 L83.65 530.83 L85.02 532.55 L86.4 534.45 L87.78 536.53 L89.16 538.81 L90.54 541.3 L91.91 543.99 L93.29 546.9 L94.67 550.04 L96.05 553.41 L97.43 557.03 L98.8 560.88 L100.18 564.99 L101.56 569.36 L102.94 573.99 L104.32 578.87 L105.69 584.01 L107.07 589.39 L108.45 595.02 L109.83 600.86 L111.21 606.9 L112.58 613.11 L113.96 619.45 L115.34 625.88 L116.72 632.34 L118.1 638.76 L119.47 645.07 L120.85 651.2 L122.23 657.04 L123.61 662.52 L124.99 667.53 L126.36 671.98 L127.74 675.78 L129.12 678.85 L130.5 681.13 L131.88 682.56 L133.25 683.12 L134.63 682.81 L136.01 681.62 L137.39 679.57 L138.77 676.73 L140.14 673.15 L141.52 668.91 L142.9 664.1 L144.28 658.82 L145.66 653.16 L147.03 647.22 L148.41 641.1 L149.79 634.86 L151.17 628.6 L152.55 622.36 L153.92 616.22 L155.3 610.2 L156.68 604.36 L158.06 598.71 L159.44 593.28 L160.81 588.09 L162.19 583.13 L163.57 578.42 L164.95 573.96 L166.33 569.74 L167.7 565.76 L169.08 562.01 L170.46 558.5 L171.84 555.2 L173.22 552.11 L174.59 549.22 L175.97 546.53 L177.35 544.02 L178.73 541.68 L180.11 539.51 L181.48 537.5 L182.86 535.65 L184.24 533.94 L185.62 532.37 L187 530.94 L188.37 529.63 L189.75 528.45 L191.13 527.4 L192.51 526.46 L193.89 525.63 L195.26 524.92 L196.64 524.32 L198.02 523.83 L199.4 523.44 L200.78 523.17 L202.15 523 L203.53 522.95 L204.91 523 L206.29 523.16 L207.67 523.44 L209.04 523.84 L210.42 524.35 L211.8 524.98 L213.18 525.74 L214.56 526.63 L215.93 527.65 L217.31 528.82 L218.69 530.13 L220.07 531.59 L221.45 533.21 L222.82 535 L224.2 536.96 L225.58 539.1 L226.96 541.44 L228.34 543.98 L229.71 546.73 L231.09 549.71 L232.47 552.92 L233.85 556.37 L235.23 560.08 L236.6 564.05 L237.98 568.3 L239.36 572.84 L240.74 577.66 L242.12 582.78 L243.49 588.2 L244.87 593.91 L246.25 599.9 L247.63 606.15 L249.01 612.65 L250.38 619.34 L251.76 626.19 L253.14 633.13 L254.52 640.08 L255.9 646.96 L257.27 653.64 L258.65 660.02 L260.03 665.95 L261.41 671.31 L262.79 675.95 L264.16 679.75 L265.54 682.58 L266.92 684.37 L268.3 685.05 L269.68 684.59 L271.05 683.02 L272.43 680.41 L273.81 676.84 L275.19 672.42 L276.57 667.3 L277.94 661.59 L279.32 655.46 L280.7 649.01 L282.08 642.39 L283.46 635.69 L284.83 629 L286.21 622.42 L287.59 615.98 L288.97 609.75 L290.35 603.75 L291.72 598.01 L293.1 592.54 L294.48 587.35 L295.86 582.45 L297.24 577.83 L298.61 573.48 L299.99 569.39 L301.37 565.56 L302.75 561.97 L304.13 558.61 L305.5 555.48 L306.88 552.54 L308.26 549.81 L309.64 547.26 L311.02 544.88 L312.39 542.67 L313.77 540.62 L315.15 538.71 L316.53 536.94 L317.91 535.3 L319.28 533.79 L320.66 532.39 L322.04 531.12 L323.42 529.95 L324.8 528.89 L326.17 527.93 L327.55 527.08 L328.93 526.33 L330.31 525.67 L331.69 525.11 L333.06 524.64 L334.44 524.27 L335.82 524" fill="none" stroke="#62c6a6" stroke-width="1.3" stroke-linejoin="round"/>
<path d="M60.22 523.18 L61.6 522.75 L62.98 522.44 L64.35 522.25 L65.73 522.18 L67.11 522.24 L68.49 522.42 L69.87 522.73 L71.24 523.17 L72.62 523.75 L74 524.47 L75.38 525.33 L76.76 526.33 L78.13 527.49 L79.51 528.81 L80.89 530.29 L82.27 531.94 L83.65 533.76 L85.02 535.77 L86.4 537.97 L87.78 540.36 L89.16 542.96 L90.54 545.77 L91.91 548.8 L93.29 552.06 L94.67 555.55 L96.05 559.28 L97.43 563.26 L98.8 567.48 L100.18 571.96 L101.56 576.7 L102.94 581.68 L104.32 586.91 L105.69 592.37 L107.07 598.06 L108.45 603.95 L109.83 610.02 L111.21 616.22 L112.58 622.53 L113.96 628.89 L115.34 635.24 L116.72 641.51 L118.1 647.64 L119.47 653.52 L120.85 659.09 L122.23 664.24 L123.61 668.88 L124.99 672.92 L126.36 676.29 L127.74 678.9 L129.12 680.72 L130.5 681.69 L131.88 681.81 L133.25 681.08 L134.63 679.5 L136.01 677.11 L137.39 673.96 L138.77 670.12 L140.14 665.67 L141.52 660.71 L142.9 655.33 L144.28 649.62 L145.66 643.68 L147.03 637.58 L148.41 631.41 L149.79 625.23 L151.17 619.11 L152.55 613.09 L153.92 607.21 L155.3 601.51 L156.68 596.02 L158.06 590.74 L159.44 585.69 L160.81 580.89 L162.19 576.32 L163.57 572 L164.95 567.92 L166.33 564.07 L167.7 560.45 L169.08 557.05 L170.46 553.86 L171.84 550.87 L173.22 548.08 L174.59 545.48 L175.97 543.06 L177.35 540.81 L178.73 538.72 L180.11 536.78 L181.48 534.99 L182.86 533.35 L184.24 531.84 L185.62 530.47 L187 529.22 L188.37 528.09 L189.75 527.08 L191.13 526.19 L192.51 525.41 L193.89 524.74 L195.26 524.18 L196.64 523.72 L198.02 523.38 L199.4 523.14 L200.78 523.01 L202.15 522.98 L203.53 523.07 L204.91 523.26 L206.29 523.57 L207.67 523.99 L209.04 524.53 L210.42 525.19 L211.8 525.97 L213.18 526.88 L214.56 527.93 L215.93 529.12 L217.31 530.45 L218.69 531.93 L220.07 533.58 L221.45 535.38 L222.82 537.37 L224.2 539.53 L225.58 541.89 L226.96 544.44 L228.34 547.21 L229.71 550.21 L231.09 553.43 L232.47 556.9 L233.85 560.62 L235.23 564.61 L236.6 568.87 L237.98 573.41 L239.36 578.25 L240.74 583.37 L242.12 588.79 L243.49 594.5 L244.87 600.48 L246.25 606.72 L247.63 613.2 L249.01 619.87 L250.38 626.69 L251.76 633.59 L253.14 640.49 L254.52 647.3 L255.9 653.91 L257.27 660.2 L258.65 666.04 L260.03 671.29 L261.41 675.8 L262.79 679.47 L264.16 682.17 L265.54 683.82 L266.92 684.36 L268.3 683.77 L269.68 682.08 L271.05 679.36 L272.43 675.7 L273.81 671.22 L275.19 666.05 L276.57 660.32 L277.94 654.18 L279.32 647.75 L280.7 641.15 L282.08 634.49 L283.46 627.85 L284.83 621.32 L286.21 614.95 L287.59 608.78 L288.97 602.84 L290.35 597.17 L291.72 591.77 L293.1 586.65 L294.48 581.81 L295.86 577.25 L297.24 572.96 L298.61 568.92 L299.99 565.14 L301.37 561.6 L302.75 558.29 L304.13 555.2 L305.5 552.3 L306.88 549.61 L308.26 547.09 L309.64 544.74 L311.02 542.56 L312.39 540.53 L313.77 538.64 L315.15 536.89 L316.53 535.27 L317.91 533.78 L319.28 532.4 L320.66 531.14 L322.04 529.98 L323.42 528.93 L324.8 527.98 L326.17 527.13 L327.55 526.38 L328.93 525.73 L330.31 525.17 L331.69 524.7 L333.06 524.33 L334.44 524.05 L335.82 523.87" fill="none" stroke="#4e9680" stroke-width="1.3" stroke-linejoin="round"/>
<path d="M60.22 522.53 L61.6 522.31 L62.98 522.21 L64.35 522.24 L65.73 522.38 L67.11 522.66 L68.49 523.06 L69.87 523.6 L71.24 524.27 L72.62 525.08 L74 526.04 L75.38 527.14 L76.76 528.4 L78.13 529.82 L79.51 531.4 L80.89 533.15 L82.27 535.08 L83.65 537.19 L85.02 539.5 L86.4 542 L87.78 544.71 L89.16 547.64 L90.54 550.78 L91.91 554.15 L93.29 557.75 L94.67 561.59 L96.05 565.68 L97.43 570.01 L98.8 574.59 L100.18 579.41 L101.56 584.47 L102.94 589.77 L104.32 595.28 L105.69 601 L107.07 606.9 L108.45 612.94 L109.83 619.1 L111.21 625.32 L112.58 631.55 L113.96 637.73 L115.34 643.8 L116.72 649.66 L118.1 655.24 L119.47 660.45 L120.85 665.19 L122.23 669.4 L123.61 672.97 L124.99 675.84 L126.36 677.96 L127.74 679.27 L129.12 679.75 L130.5 679.43 L131.88 678.27 L133.25 676.3 L134.63 673.57 L136.01 670.14 L137.39 666.07 L138.77 661.46 L140.14 656.39 L141.52 650.95 L142.9 645.23 L144.28 639.32 L145.66 633.3 L147.03 627.24 L148.41 621.19 L149.79 615.22 L151.17 609.37 L152.55 603.68 L153.92 598.16 L155.3 592.85 L156.68 587.76 L158.06 582.9 L159.44 578.28 L160.81 573.89 L162.19 569.74 L163.57 565.81 L164.95 562.12 L166.33 558.64 L167.7 555.38 L169.08 552.32 L170.46 549.46 L171.84 546.79 L173.22 544.29 L174.59 541.97 L175.97 539.82 L177.35 537.82 L178.73 535.97 L180.11 534.26 L181.48 532.69 L182.86 531.25 L184.24 529.94 L185.62 528.76 L187 527.69 L188.37 526.73 L189.75 525.89 L191.13 525.16 L192.51 524.54 L193.89 524.03 L195.26 523.61 L196.64 523.31 L198.02 523.11 L199.4 523.02 L200.78 523.03 L202.15 523.15 L203.53 523.37 L204.91 523.71 L206.29 524.16 L207.67 524.73 L209.04 525.42 L210.42 526.24 L211.8 527.18 L213.18 528.25 L214.56 529.46 L215.93 530.82 L217.31 532.33 L218.69 534 L220.07 535.83 L221.45 537.84 L222.82 540.02 L224.2 542.4 L225.58 544.98 L226.96 547.78 L228.34 550.79 L229.71 554.04 L231.09 557.52 L232.47 561.27 L233.85 565.28 L235.23 569.56 L236.6 574.12 L237.98 578.97 L239.36 584.1 L240.74 589.53 L242.12 595.25 L243.49 601.23 L244.87 607.47 L246.25 613.94 L247.63 620.59 L249.01 627.38 L250.38 634.24 L251.76 641.09 L253.14 647.83 L254.52 654.36 L255.9 660.55 L257.27 666.27 L258.65 671.38 L260.03 675.75 L261.41 679.25 L262.79 681.78 L264.16 683.26 L265.54 683.62 L266.92 682.85 L268.3 681 L269.68 678.14 L271.05 674.37 L272.43 669.79 L273.81 664.56 L275.19 658.79 L276.57 652.63 L277.94 646.21 L279.32 639.63 L280.7 633.01 L282.08 626.43 L283.46 619.97 L284.83 613.66 L286.21 607.57 L287.59 601.71 L288.97 596.12 L290.35 590.8 L291.72 585.75 L293.1 580.99 L294.48 576.5 L295.86 572.27 L297.24 568.31 L298.61 564.59 L299.99 561.11 L301.37 557.85 L302.75 554.8 L304.13 551.96 L305.5 549.3 L306.88 546.83 L308.26 544.52 L309.64 542.37 L311.02 540.37 L312.39 538.51 L313.77 536.79 L315.15 535.19 L316.53 533.72 L317.91 532.36 L319.28 531.11 L320.66 529.97 L322.04 528.94 L323.42 528 L324.8 527.16 L326.17 526.42 L327.55 525.77 L328.93 525.21 L330.31 524.75 L331.69 524.38 L333.06 524.1 L334.44 523.91 L335.82 523.82" fill="none" stroke="#9a98b6" stroke-width="1.3" stroke-linejoin="round"/>
<path d="M60.22 522.25 L61.6 522.25 L62.98 522.37 L64.35 522.62 L65.73 522.99 L67.11 523.5 L68.49 524.14 L69.87 524.91 L71.24 525.82 L72.62 526.88 L74 528.09 L75.38 529.46 L76.76 530.98 L78.13 532.68 L79.51 534.54 L80.89 536.59 L82.27 538.82 L83.65 541.24 L85.02 543.87 L86.4 546.7 L87.78 549.74 L89.16 553.01 L90.54 556.5 L91.91 560.23 L93.29 564.19 L94.67 568.39 L96.05 572.83 L97.43 577.5 L98.8 582.42 L100.18 587.56 L101.56 592.92 L102.94 598.48 L104.32 604.22 L105.69 610.11 L107.07 616.11 L108.45 622.2 L109.83 628.31 L111.21 634.38 L112.58 640.36 L113.96 646.17 L115.34 651.73 L116.72 656.96 L118.1 661.76 L119.47 666.07 L120.85 669.79 L122.23 672.85 L123.61 675.19 L124.99 676.77 L126.36 677.55 L127.74 677.56 L129.12 676.76 L130.5 675.17 L131.88 672.81 L133.25 669.75 L134.63 666.03 L136.01 661.75 L137.39 656.98 L138.77 651.81 L140.14 646.32 L141.52 640.61 L142.9 634.75 L144.28 628.82 L145.66 622.88 L147.03 616.98 L148.41 611.17 L149.79 605.5 L151.17 599.99 L152.55 594.67 L153.92 589.56 L155.3 584.67 L156.68 580 L158.06 575.56 L159.44 571.35 L160.81 567.37 L162.19 563.62 L163.57 560.08 L164.95 556.76 L166.33 553.64 L167.7 550.72 L169.08 547.98 L170.46 545.43 L171.84 543.05 L173.22 540.84 L174.59 538.78 L175.97 536.87 L177.35 535.11 L178.73 533.49 L180.11 532 L181.48 530.63 L182.86 529.39 L184.24 528.27 L185.62 527.27 L187 526.37 L188.37 525.59 L189.75 524.91 L191.13 524.34 L192.51 523.87 L193.89 523.51 L195.26 523.25 L196.64 523.09 L198.02 523.04 L199.4 523.09 L200.78 523.25 L202.15 523.51 L203.53 523.89 L204.91 524.38 L206.29 524.98 L207.67 525.7 L209.04 526.55 L210.42 527.52 L211.8 528.63 L213.18 529.87 L214.56 531.26 L215.93 532.8 L217.31 534.5 L218.69 536.36 L220.07 538.4 L221.45 540.62 L222.82 543.03 L224.2 545.64 L225.58 548.46 L226.96 551.5 L228.34 554.78 L229.71 558.3 L231.09 562.07 L232.47 566.11 L233.85 570.42 L235.23 575.01 L236.6 579.88 L237.98 585.04 L239.36 590.49 L240.74 596.22 L242.12 602.22 L243.49 608.46 L244.87 614.93 L246.25 621.56 L247.63 628.33 L249.01 635.14 L250.38 641.93 L251.76 648.6 L253.14 655.02 L254.52 661.09 L255.9 666.67 L257.27 671.61 L258.65 675.8 L260.03 679.1 L261.41 681.42 L262.79 682.68 L264.16 682.81 L265.54 681.83 L266.92 679.78 L268.3 676.74 L269.68 672.82 L271.05 668.13 L272.43 662.81 L273.81 657 L275.19 650.82 L276.57 644.39 L277.94 637.85 L279.32 631.27 L280.7 624.76 L282.08 618.36 L283.46 612.14 L284.83 606.13 L286.21 600.36 L287.59 594.86 L288.97 589.63 L290.35 584.67 L291.72 579.99 L293.1 575.58 L294.48 571.44 L295.86 567.55 L297.24 563.9 L298.61 560.48 L299.99 557.29 L301.37 554.3 L302.75 551.51 L304.13 548.91 L305.5 546.48 L306.88 544.21 L308.26 542.1 L309.64 540.14 L311.02 538.32 L312.39 536.63 L313.77 535.06 L315.15 533.61 L316.53 532.28 L317.91 531.05 L319.28 529.93 L320.66 528.91 L322.04 527.99 L323.42 527.16 L324.8 526.43 L326.17 525.79 L327.55 525.24 L328.93 524.78 L330.31 524.41 L331.69 524.14 L333.06 523.95 L334.44 523.86 L335.82 523.86" fill="none" stroke="#a08594" stroke-width="1.3" stroke-linejoin="round"/>
<path d="M60.22 522.38 L61.6 522.6 L62.98 522.95 L64.35 523.43 L65.73 524.04 L67.11 524.78 L68.49 525.66 L69.87 526.68 L71.24 527.85 L72.62 529.17 L74 530.65 L75.38 532.29 L76.76 534.1 L78.13 536.08 L79.51 538.25 L80.89 540.6 L82.27 543.15 L83.65 545.89 L85.02 548.85 L86.4 552.02 L87.78 555.41 L89.16 559.02 L90.54 562.86 L91.91 566.94 L93.29 571.24 L94.67 575.78 L96.05 580.55 L97.43 585.54 L98.8 590.74 L100.18 596.14 L101.56 601.72 L102.94 607.45 L104.32 613.3 L105.69 619.23 L107.07 625.2 L108.45 631.14 L109.83 637.01 L111.21 642.73 L112.58 648.22 L113.96 653.41 L115.34 658.22 L116.72 662.57 L118.1 666.37 L119.47 669.55 L120.85 672.06 L122.23 673.84 L123.61 674.85 L124.99 675.12 L126.36 674.63 L127.74 673.37 L129.12 671.35 L130.5 668.62 L131.88 665.24 L133.25 661.27 L134.63 656.8 L136.01 651.91 L137.39 646.67 L138.77 641.18 L140.14 635.51 L141.52 629.74 L142.9 623.93 L144.28 618.14 L145.66 612.41 L147.03 606.8 L148.41 601.33 L149.79 596.04 L151.17 590.93 L152.55 586.04 L153.92 581.36 L155.3 576.9 L156.68 572.66 L158.06 568.65 L159.44 564.86 L160.81 561.29 L162.19 557.92 L163.57 554.76 L164.95 551.79 L166.33 549.01 L167.7 546.42 L169.08 543.99 L170.46 541.73 L171.84 539.63 L173.22 537.68 L174.59 535.88 L175.97 534.21 L177.35 532.68 L178.73 531.27 L180.11 529.99 L181.48 528.82 L182.86 527.77 L184.24 526.83 L185.62 526 L187 525.28 L188.37 524.66 L189.75 524.14 L191.13 523.72 L192.51 523.41 L193.89 523.2 L195.26 523.09 L196.64 523.08 L198.02 523.17 L199.4 523.37 L200.78 523.68 L202.15 524.09 L203.53 524.62 L204.91 525.26 L206.29 526.02 L207.67 526.9 L209.04 527.91 L210.42 529.06 L211.8 530.34 L213.18 531.76 L214.56 533.34 L215.93 535.07 L217.31 536.97 L218.69 539.04 L220.07 541.3 L221.45 543.74 L222.82 546.39 L224.2 549.25 L225.58 552.33 L226.96 555.65 L228.34 559.2 L229.71 563.01 L231.09 567.09 L232.47 571.44 L233.85 576.06 L235.23 580.97 L236.6 586.16 L237.98 591.64 L239.36 597.39 L240.74 603.41 L242.12 609.66 L243.49 616.13 L244.87 622.75 L246.25 629.48 L247.63 636.26 L249.01 642.98 L250.38 649.55 L251.76 655.87 L253.14 661.79 L254.52 667.2 L255.9 671.94 L257.27 675.91 L258.65 678.98 L260.03 681.05 L261.41 682.05 L262.79 681.91 L264.16 680.66 L265.54 678.38 L266.92 675.14 L268.3 671.05 L269.68 666.23 L271.05 660.81 L272.43 654.94 L273.81 648.73 L275.19 642.31 L276.57 635.8 L277.94 629.27 L279.32 622.82 L280.7 616.51 L282.08 610.38 L283.46 604.47 L284.83 598.8 L286.21 593.4 L287.59 588.27 L288.97 583.42 L290.35 578.83 L291.72 574.52 L293.1 570.46 L294.48 566.66 L295.86 563.09 L297.24 559.75 L298.61 556.62 L299.99 553.7 L301.37 550.97 L302.75 548.42 L304.13 546.05 L305.5 543.83 L306.88 541.77 L308.26 539.85 L309.64 538.07 L311.02 536.41 L312.39 534.88 L313.77 533.46 L315.15 532.15 L316.53 530.95 L317.91 529.85 L319.28 528.85 L320.66 527.95 L322.04 527.14 L323.42 526.42 L324.8 525.79 L326.17 525.25 L327.55 524.8 L328.93 524.44 L330.31 524.17 L331.69 523.98 L333.06 523.89 L334.44 523.89 L335.82 523.99" fill="none" stroke="#bf9c8e" stroke-width="1.3" stroke-linejoin="round"/>
<path d="M60.22 522.95 L61.6 523.41 L62.98 524 L64.35 524.72 L65.73 525.58 L67.11 526.58 L68.49 527.72 L69.87 529.01 L71.24 530.45 L72.62 532.06 L74 533.83 L75.38 535.77 L76.76 537.88 L78.13 540.18 L79.51 542.67 L80.89 545.36 L82.27 548.24 L83.65 551.34 L85.02 554.65 L86.4 558.18 L87.78 561.93 L89.16 565.91 L90.54 570.11 L91.91 574.54 L93.29 579.19 L94.67 584.06 L96.05 589.13 L97.43 594.4 L98.8 599.84 L100.18 605.43 L101.56 611.14 L102.94 616.94 L104.32 622.78 L105.69 628.61 L107.07 634.37 L108.45 639.99 L109.83 645.42 L111.21 650.56 L112.58 655.35 L113.96 659.71 L115.34 663.55 L116.72 666.81 L118.1 669.43 L119.47 671.36 L120.85 672.55 L122.23 673.01 L123.61 672.77 L124.99 671.77 L126.36 670.02 L127.74 667.58 L129.12 664.48 L130.5 660.79 L131.88 656.58 L133.25 651.93 L134.63 646.92 L136.01 641.63 L137.39 636.13 L138.77 630.51 L140.14 624.82 L141.52 619.13 L142.9 613.49 L144.28 607.93 L145.66 602.51 L147.03 597.24 L148.41 592.15 L149.79 587.26 L151.17 582.57 L152.55 578.1 L153.92 573.84 L155.3 569.8 L156.68 565.98 L158.06 562.37 L159.44 558.97 L160.81 555.77 L162.19 552.77 L163.57 549.95 L164.95 547.32 L166.33 544.85 L167.7 542.56 L169.08 540.42 L170.46 538.43 L171.84 536.58 L173.22 534.88 L174.59 533.31 L175.97 531.86 L177.35 530.54 L178.73 529.33 L180.11 528.24 L181.48 527.27 L182.86 526.39 L184.24 525.63 L185.62 524.97 L187 524.41 L188.37 523.95 L189.75 523.59 L191.13 523.33 L192.51 523.17 L193.89 523.1 L195.26 523.14 L196.64 523.28 L198.02 523.53 L199.4 523.88 L200.78 524.34 L202.15 524.91 L203.53 525.59 L204.91 526.4 L206.29 527.32 L207.67 528.37 L209.04 529.56 L210.42 530.88 L211.8 532.35 L213.18 533.96 L214.56 535.74 L215.93 537.68 L217.31 539.8 L218.69 542.1 L220.07 544.59 L221.45 547.28 L222.82 550.19 L224.2 553.32 L225.58 556.68 L226.96 560.29 L228.34 564.15 L229.71 568.27 L231.09 572.66 L232.47 577.34 L233.85 582.29 L235.23 587.53 L236.6 593.04 L237.98 598.83 L239.36 604.87 L240.74 611.14 L242.12 617.6 L243.49 624.21 L244.87 630.92 L246.25 637.63 L247.63 644.28 L249.01 650.74 L250.38 656.92 L251.76 662.67 L253.14 667.87 L254.52 672.39 L255.9 676.09 L257.27 678.87 L258.65 680.64 L260.03 681.34 L261.41 680.87 L262.79 679.33 L264.16 676.79 L265.54 673.32 L266.92 669.04 L268.3 664.07 L269.68 658.55 L271.05 652.61 L272.43 646.38 L273.81 639.97 L275.19 633.49 L276.57 627.03 L277.94 620.65 L279.32 614.43 L280.7 608.4 L282.08 602.6 L283.46 597.05 L284.83 591.76 L286.21 586.74 L287.59 582 L288.97 577.52 L290.35 573.31 L291.72 569.35 L293.1 565.64 L294.48 562.16 L295.86 558.9 L297.24 555.85 L298.61 553.01 L299.99 550.35 L301.37 547.86 L302.75 545.54 L304.13 543.38 L305.5 541.37 L306.88 539.5 L308.26 537.76 L309.64 536.14 L311.02 534.64 L312.39 533.26 L313.77 531.98 L315.15 530.81 L316.53 529.74 L317.91 528.76 L319.28 527.88 L320.66 527.09 L322.04 526.39 L323.42 525.77 L324.8 525.25 L326.17 524.81 L327.55 524.46 L328.93 524.19 L330.31 524.01 L331.69 523.93 L333.06 523.93 L334.44 524.03 L335.82 524.22" fill="none" stroke="#c99662" stroke-width="1.3" stroke-linejoin="round"/>
<path d="M60.22 524.01 L61.6 524.72 L62.98 525.56 L64.35 526.54 L65.73 527.67 L67.11 528.94 L68.49 530.36 L69.87 531.93 L71.24 533.67 L72.62 535.58 L74 537.66 L75.38 539.92 L76.76 542.36 L78.13 545 L79.51 547.83 L80.89 550.87 L82.27 554.11 L83.65 557.57 L85.02 561.25 L86.4 565.14 L87.78 569.25 L89.16 573.59 L90.54 578.14 L91.91 582.89 L93.29 587.85 L94.67 593 L96.05 598.32 L97.43 603.78 L98.8 609.37 L100.18 615.04 L101.56 620.75 L102.94 626.45 L104.32 632.09 L105.69 637.62 L107.07 642.95 L108.45 648.02 L109.83 652.76 L111.21 657.09 L112.58 660.94 L113.96 664.24 L115.34 666.92 L116.72 668.94 L118.1 670.26 L119.47 670.85 L120.85 670.8 L122.23 670.01 L123.61 668.5 L124.99 666.29 L126.36 663.43 L127.74 659.99 L129.12 656.01 L130.5 651.59 L131.88 646.79 L133.25 641.69 L134.63 636.37 L136.01 630.9 L137.39 625.34 L138.77 619.76 L140.14 614.21 L141.52 608.73 L142.9 603.36 L144.28 598.14 L145.66 593.08 L147.03 588.2 L148.41 583.52 L149.79 579.05 L151.17 574.79 L152.55 570.74 L153.92 566.91 L155.3 563.28 L156.68 559.85 L158.06 556.63 L159.44 553.6 L160.81 550.76 L162.19 548.09 L163.57 545.6 L164.95 543.27 L166.33 541.1 L167.7 539.08 L169.08 537.21 L170.46 535.47 L171.84 533.87 L173.22 532.39 L174.59 531.04 L175.97 529.8 L177.35 528.68 L178.73 527.67 L180.11 526.76 L181.48 525.96 L182.86 525.27 L184.24 524.67 L185.62 524.17 L187 523.77 L188.37 523.47 L189.75 523.26 L191.13 523.16 L192.51 523.15 L193.89 523.24 L195.26 523.43 L196.64 523.72 L198.02 524.12 L199.4 524.63 L200.78 525.25 L202.15 525.98 L203.53 526.83 L204.91 527.8 L206.29 528.9 L207.67 530.13 L209.04 531.5 L210.42 533.01 L211.8 534.68 L213.18 536.5 L214.56 538.49 L215.93 540.66 L217.31 543.01 L218.69 545.55 L220.07 548.3 L221.45 551.26 L222.82 554.45 L224.2 557.87 L225.58 561.53 L226.96 565.45 L228.34 569.63 L229.71 574.08 L231.09 578.81 L232.47 583.82 L233.85 589.11 L235.23 594.67 L236.6 600.49 L237.98 606.56 L239.36 612.85 L240.74 619.32 L242.12 625.91 L243.49 632.58 L244.87 639.23 L246.25 645.78 L247.63 652.12 L249.01 658.13 L250.38 663.68 L251.76 668.64 L253.14 672.88 L254.52 676.28 L255.9 678.74 L257.27 680.17 L258.65 680.49 L260.03 679.67 L261.41 677.81 L262.79 674.98 L264.16 671.26 L265.54 666.78 L266.92 661.65 L268.3 656.02 L269.68 650.02 L271.05 643.76 L272.43 637.37 L273.81 630.93 L275.19 624.54 L276.57 618.25 L277.94 612.13 L279.32 606.22 L280.7 600.54 L282.08 595.11 L283.46 589.95 L284.83 585.05 L286.21 580.43 L287.59 576.07 L288.97 571.97 L290.35 568.12 L291.72 564.51 L293.1 561.12 L294.48 557.96 L295.86 554.99 L297.24 552.23 L298.61 549.64 L299.99 547.22 L301.37 544.97 L302.75 542.87 L304.13 540.91 L305.5 539.09 L306.88 537.4 L308.26 535.82 L309.64 534.37 L311.02 533.02 L312.39 531.78 L313.77 530.64 L315.15 529.59 L316.53 528.65 L317.91 527.79 L319.28 527.02 L320.66 526.34 L322.04 525.74 L323.42 525.23 L324.8 524.81 L326.17 524.47 L327.55 524.21 L328.93 524.04 L330.31 523.96 L331.69 523.97 L333.06 524.07 L334.44 524.26 L335.82 524.55" fill="none" stroke="#d9aa5c" stroke-width="1.3" stroke-linejoin="round"/>
<path d="M60.22 525.61 L61.6 526.59 L62.98 527.71 L64.35 528.97 L65.73 530.38 L67.11 531.95 L68.49 533.67 L69.87 535.56 L71.24 537.62 L72.62 539.86 L74 542.28 L75.38 544.89 L76.76 547.69 L78.13 550.68 L79.51 553.89 L80.89 557.3 L82.27 560.92 L83.65 564.76 L85.02 568.81 L86.4 573.07 L87.78 577.54 L89.16 582.22 L90.54 587.09 L91.91 592.15 L93.29 597.36 L94.67 602.72 L96.05 608.2 L97.43 613.76 L98.8 619.36 L100.18 624.95 L101.56 630.49 L102.94 635.91 L104.32 641.16 L105.69 646.15 L107.07 650.83 L108.45 655.12 L109.83 658.94 L111.21 662.24 L112.58 664.95 L113.96 667.02 L115.34 668.42 L116.72 669.11 L118.1 669.18 L119.47 668.55 L120.85 667.21 L122.23 665.19 L123.61 662.53 L124.99 659.28 L126.36 655.5 L127.74 651.26 L129.12 646.64 L130.5 641.7 L131.88 636.53 L133.25 631.19 L134.63 625.75 L136.01 620.27 L137.39 614.81 L138.77 609.4 L140.14 604.08 L141.52 598.9 L142.9 593.87 L144.28 589.02 L145.66 584.35 L147.03 579.88 L148.41 575.62 L149.79 571.56 L151.17 567.71 L152.55 564.07 L153.92 560.63 L155.3 557.38 L156.68 554.33 L158.06 551.47 L159.44 548.78 L160.81 546.26 L162.19 543.91 L163.57 541.71 L164.95 539.67 L166.33 537.77 L167.7 536 L169.08 534.37 L170.46 532.87 L171.84 531.49 L173.22 530.23 L174.59 529.08 L175.97 528.04 L177.35 527.1 L178.73 526.27 L180.11 525.55 L181.48 524.92 L182.86 524.39 L184.24 523.95 L185.62 523.61 L187 523.37 L188.37 523.22 L189.75 523.17 L191.13 523.22 L192.51 523.37 L193.89 523.61 L195.26 523.96 L196.64 524.41 L198.02 524.97 L199.4 525.64 L200.78 526.42 L202.15 527.32 L203.53 528.35 L204.91 529.5 L206.29 530.78 L207.67 532.2 L209.04 533.77 L210.42 535.49 L211.8 537.37 L213.18 539.42 L214.56 541.65 L215.93 544.06 L217.31 546.66 L218.69 549.47 L220.07 552.5 L221.45 555.75 L222.82 559.23 L224.2 562.97 L225.58 566.95 L226.96 571.2 L228.34 575.72 L229.71 580.52 L231.09 585.59 L232.47 590.94 L233.85 596.55 L235.23 602.42 L236.6 608.53 L237.98 614.83 L239.36 621.3 L240.74 627.88 L242.12 634.49 L243.49 641.07 L244.87 647.5 L246.25 653.69 L247.63 659.5 L249.01 664.81 L250.38 669.49 L251.76 673.41 L253.14 676.46 L254.52 678.54 L255.9 679.58 L257.27 679.47 L258.65 678.28 L260.03 676.07 L261.41 672.92 L262.79 668.94 L264.16 664.24 L265.54 658.96 L266.92 653.22 L268.3 647.16 L269.68 640.88 L271.05 634.51 L272.43 628.13 L273.81 621.82 L275.19 615.64 L276.57 609.64 L277.94 603.85 L279.32 598.3 L280.7 593.01 L282.08 587.98 L283.46 583.22 L284.83 578.73 L286.21 574.5 L287.59 570.52 L288.97 566.78 L290.35 563.28 L291.72 560 L293.1 556.93 L294.48 554.05 L295.86 551.37 L297.24 548.86 L298.61 546.52 L299.99 544.34 L301.37 542.3 L302.75 540.4 L304.13 538.63 L305.5 536.99 L306.88 535.47 L308.26 534.05 L309.64 532.75 L311.02 531.54 L312.39 530.44 L313.77 529.42 L315.15 528.5 L316.53 527.67 L317.91 526.93 L319.28 526.27 L320.66 525.69 L322.04 525.2 L323.42 524.79 L324.8 524.47 L326.17 524.23 L327.55 524.07 L328.93 524 L330.31 524.01 L331.69 524.12 L333.06 524.31 L334.44 524.6 L335.82 524.99" fill="none" stroke="#e8c236" stroke-width="1.3" stroke-linejoin="round"/>
<path d="M60.22 527.82 L61.6 529.09 L62.98 530.5 L64.35 532.06 L65.73 533.78 L67.11 535.67 L68.49 537.72 L69.87 539.94 L71.24 542.35 L72.62 544.94 L74 547.72 L75.38 550.69 L76.76 553.86 L78.13 557.24 L79.51 560.82 L80.89 564.61 L82.27 568.61 L83.65 572.82 L85.02 577.23 L86.4 581.83 L87.78 586.63 L89.16 591.6 L90.54 596.73 L91.91 601.99 L93.29 607.37 L94.67 612.82 L96.05 618.31 L97.43 623.79 L98.8 629.22 L100.18 634.53 L101.56 639.67 L102.94 644.58 L104.32 649.17 L105.69 653.38 L107.07 657.16 L108.45 660.42 L109.83 663.12 L111.21 665.2 L112.58 666.63 L113.96 667.38 L115.34 667.53 L116.72 667.01 L118.1 665.8 L119.47 663.92 L120.85 661.42 L122.23 658.33 L123.61 654.72 L124.99 650.64 L126.36 646.18 L127.74 641.39 L129.12 636.36 L130.5 631.16 L131.88 625.83 L133.25 620.46 L134.63 615.08 L136.01 609.75 L137.39 604.5 L138.77 599.37 L140.14 594.38 L141.52 589.56 L142.9 584.92 L144.28 580.47 L145.66 576.22 L147.03 572.17 L148.41 568.32 L149.79 564.67 L151.17 561.23 L152.55 557.97 L153.92 554.91 L155.3 552.03 L156.68 549.33 L158.06 546.8 L159.44 544.43 L160.81 542.22 L162.19 540.15 L163.57 538.23 L164.95 536.45 L166.33 534.8 L167.7 533.28 L169.08 531.88 L170.46 530.6 L171.84 529.43 L173.22 528.36 L174.59 527.41 L175.97 526.55 L177.35 525.8 L178.73 525.15 L180.11 524.59 L181.48 524.13 L182.86 523.76 L184.24 523.48 L185.62 523.3 L187 523.22 L188.37 523.23 L189.75 523.33 L191.13 523.54 L192.51 523.84 L193.89 524.24 L195.26 524.75 L196.64 525.36 L198.02 526.09 L199.4 526.93 L200.78 527.88 L202.15 528.96 L203.53 530.17 L204.91 531.51 L206.29 533 L207.67 534.62 L209.04 536.41 L210.42 538.35 L211.8 540.46 L213.18 542.75 L214.56 545.23 L215.93 547.9 L217.31 550.78 L218.69 553.88 L220.07 557.21 L221.45 560.77 L222.82 564.57 L224.2 568.64 L225.58 572.96 L226.96 577.56 L228.34 582.43 L229.71 587.58 L231.09 592.99 L232.47 598.67 L233.85 604.58 L235.23 610.72 L236.6 617.05 L237.98 623.52 L239.36 630.06 L240.74 636.62 L242.12 643.09 L243.49 649.39 L244.87 655.39 L246.25 660.97 L247.63 666 L249.01 670.36 L250.38 673.91 L251.76 676.56 L253.14 678.22 L254.52 678.81 L255.9 678.24 L257.27 676.64 L258.65 674.06 L260.03 670.59 L261.41 666.34 L262.79 661.42 L264.16 655.98 L265.54 650.14 L266.92 644.03 L268.3 637.76 L269.68 631.42 L271.05 625.11 L272.43 618.89 L273.81 612.83 L275.19 606.96 L276.57 601.31 L277.94 595.9 L279.32 590.76 L280.7 585.88 L282.08 581.26 L283.46 576.91 L284.83 572.81 L286.21 568.96 L287.59 565.34 L288.97 561.96 L290.35 558.78 L291.72 555.81 L293.1 553.04 L294.48 550.44 L295.86 548.02 L297.24 545.76 L298.61 543.65 L299.99 541.68 L301.37 539.84 L302.75 538.13 L304.13 536.54 L305.5 535.07 L306.88 533.7 L308.26 532.44 L309.64 531.28 L311.02 530.21 L312.39 529.23 L313.77 528.34 L315.15 527.54 L316.53 526.82 L317.91 526.19 L319.28 525.63 L320.66 525.16 L322.04 524.77 L323.42 524.46 L324.8 524.24 L326.17 524.09 L327.55 524.03 L328.93 524.06 L330.31 524.17 L331.69 524.38 L333.06 524.67 L334.44 525.06 L335.82 525.55" fill="none" stroke="#f0da44" stroke-width="1.3" stroke-linejoin="round"/>
</g>
<rect x="60.7" y="515" width="329.6" height="179.8" fill="none" stroke="#1e1e1e" stroke-width="1.35"/>
<path d="M60.22 694.8 V692.8 M67.11 694.8 V692.8 M74 694.8 V692.8 M80.89 694.8 V692.8 M87.78 694.8 V692.8 M94.67 694.8 V692.8 M101.56 694.8 V692.8 M108.45 694.8 V692.8 M115.34 694.8 V692.8 M122.23 694.8 V692.8 M129.12 694.8 V692.8 M136.01 694.8 V692.8 M142.9 694.8 V692.8 M149.79 694.8 V692.8 M156.68 694.8 V692.8 M163.57 694.8 V692.8 M170.46 694.8 V692.8 M177.35 694.8 V692.8 M184.24 694.8 V692.8 M191.13 694.8 V692.8 M198.02 694.8 V692.8 M204.91 694.8 V692.8 M211.8 694.8 V692.8 M218.69 694.8 V692.8 M225.58 694.8 V692.8 M232.47 694.8 V692.8 M239.36 694.8 V692.8 M246.25 694.8 V692.8 M253.14 694.8 V692.8 M260.03 694.8 V692.8 M266.92 694.8 V692.8 M273.81 694.8 V692.8 M280.7 694.8 V692.8 M287.59 694.8 V692.8 M294.48 694.8 V692.8 M301.37 694.8 V692.8 M308.26 694.8 V692.8 M315.15 694.8 V692.8 M322.04 694.8 V692.8 M328.93 694.8 V692.8 M335.82 694.8 V692.8 M342.71 694.8 V692.8 M349.6 694.8 V692.8 M356.49 694.8 V692.8 M363.38 694.8 V692.8 M370.27 694.8 V692.8 M377.16 694.8 V692.8 M384.05 694.8 V692.8 M390.94 694.8 V692.8 M74 694.8 V691.2 M142.9 694.8 V691.2 M211.8 694.8 V691.2 M280.7 694.8 V691.2 M349.6 694.8 V691.2" fill="none" stroke="#1e1e1e" stroke-width="1.1"/>
<text x="0" y="0" font-size="10.25" text-anchor="middle" fill="#1a1a1a" transform="translate(74 708.1) scale(1 1.13)">1530</text>
<text x="0" y="0" font-size="10.25" text-anchor="middle" fill="#1a1a1a" transform="translate(142.9 708.1) scale(1 1.13)">1540</text>
<text x="0" y="0" font-size="10.25" text-anchor="middle" fill="#1a1a1a" transform="translate(211.8 708.1) scale(1 1.13)">1550</text>
<text x="0" y="0" font-size="10.25" text-anchor="middle" fill="#1a1a1a" transform="translate(280.7 708.1) scale(1 1.13)">1560</text>
<text x="0" y="0" font-size="10.25" text-anchor="middle" fill="#1a1a1a" transform="translate(349.6 708.1) scale(1 1.13)">1570</text>
<path d="M60.7 693.64 H62.7 M60.7 686.89 H62.7 M60.7 680.13 H62.7 M60.7 673.38 H62.7 M60.7 666.62 H62.7 M60.7 659.86 H62.7 M60.7 653.11 H62.7 M60.7 646.35 H62.7 M60.7 639.6 H62.7 M60.7 632.84 H62.7 M60.7 626.08 H62.7 M60.7 619.33 H62.7 M60.7 612.57 H62.7 M60.7 605.82 H62.7 M60.7 599.06 H62.7 M60.7 592.3 H62.7 M60.7 585.55 H62.7 M60.7 578.79 H62.7 M60.7 572.04 H62.7 M60.7 565.28 H62.7 M60.7 558.52 H62.7 M60.7 551.77 H62.7 M60.7 545.01 H62.7 M60.7 538.26 H62.7 M60.7 531.5 H62.7 M60.7 524.74 H62.7 M60.7 517.99 H62.7 M60.7 666.62 H64.3 M60.7 632.84 H64.3 M60.7 599.06 H64.3 M60.7 565.28 H64.3 M60.7 531.5 H64.3" fill="none" stroke="#1e1e1e" stroke-width="1.1"/>
<text x="0" y="0" font-size="10.25" text-anchor="end" fill="#1a1a1a" transform="translate(54.2 670.67) scale(1 1.13)">2000</text>
<text x="0" y="0" font-size="10.25" text-anchor="end" fill="#1a1a1a" transform="translate(54.2 636.89) scale(1 1.13)">2400</text>
<text x="0" y="0" font-size="10.25" text-anchor="end" fill="#1a1a1a" transform="translate(54.2 603.11) scale(1 1.13)">2800</text>
<text x="0" y="0" font-size="10.25" text-anchor="end" fill="#1a1a1a" transform="translate(54.2 569.33) scale(1 1.13)">3200</text>
<text x="0" y="0" font-size="10.25" text-anchor="end" fill="#1a1a1a" transform="translate(54.2 535.55) scale(1 1.13)">3600</text>
<line x1="337" y1="522.4" x2="357.7" y2="522.4" stroke="#23307f" stroke-width="1.5"/>
<text x="0" y="0" font-size="9.4" fill="#1a1a1a" transform="translate(360.7 525.9) scale(1 1.1)">0 μN</text>
<line x1="337" y1="533.94" x2="357.7" y2="533.94" stroke="#2b3f98" stroke-width="1.5"/>
<text x="0" y="0" font-size="9.4" fill="#1a1a1a" transform="translate(360.7 537.44) scale(1 1.1)">3 μN</text>
<line x1="337" y1="545.48" x2="357.7" y2="545.48" stroke="#3356b0" stroke-width="1.5"/>
<text x="0" y="0" font-size="9.4" fill="#1a1a1a" transform="translate(360.7 548.98) scale(1 1.1)">6 μN</text>
<line x1="337" y1="557.02" x2="357.7" y2="557.02" stroke="#3f78c8" stroke-width="1.5"/>
<text x="0" y="0" font-size="9.4" fill="#1a1a1a" transform="translate(360.7 560.52) scale(1 1.1)">9 μN</text>
<line x1="337" y1="568.56" x2="357.7" y2="568.56" stroke="#52a6c8" stroke-width="1.5"/>
<text x="0" y="0" font-size="9.4" fill="#1a1a1a" transform="translate(360.7 572.06) scale(1 1.1)">12 μN</text>
<line x1="337" y1="580.1" x2="357.7" y2="580.1" stroke="#34a69c" stroke-width="1.5"/>
<text x="0" y="0" font-size="9.4" fill="#1a1a1a" transform="translate(360.7 583.6) scale(1 1.1)">15 μN</text>
<line x1="337" y1="591.64" x2="357.7" y2="591.64" stroke="#62c6a6" stroke-width="1.5"/>
<text x="0" y="0" font-size="9.4" fill="#1a1a1a" transform="translate(360.7 595.14) scale(1 1.1)">18 μN</text>
<line x1="337" y1="603.18" x2="357.7" y2="603.18" stroke="#4e9680" stroke-width="1.5"/>
<text x="0" y="0" font-size="9.4" fill="#1a1a1a" transform="translate(360.7 606.68) scale(1 1.1)">21 μN</text>
<line x1="337" y1="614.72" x2="357.7" y2="614.72" stroke="#9a98b6" stroke-width="1.5"/>
<text x="0" y="0" font-size="9.4" fill="#1a1a1a" transform="translate(360.7 618.22) scale(1 1.1)">24 μN</text>
<line x1="337" y1="626.26" x2="357.7" y2="626.26" stroke="#a08594" stroke-width="1.5"/>
<text x="0" y="0" font-size="9.4" fill="#1a1a1a" transform="translate(360.7 629.76) scale(1 1.1)">27 μN</text>
<line x1="337" y1="637.8" x2="357.7" y2="637.8" stroke="#bf9c8e" stroke-width="1.5"/>
<text x="0" y="0" font-size="9.4" fill="#1a1a1a" transform="translate(360.7 641.3) scale(1 1.1)">30 μN</text>
<line x1="337" y1="649.34" x2="357.7" y2="649.34" stroke="#c99662" stroke-width="1.5"/>
<text x="0" y="0" font-size="9.4" fill="#1a1a1a" transform="translate(360.7 652.84) scale(1 1.1)">33 μN</text>
<line x1="337" y1="660.88" x2="357.7" y2="660.88" stroke="#d9aa5c" stroke-width="1.5"/>
<text x="0" y="0" font-size="9.4" fill="#1a1a1a" transform="translate(360.7 664.38) scale(1 1.1)">36 μN</text>
<line x1="337" y1="672.42" x2="357.7" y2="672.42" stroke="#e8c236" stroke-width="1.5"/>
<text x="0" y="0" font-size="9.4" fill="#1a1a1a" transform="translate(360.7 675.92) scale(1 1.1)">39 μN</text>
<line x1="337" y1="683.96" x2="357.7" y2="683.96" stroke="#f0da44" stroke-width="1.5"/>
<text x="0" y="0" font-size="9.4" fill="#1a1a1a" transform="translate(360.7 687.46) scale(1 1.1)">42 μN</text>
<text x="225.25" y="725.2" font-size="11.2" font-weight="bold" text-anchor="middle" fill="#111">Wavelength (nm)</text>
<text x="25.8" y="605.3" font-size="11" font-weight="bold" text-anchor="middle" fill="#111" transform="rotate(-90 25.8 605.3)">Amplitude</text>
<text x="0" y="766.8" font-size="17.5" font-weight="bold" fill="#000">f</text>
<g clip-path="url(#cf)">
<path d="M60.83 758.33 L62.21 758.02 L63.58 757.8 L64.96 757.66 L66.34 757.61 L67.72 757.64 L69.09 757.75 L70.47 757.96 L71.85 758.26 L73.22 758.65 L74.6 759.15 L75.98 759.76 L77.35 760.47 L78.73 761.31 L80.11 762.28 L81.49 763.4 L82.86 764.66 L84.24 766.08 L85.62 767.68 L86.99 769.48 L88.37 771.48 L89.75 773.72 L91.12 776.21 L92.5 778.98 L93.88 782.06 L95.26 785.47 L96.63 789.25 L98.01 793.44 L99.39 798.08 L100.76 803.21 L102.14 808.88 L103.52 815.12 L104.89 821.96 L106.27 829.45 L107.65 837.6 L109.03 846.38 L110.4 855.77 L111.78 865.66 L113.16 875.9 L114.53 886.26 L115.91 896.42 L117.29 905.99 L118.66 914.52 L120.04 921.52 L121.42 926.54 L122.8 929.25 L124.17 929.38 L125.55 926.97 L126.93 922.26 L128.3 915.63 L129.68 907.52 L131.06 898.41 L132.43 888.76 L133.81 878.93 L135.19 869.23 L136.57 859.88 L137.94 851.02 L139.32 842.73 L140.7 835.07 L142.07 828.02 L143.45 821.58 L144.83 815.72 L146.2 810.39 L147.58 805.57 L148.96 801.19 L150.34 797.23 L151.71 793.64 L153.09 790.39 L154.47 787.45 L155.84 784.78 L157.22 782.35 L158.6 780.15 L159.97 778.15 L161.35 776.33 L162.73 774.68 L164.11 773.19 L165.48 771.83 L166.86 770.6 L168.24 769.49 L169.61 768.49 L170.99 767.6 L172.37 766.8 L173.74 766.1 L175.12 765.49 L176.5 764.97 L177.88 764.54 L179.25 764.19 L180.63 763.92 L182.01 763.74 L183.38 763.65 L184.76 763.64 L186.14 763.72 L187.51 763.89 L188.89 764.15 L190.27 764.52 L191.65 764.99 L193.02 765.57 L194.4 766.26 L195.78 767.08 L197.15 768.04 L198.53 769.13 L199.91 770.38 L201.28 771.79 L202.66 773.37 L204.04 775.15 L205.42 777.14 L206.79 779.36 L208.17 781.82 L209.55 784.55 L210.92 787.57 L212.3 790.91 L213.68 794.59 L215.05 798.65 L216.43 803.11 L217.81 808.01 L219.19 813.37 L220.56 819.22 L221.94 825.58 L223.32 832.45 L224.69 839.83 L226.07 847.68 L227.45 855.97 L228.82 864.58 L230.2 873.39 L231.58 882.2 L232.96 890.78 L234.33 898.85 L235.71 906.08 L237.09 912.15 L238.46 916.76 L239.84 919.66 L241.22 920.7 L242.59 919.94 L243.97 917.33 L245.35 913.06 L246.73 907.37 L248.1 900.56 L249.48 892.97 L250.86 884.9 L252.23 876.63 L253.61 868.36 L254.99 860.29 L256.36 852.54 L257.74 845.18 L259.12 838.28 L260.5 831.86 L261.87 825.91 L263.25 820.43 L264.63 815.4 L266 810.8 L267.38 806.59 L268.76 802.75 L270.13 799.24 L271.51 796.05 L272.89 793.14 L274.27 790.49 L275.64 788.08 L277.02 785.88 L278.4 783.88 L279.77 782.06 L281.15 780.4 L282.53 778.9 L283.9 777.54 L285.28 776.31 L286.66 775.21 L288.04 774.22 L289.41 773.33 L290.79 772.55 L292.17 771.87 L293.54 771.29 L294.92 770.79 L296.3 770.39 L297.67 770.07 L299.05 769.84 L300.43 769.7 L301.81 769.65 L303.18 769.69 L304.56 769.82 L305.94 770.05 L307.31 770.37 L308.69 770.8 L310.07 771.34 L311.44 771.98 L312.82 772.75 L314.2 773.64 L315.58 774.67 L316.95 775.84 L318.33 777.16 L319.71 778.65 L321.08 780.31 L322.46 782.17 L323.84 784.24 L325.21 786.53 L326.59 789.07 L327.97 791.87 L329.35 794.96 L330.72 798.36 L332.1 802.1 L333.48 806.2 L334.85 810.7 L336.23 815.61" fill="none" stroke="#23307f" stroke-width="1.3" stroke-linejoin="round"/>
<path d="M60.83 758.12 L62.21 757.88 L63.58 757.72 L64.96 757.65 L66.34 757.66 L67.72 757.76 L69.09 757.94 L70.47 758.22 L71.85 758.59 L73.22 759.07 L74.6 759.64 L75.98 760.33 L77.35 761.14 L78.73 762.07 L80.11 763.14 L81.49 764.36 L82.86 765.73 L84.24 767.28 L85.62 769.01 L86.99 770.95 L88.37 773.11 L89.75 775.51 L91.12 778.18 L92.5 781.15 L93.88 784.45 L95.26 788.1 L96.63 792.15 L98.01 796.63 L99.39 801.59 L100.76 807.06 L102.14 813.09 L103.52 819.72 L104.89 826.98 L106.27 834.9 L107.65 843.45 L109.03 852.63 L110.4 862.35 L111.78 872.47 L113.16 882.8 L114.53 893.05 L115.91 902.86 L117.29 911.77 L118.66 919.33 L120.04 925.06 L121.42 928.57 L122.8 929.6 L124.17 928.02 L125.55 924.06 L126.93 918.04 L128.3 910.39 L129.68 901.57 L131.06 892.06 L132.43 882.26 L133.81 872.49 L135.19 863 L136.57 853.96 L137.94 845.47 L139.32 837.59 L140.7 830.33 L142.07 823.68 L143.45 817.63 L144.83 812.12 L146.2 807.13 L147.58 802.6 L148.96 798.51 L150.34 794.8 L151.71 791.43 L153.09 788.39 L154.47 785.63 L155.84 783.13 L157.22 780.86 L158.6 778.79 L159.97 776.92 L161.35 775.22 L162.73 773.68 L164.11 772.28 L165.48 771.02 L166.86 769.87 L168.24 768.85 L169.61 767.92 L170.99 767.1 L172.37 766.38 L173.74 765.75 L175.12 765.21 L176.5 764.75 L177.88 764.38 L179.25 764.09 L180.63 763.89 L182.01 763.77 L183.38 763.74 L184.76 763.8 L186.14 763.94 L187.51 764.18 L188.89 764.52 L190.27 764.95 L191.65 765.5 L193.02 766.15 L194.4 766.93 L195.78 767.84 L197.15 768.88 L198.53 770.07 L199.91 771.42 L201.28 772.94 L202.66 774.64 L204.04 776.55 L205.42 778.67 L206.79 781.03 L208.17 783.65 L209.55 786.55 L210.92 789.76 L212.3 793.29 L213.68 797.2 L215.05 801.49 L216.43 806.21 L217.81 811.37 L219.19 817.02 L220.56 823.17 L221.94 829.83 L223.32 837 L224.69 844.67 L226.07 852.79 L227.45 861.29 L228.82 870.05 L230.2 878.89 L231.58 887.61 L232.96 895.93 L234.33 903.54 L235.71 910.12 L237.09 915.35 L238.46 918.95 L239.84 920.73 L241.22 920.66 L242.59 918.74 L243.97 915.06 L245.35 909.86 L246.73 903.41 L248.1 896.06 L249.48 888.11 L250.86 879.85 L252.23 871.54 L253.61 863.35 L254.99 855.45 L256.36 847.92 L257.74 840.84 L259.12 834.22 L260.5 828.09 L261.87 822.43 L263.25 817.23 L264.63 812.47 L266 808.12 L267.38 804.15 L268.76 800.53 L270.13 797.22 L271.51 794.22 L272.89 791.48 L274.27 788.99 L275.64 786.72 L277.02 784.65 L278.4 782.77 L279.77 781.07 L281.15 779.52 L282.53 778.12 L283.9 776.85 L285.28 775.71 L286.66 774.68 L288.04 773.77 L289.41 772.96 L290.79 772.25 L292.17 771.63 L293.54 771.11 L294.92 770.68 L296.3 770.34 L297.67 770.09 L299.05 769.92 L300.43 769.84 L301.81 769.85 L303.18 769.95 L304.56 770.15 L305.94 770.44 L307.31 770.83 L308.69 771.32 L310.07 771.92 L311.44 772.64 L312.82 773.48 L314.2 774.45 L315.58 775.56 L316.95 776.82 L318.33 778.23 L319.71 779.82 L321.08 781.59 L322.46 783.56 L323.84 785.75 L325.21 788.17 L326.59 790.84 L327.97 793.8 L329.35 797.05 L330.72 800.63 L332.1 804.56 L333.48 808.87 L334.85 813.59 L336.23 818.74" fill="none" stroke="#2b45a0" stroke-width="1.3" stroke-linejoin="round"/>
<path d="M60.83 757.95 L62.21 757.78 L63.58 757.69 L64.96 757.69 L66.34 757.77 L67.72 757.94 L69.09 758.2 L70.47 758.56 L71.85 759.01 L73.22 759.56 L74.6 760.23 L75.98 761.01 L77.35 761.91 L78.73 762.94 L80.11 764.12 L81.49 765.45 L82.86 766.95 L84.24 768.63 L85.62 770.51 L86.99 772.6 L88.37 774.94 L89.75 777.53 L91.12 780.41 L92.5 783.6 L93.88 787.14 L95.26 791.06 L96.63 795.41 L98.01 800.21 L99.39 805.52 L100.76 811.37 L102.14 817.81 L103.52 824.87 L104.89 832.57 L106.27 840.92 L107.65 849.9 L109.03 859.45 L110.4 869.45 L111.78 879.73 L113.16 890.02 L114.53 899.98 L115.91 909.19 L117.29 917.2 L118.66 923.51 L120.04 927.72 L121.42 929.52 L122.8 928.72 L124.17 925.46 L125.55 920.03 L126.93 912.83 L128.3 904.33 L129.68 894.99 L131.06 885.24 L132.43 875.43 L133.81 865.83 L135.19 856.64 L136.57 847.98 L137.94 839.9 L139.32 832.45 L140.7 825.62 L142.07 819.39 L143.45 813.71 L144.83 808.57 L146.2 803.9 L147.58 799.68 L148.96 795.85 L150.34 792.39 L151.71 789.26 L153.09 786.42 L154.47 783.84 L155.84 781.5 L157.22 779.38 L158.6 777.46 L159.97 775.71 L161.35 774.13 L162.73 772.7 L164.11 771.4 L165.48 770.23 L166.86 769.17 L168.24 768.23 L169.61 767.39 L170.99 766.64 L172.37 765.99 L173.74 765.43 L175.12 764.96 L176.5 764.57 L177.88 764.26 L179.25 764.04 L180.63 763.91 L182.01 763.86 L183.38 763.89 L184.76 764.01 L186.14 764.23 L187.51 764.54 L188.89 764.95 L190.27 765.47 L191.65 766.09 L193.02 766.83 L194.4 767.7 L195.78 768.7 L197.15 769.84 L198.53 771.13 L199.91 772.59 L201.28 774.23 L202.66 776.06 L204.04 778.1 L205.42 780.37 L206.79 782.9 L208.17 785.69 L209.55 788.78 L210.92 792.19 L212.3 795.95 L213.68 800.09 L215.05 804.64 L216.43 809.63 L217.81 815.1 L219.19 821.05 L220.56 827.52 L221.94 834.5 L223.32 841.99 L224.69 849.95 L226.07 858.33 L227.45 867.01 L228.82 875.86 L230.2 884.66 L231.58 893.17 L232.96 901.09 L234.33 908.1 L235.71 913.86 L237.09 918.08 L238.46 920.53 L239.84 921.1 L241.22 919.83 L242.59 916.73 L243.97 912.01 L245.35 905.94 L246.73 898.84 L248.1 891.03 L249.48 882.82 L250.86 874.47 L252.23 866.2 L253.61 858.17 L254.99 850.48 L256.36 843.23 L257.74 836.44 L259.12 830.13 L260.5 824.31 L261.87 818.96 L263.25 814.05 L264.63 809.56 L266 805.47 L267.38 801.73 L268.76 798.33 L270.13 795.23 L271.51 792.41 L272.89 789.84 L274.27 787.5 L275.64 785.38 L277.02 783.45 L278.4 781.69 L279.77 780.1 L281.15 778.66 L282.53 777.36 L283.9 776.18 L285.28 775.13 L286.66 774.18 L288.04 773.35 L289.41 772.61 L290.79 771.98 L292.17 771.43 L293.54 770.98 L294.92 770.62 L296.3 770.34 L297.67 770.15 L299.05 770.05 L300.43 770.03 L301.81 770.11 L303.18 770.27 L304.56 770.53 L305.94 770.89 L307.31 771.35 L308.69 771.92 L310.07 772.59 L311.44 773.39 L312.82 774.31 L314.2 775.36 L315.58 776.56 L316.95 777.91 L318.33 779.42 L319.71 781.12 L321.08 783 L322.46 785.09 L323.84 787.41 L325.21 789.98 L326.59 792.81 L327.97 795.93 L329.35 799.36 L330.72 803.13 L332.1 807.27 L333.48 811.81 L334.85 816.77 L336.23 822.17" fill="none" stroke="#3560b8" stroke-width="1.3" stroke-linejoin="round"/>
<path d="M60.83 757.84 L62.21 757.74 L63.58 757.73 L64.96 757.8 L66.34 757.96 L67.72 758.2 L69.09 758.54 L70.47 758.98 L71.85 759.51 L73.22 760.16 L74.6 760.92 L75.98 761.79 L77.35 762.8 L78.73 763.95 L80.11 765.24 L81.49 766.7 L82.86 768.34 L84.24 770.17 L85.62 772.21 L86.99 774.48 L88.37 777 L89.75 779.8 L91.12 782.91 L92.5 786.35 L93.88 790.17 L95.26 794.39 L96.63 799.07 L98.01 804.23 L99.39 809.93 L100.76 816.2 L102.14 823.08 L103.52 830.6 L104.89 838.76 L106.27 847.57 L107.65 856.95 L109.03 866.83 L110.4 877.04 L111.78 887.33 L113.16 897.4 L114.53 906.84 L115.91 915.19 L117.29 921.98 L118.66 926.78 L120.04 929.24 L121.42 929.14 L122.8 926.52 L124.17 921.64 L125.55 914.88 L126.93 906.69 L128.3 897.54 L129.68 887.86 L131.06 878.04 L132.43 868.37 L133.81 859.05 L135.19 850.23 L136.57 842 L137.94 834.37 L139.32 827.37 L140.7 820.98 L142.07 815.16 L143.45 809.87 L144.83 805.08 L146.2 800.74 L147.58 796.81 L148.96 793.26 L150.34 790.04 L151.71 787.12 L153.09 784.48 L154.47 782.09 L155.84 779.91 L157.22 777.94 L158.6 776.16 L159.97 774.54 L161.35 773.07 L162.73 771.74 L164.11 770.55 L165.48 769.47 L166.86 768.5 L168.24 767.64 L169.61 766.88 L170.99 766.21 L172.37 765.64 L173.74 765.15 L175.12 764.75 L176.5 764.43 L177.88 764.2 L179.25 764.05 L180.63 763.98 L182.01 764 L183.38 764.1 L184.76 764.3 L186.14 764.59 L187.51 764.98 L188.89 765.47 L190.27 766.07 L191.65 766.78 L193.02 767.61 L194.4 768.57 L195.78 769.67 L197.15 770.92 L198.53 772.32 L199.91 773.91 L201.28 775.67 L202.66 777.65 L204.04 779.84 L205.42 782.27 L206.79 784.97 L208.17 787.96 L209.55 791.25 L210.92 794.89 L212.3 798.9 L213.68 803.3 L215.05 808.14 L216.43 813.43 L217.81 819.22 L219.19 825.5 L220.56 832.31 L221.94 839.63 L223.32 847.44 L224.69 855.69 L226.07 864.29 L227.45 873.11 L228.82 881.96 L230.2 890.61 L231.58 898.77 L232.96 906.13 L234.33 912.35 L235.71 917.12 L237.09 920.17 L238.46 921.34 L239.84 920.66 L241.22 918.12 L242.59 913.86 L243.97 908.16 L245.35 901.32 L246.73 893.66 L248.1 885.52 L249.48 877.16 L250.86 868.82 L252.23 860.67 L253.61 852.85 L254.99 845.44 L256.36 838.5 L257.74 832.03 L259.12 826.05 L260.5 820.55 L261.87 815.51 L263.25 810.9 L264.63 806.69 L266 802.85 L267.38 799.35 L268.76 796.17 L270.13 793.27 L271.51 790.63 L272.89 788.24 L274.27 786.06 L275.64 784.08 L277.02 782.28 L278.4 780.65 L279.77 779.17 L281.15 777.83 L282.53 776.63 L283.9 775.55 L285.28 774.58 L286.66 773.72 L288.04 772.97 L289.41 772.31 L290.79 771.75 L292.17 771.28 L293.54 770.89 L294.92 770.6 L296.3 770.39 L297.67 770.27 L299.05 770.23 L300.43 770.28 L301.81 770.42 L303.18 770.66 L304.56 770.99 L305.94 771.42 L307.31 771.95 L308.69 772.59 L310.07 773.35 L311.44 774.23 L312.82 775.23 L314.2 776.38 L315.58 777.67 L316.95 779.12 L318.33 780.74 L319.71 782.55 L321.08 784.56 L322.46 786.79 L323.84 789.25 L325.21 791.97 L326.59 794.97 L327.97 798.27 L329.35 801.9 L330.72 805.89 L332.1 810.26 L333.48 815.05 L334.85 820.27 L336.23 825.95" fill="none" stroke="#4688d0" stroke-width="1.3" stroke-linejoin="round"/>
<path d="M60.83 757.78 L62.21 757.76 L63.58 757.83 L64.96 757.98 L66.34 758.22 L67.72 758.55 L69.09 758.97 L70.47 759.49 L71.85 760.12 L73.22 760.86 L74.6 761.72 L75.98 762.71 L77.35 763.83 L78.73 765.1 L80.11 766.53 L81.49 768.13 L82.86 769.92 L84.24 771.91 L85.62 774.13 L86.99 776.59 L88.37 779.33 L89.75 782.36 L91.12 785.73 L92.5 789.45 L93.88 793.58 L95.26 798.14 L96.63 803.18 L98.01 808.75 L99.39 814.87 L100.76 821.6 L102.14 828.96 L103.52 836.96 L104.89 845.6 L106.27 854.85 L107.65 864.6 L109.03 874.73 L110.4 885.01 L111.78 895.14 L113.16 904.74 L114.53 913.37 L115.91 920.55 L117.29 925.83 L118.66 928.84 L120.04 929.35 L121.42 927.3 L122.8 922.92 L124.17 916.57 L125.55 908.68 L126.93 899.71 L128.3 890.13 L129.68 880.31 L131.06 870.58 L132.43 861.17 L133.81 852.23 L135.19 843.85 L136.57 836.08 L137.94 828.93 L139.32 822.39 L140.7 816.44 L142.07 811.03 L143.45 806.12 L144.83 801.68 L146.2 797.66 L147.58 794.02 L148.96 790.73 L150.34 787.75 L151.71 785.04 L153.09 782.6 L154.47 780.38 L155.84 778.37 L157.22 776.55 L158.6 774.89 L159.97 773.4 L161.35 772.05 L162.73 770.83 L164.11 769.73 L165.48 768.75 L166.86 767.87 L168.24 767.1 L169.61 766.42 L170.99 765.83 L172.37 765.33 L173.74 764.92 L175.12 764.59 L176.5 764.35 L177.88 764.19 L179.25 764.11 L180.63 764.12 L182.01 764.21 L183.38 764.39 L184.76 764.67 L186.14 765.03 L187.51 765.5 L188.89 766.08 L190.27 766.76 L191.65 767.57 L193.02 768.5 L194.4 769.56 L195.78 770.77 L197.15 772.13 L198.53 773.67 L199.91 775.38 L201.28 777.29 L202.66 779.42 L204.04 781.78 L205.42 784.39 L206.79 787.29 L208.17 790.48 L209.55 794.01 L210.92 797.9 L212.3 802.17 L213.68 806.87 L215.05 812.02 L216.43 817.64 L217.81 823.77 L219.19 830.42 L220.56 837.58 L221.94 845.24 L223.32 853.37 L224.69 861.88 L226.07 870.65 L227.45 879.53 L228.82 888.28 L230.2 896.64 L231.58 904.29 L232.96 910.89 L234.33 916.13 L235.71 919.71 L237.09 921.44 L238.46 921.29 L239.84 919.25 L241.22 915.44 L242.59 910.09 L243.97 903.5 L245.35 896.01 L246.73 887.95 L248.1 879.59 L249.48 871.2 L250.86 862.96 L252.23 855.02 L253.61 847.47 L254.99 840.38 L256.36 833.77 L257.74 827.65 L259.12 822.02 L260.5 816.85 L261.87 812.12 L263.25 807.8 L264.63 803.87 L266 800.29 L267.38 797.02 L268.76 794.06 L270.13 791.36 L271.51 788.91 L272.89 786.68 L274.27 784.65 L275.64 782.82 L277.02 781.15 L278.4 779.64 L279.77 778.28 L281.15 777.05 L282.53 775.94 L283.9 774.96 L285.28 774.08 L286.66 773.31 L288.04 772.63 L289.41 772.05 L290.79 771.57 L292.17 771.17 L293.54 770.86 L294.92 770.63 L296.3 770.49 L297.67 770.44 L299.05 770.47 L300.43 770.6 L301.81 770.81 L303.18 771.12 L304.56 771.52 L305.94 772.03 L307.31 772.64 L308.69 773.36 L310.07 774.2 L311.44 775.16 L312.82 776.26 L314.2 777.51 L315.58 778.9 L316.95 780.46 L318.33 782.2 L319.71 784.14 L321.08 786.28 L322.46 788.66 L323.84 791.28 L325.21 794.17 L326.59 797.35 L327.97 800.86 L329.35 804.71 L330.72 808.93 L332.1 813.56 L333.48 818.61 L334.85 824.12 L336.23 830.1" fill="none" stroke="#4aaec8" stroke-width="1.3" stroke-linejoin="round"/>
<path d="M60.83 757.8 L62.21 757.86 L63.58 758.01 L64.96 758.24 L66.34 758.57 L67.72 758.99 L69.09 759.5 L70.47 760.12 L71.85 760.85 L73.22 761.69 L74.6 762.66 L75.98 763.77 L77.35 765.01 L78.73 766.42 L80.11 767.99 L81.49 769.75 L82.86 771.7 L84.24 773.88 L85.62 776.3 L86.99 778.98 L88.37 781.96 L89.75 785.25 L91.12 788.91 L92.5 792.95 L93.88 797.42 L95.26 802.36 L96.63 807.81 L98.01 813.82 L99.39 820.41 L100.76 827.64 L102.14 835.5 L103.52 844.01 L104.89 853.12 L106.27 862.77 L107.65 872.81 L109.03 883.06 L110.4 893.22 L111.78 902.94 L113.16 911.77 L114.53 919.26 L115.91 924.93 L117.29 928.4 L118.66 929.41 L120.04 927.84 L121.42 923.91 L122.8 917.92 L124.17 910.3 L125.55 901.52 L126.93 892.03 L128.3 882.24 L129.68 872.47 L131.06 862.98 L132.43 853.93 L133.81 845.43 L135.19 837.54 L136.57 830.27 L137.94 823.61 L139.32 817.54 L140.7 812.02 L142.07 807.02 L143.45 802.49 L144.83 798.39 L146.2 794.67 L147.58 791.32 L148.96 788.28 L150.34 785.53 L151.71 783.03 L153.09 780.78 L154.47 778.73 L155.84 776.88 L157.22 775.2 L158.6 773.68 L159.97 772.31 L161.35 771.07 L162.73 769.96 L164.11 768.97 L165.48 768.08 L166.86 767.29 L168.24 766.61 L169.61 766.01 L170.99 765.5 L172.37 765.08 L173.74 764.75 L175.12 764.5 L176.5 764.33 L177.88 764.24 L179.25 764.24 L180.63 764.32 L182.01 764.5 L183.38 764.76 L184.76 765.11 L186.14 765.57 L187.51 766.13 L188.89 766.79 L190.27 767.57 L191.65 768.48 L193.02 769.51 L194.4 770.69 L195.78 772.01 L197.15 773.5 L198.53 775.17 L199.91 777.03 L201.28 779.1 L202.66 781.39 L204.04 783.94 L205.42 786.75 L206.79 789.86 L208.17 793.29 L209.55 797.07 L210.92 801.24 L212.3 805.81 L213.68 810.83 L215.05 816.32 L216.43 822.3 L217.81 828.8 L219.19 835.82 L220.56 843.35 L221.94 851.36 L223.32 859.78 L224.69 868.5 L226.07 877.38 L227.45 886.2 L228.82 894.71 L230.2 902.59 L231.58 909.52 L232.96 915.16 L234.33 919.2 L235.71 921.43 L237.09 921.75 L238.46 920.18 L239.84 916.78 L241.22 911.76 L242.59 905.42 L243.97 898.09 L245.35 890.1 L246.73 881.76 L248.1 873.32 L249.48 865 L250.86 856.96 L252.23 849.29 L253.61 842.07 L254.99 835.33 L256.36 829.08 L257.74 823.33 L259.12 818.05 L260.5 813.22 L261.87 808.81 L263.25 804.79 L264.63 801.13 L266 797.79 L267.38 794.77 L268.76 792.01 L270.13 789.51 L271.51 787.24 L272.89 785.18 L274.27 783.3 L275.64 781.61 L277.02 780.07 L278.4 778.68 L279.77 777.43 L281.15 776.31 L282.53 775.31 L283.9 774.41 L285.28 773.63 L286.66 772.94 L288.04 772.35 L289.41 771.85 L290.79 771.44 L292.17 771.12 L293.54 770.88 L294.92 770.73 L296.3 770.66 L297.67 770.68 L299.05 770.79 L300.43 770.99 L301.81 771.27 L303.18 771.66 L304.56 772.14 L305.94 772.72 L307.31 773.42 L308.69 774.22 L310.07 775.15 L311.44 776.21 L312.82 777.41 L314.2 778.76 L315.58 780.27 L316.95 781.95 L318.33 783.82 L319.71 785.89 L321.08 788.18 L322.46 790.72 L323.84 793.51 L325.21 796.59 L326.59 799.98 L327.97 803.71 L329.35 807.8 L330.72 812.28 L332.1 817.18 L333.48 822.53 L334.85 828.35 L336.23 834.64" fill="none" stroke="#36ab9e" stroke-width="1.3" stroke-linejoin="round"/>
<path d="M60.83 757.9 L62.21 758.05 L63.58 758.28 L64.96 758.61 L66.34 759.02 L67.72 759.53 L69.09 760.15 L70.47 760.87 L71.85 761.71 L73.22 762.66 L74.6 763.76 L75.98 764.99 L77.35 766.37 L78.73 767.92 L80.11 769.66 L81.49 771.59 L82.86 773.73 L84.24 776.11 L85.62 778.75 L86.99 781.68 L88.37 784.93 L89.75 788.52 L91.12 792.49 L92.5 796.89 L93.88 801.75 L95.26 807.11 L96.63 813.02 L98.01 819.51 L99.39 826.62 L100.76 834.36 L102.14 842.75 L103.52 851.75 L104.89 861.3 L106.27 871.28 L107.65 881.49 L109.03 891.66 L110.4 901.45 L111.78 910.44 L113.16 918.15 L114.53 924.12 L115.91 927.95 L117.29 929.38 L118.66 928.21 L120.04 924.65 L121.42 918.97 L122.8 911.59 L124.17 902.97 L125.55 893.57 L126.93 883.81 L128.3 874.03 L129.68 864.48 L131.06 855.35 L132.43 846.75 L133.81 838.75 L135.19 831.38 L136.57 824.62 L137.94 818.45 L139.32 812.84 L140.7 807.76 L142.07 803.15 L143.45 798.98 L144.83 795.21 L146.2 791.8 L147.58 788.71 L148.96 785.92 L150.34 783.39 L151.71 781.1 L153.09 779.03 L154.47 777.15 L155.84 775.45 L157.22 773.92 L158.6 772.53 L159.97 771.28 L161.35 770.16 L162.73 769.15 L164.11 768.26 L165.48 767.46 L166.86 766.77 L168.24 766.17 L169.61 765.66 L170.99 765.23 L172.37 764.9 L173.74 764.64 L175.12 764.47 L176.5 764.38 L177.88 764.37 L179.25 764.45 L180.63 764.62 L182.01 764.87 L183.38 765.22 L184.76 765.66 L186.14 766.2 L187.51 766.85 L188.89 767.62 L190.27 768.5 L191.65 769.51 L193.02 770.66 L194.4 771.96 L195.78 773.41 L197.15 775.04 L198.53 776.86 L199.91 778.88 L201.28 781.12 L202.66 783.6 L204.04 786.35 L205.42 789.38 L206.79 792.73 L208.17 796.42 L209.55 800.49 L210.92 804.95 L212.3 809.86 L213.68 815.22 L215.05 821.08 L216.43 827.45 L217.81 834.35 L219.19 841.76 L220.56 849.65 L221.94 857.99 L223.32 866.66 L224.69 875.52 L226.07 884.39 L227.45 893.01 L228.82 901.09 L230.2 908.28 L231.58 914.26 L232.96 918.7 L234.33 921.36 L235.71 922.1 L237.09 920.94 L238.46 917.9 L239.84 913.19 L241.22 907.08 L242.59 899.9 L243.97 891.99 L245.35 883.66 L246.73 875.19 L248.1 866.81 L249.48 858.67 L250.86 850.89 L252.23 843.56 L253.61 836.7 L254.99 830.35 L256.36 824.49 L257.74 819.11 L259.12 814.18 L260.5 809.69 L261.87 805.59 L263.25 801.86 L264.63 798.47 L266 795.39 L267.38 792.59 L268.76 790.04 L270.13 787.73 L271.51 785.64 L272.89 783.74 L274.27 782.02 L275.64 780.46 L277.02 779.05 L278.4 777.79 L279.77 776.65 L281.15 775.63 L282.53 774.73 L283.9 773.93 L285.28 773.23 L286.66 772.63 L288.04 772.13 L289.41 771.71 L290.79 771.38 L292.17 771.13 L293.54 770.97 L294.92 770.89 L296.3 770.9 L297.67 771 L299.05 771.18 L300.43 771.45 L301.81 771.82 L303.18 772.28 L304.56 772.85 L305.94 773.52 L307.31 774.3 L308.69 775.2 L310.07 776.22 L311.44 777.38 L312.82 778.69 L314.2 780.15 L315.58 781.78 L316.95 783.59 L318.33 785.6 L319.71 787.82 L321.08 790.28 L322.46 792.99 L323.84 795.98 L325.21 799.27 L326.59 802.88 L327.97 806.85 L329.35 811.2 L330.72 815.97 L332.1 821.17 L333.48 826.84 L334.85 832.99 L336.23 839.62" fill="none" stroke="#58c6a6" stroke-width="1.3" stroke-linejoin="round"/>
<path d="M60.83 758.1 L62.21 758.34 L63.58 758.66 L64.96 759.08 L66.34 759.59 L67.72 760.2 L69.09 760.92 L70.47 761.75 L71.85 762.71 L73.22 763.79 L74.6 765.02 L75.98 766.39 L77.35 767.93 L78.73 769.64 L80.11 771.55 L81.49 773.67 L82.86 776.03 L84.24 778.64 L85.62 781.53 L86.99 784.74 L88.37 788.28 L89.75 792.21 L91.12 796.55 L92.5 801.34 L93.88 806.63 L95.26 812.46 L96.63 818.87 L98.01 825.89 L99.39 833.54 L100.76 841.83 L102.14 850.74 L103.52 860.21 L104.89 870.12 L106.27 880.29 L107.65 890.46 L109.03 900.29 L110.4 909.38 L111.78 917.25 L113.16 923.45 L114.53 927.56 L115.91 929.28 L117.29 928.44 L118.66 925.17 L120.04 919.75 L121.42 912.57 L122.8 904.09 L124.17 894.77 L125.55 885.03 L126.93 875.24 L128.3 865.65 L129.68 856.46 L131.06 847.79 L132.43 839.71 L133.81 832.25 L135.19 825.41 L136.57 819.17 L137.94 813.49 L139.32 808.34 L140.7 803.67 L142.07 799.45 L143.45 795.63 L144.83 792.17 L146.2 789.05 L147.58 786.22 L148.96 783.67 L150.34 781.35 L151.71 779.26 L153.09 777.36 L154.47 775.65 L155.84 774.1 L157.22 772.7 L158.6 771.44 L159.97 770.31 L161.35 769.3 L162.73 768.4 L164.11 767.61 L165.48 766.91 L166.86 766.31 L168.24 765.8 L169.61 765.37 L170.99 765.04 L172.37 764.78 L173.74 764.61 L175.12 764.52 L176.5 764.51 L177.88 764.59 L179.25 764.75 L180.63 765 L182.01 765.34 L183.38 765.78 L184.76 766.31 L186.14 766.95 L187.51 767.7 L188.89 768.57 L190.27 769.56 L191.65 770.69 L193.02 771.96 L194.4 773.39 L195.78 774.99 L197.15 776.77 L198.53 778.75 L199.91 780.94 L201.28 783.37 L202.66 786.06 L204.04 789.03 L205.42 792.31 L206.79 795.93 L208.17 799.91 L209.55 804.28 L210.92 809.09 L212.3 814.35 L213.68 820.1 L215.05 826.36 L216.43 833.14 L217.81 840.44 L219.19 848.24 L220.56 856.5 L221.94 865.11 L223.32 873.96 L224.69 882.86 L226.07 891.57 L227.45 899.79 L228.82 907.21 L230.2 913.47 L231.58 918.24 L232.96 921.27 L234.33 922.37 L235.71 921.57 L237.09 918.85 L238.46 914.4 L239.84 908.49 L241.22 901.44 L242.59 893.6 L243.97 885.29 L245.35 876.8 L246.73 868.36 L248.1 860.14 L249.48 852.27 L250.86 844.83 L252.23 837.88 L253.61 831.43 L254.99 825.47 L256.36 820.01 L257.74 815.01 L259.12 810.44 L260.5 806.28 L261.87 802.49 L263.25 799.05 L264.63 795.92 L266 793.08 L267.38 790.5 L268.76 788.16 L270.13 786.04 L271.51 784.12 L272.89 782.38 L274.27 780.8 L275.64 779.38 L277.02 778.1 L278.4 776.95 L279.77 775.93 L281.15 775.02 L282.53 774.21 L283.9 773.51 L285.28 772.9 L286.66 772.39 L288.04 771.97 L289.41 771.63 L290.79 771.38 L292.17 771.22 L293.54 771.13 L294.92 771.13 L296.3 771.22 L297.67 771.4 L299.05 771.66 L300.43 772.01 L301.81 772.46 L303.18 773.01 L304.56 773.66 L305.94 774.42 L307.31 775.29 L308.69 776.29 L310.07 777.42 L311.44 778.69 L312.82 780.11 L314.2 781.7 L315.58 783.46 L316.95 785.41 L318.33 787.57 L319.71 789.96 L321.08 792.6 L322.46 795.5 L323.84 798.7 L325.21 802.21 L326.59 806.08 L327.97 810.32 L329.35 814.96 L330.72 820.03 L332.1 825.57 L333.48 831.58 L334.85 838.07 L336.23 845.06" fill="none" stroke="#4e9680" stroke-width="1.3" stroke-linejoin="round"/>
<path d="M60.83 758.4 L62.21 758.73 L63.58 759.15 L64.96 759.67 L66.34 760.28 L67.72 761.01 L69.09 761.84 L70.47 762.8 L71.85 763.88 L73.22 765.1 L74.6 766.47 L75.98 768 L77.35 769.7 L78.73 771.6 L80.11 773.71 L81.49 776.05 L82.86 778.64 L84.24 781.51 L85.62 784.68 L86.99 788.2 L88.37 792.08 L89.75 796.38 L91.12 801.13 L92.5 806.37 L93.88 812.14 L95.26 818.48 L96.63 825.44 L98.01 833.02 L99.39 841.24 L100.76 850.08 L102.14 859.48 L103.52 869.33 L104.89 879.46 L106.27 889.62 L107.65 899.47 L109.03 908.62 L110.4 916.6 L111.78 922.94 L113.16 927.23 L114.53 929.17 L115.91 928.56 L117.29 925.51 L118.66 920.27 L120.04 913.24 L121.42 904.86 L122.8 895.61 L124.17 885.9 L125.55 876.1 L126.93 866.48 L128.3 857.25 L129.68 848.53 L131.06 840.39 L132.43 832.87 L133.81 825.97 L135.19 819.67 L136.57 813.94 L137.94 808.74 L139.32 804.03 L140.7 799.77 L142.07 795.92 L143.45 792.43 L144.83 789.28 L146.2 786.43 L147.58 783.85 L148.96 781.52 L150.34 779.41 L151.71 777.51 L153.09 775.78 L154.47 774.23 L155.84 772.82 L157.22 771.56 L158.6 770.43 L159.97 769.42 L161.35 768.52 L162.73 767.73 L164.11 767.03 L165.48 766.43 L166.86 765.92 L168.24 765.5 L169.61 765.17 L170.99 764.91 L172.37 764.74 L173.74 764.66 L175.12 764.65 L176.5 764.73 L177.88 764.89 L179.25 765.14 L180.63 765.48 L182.01 765.92 L183.38 766.45 L184.76 767.08 L186.14 767.82 L187.51 768.68 L188.89 769.66 L190.27 770.78 L191.65 772.03 L193.02 773.44 L194.4 775.01 L195.78 776.76 L197.15 778.71 L198.53 780.86 L199.91 783.25 L201.28 785.89 L202.66 788.81 L204.04 792.03 L205.42 795.58 L206.79 799.49 L208.17 803.79 L209.55 808.51 L210.92 813.69 L212.3 819.34 L213.68 825.51 L215.05 832.19 L216.43 839.4 L217.81 847.12 L219.19 855.3 L220.56 863.87 L221.94 872.7 L223.32 881.62 L224.69 890.39 L226.07 898.74 L227.45 906.33 L228.82 912.82 L230.2 917.87 L231.58 921.2 L232.96 922.61 L234.33 922.09 L235.71 919.65 L237.09 915.42 L238.46 909.68 L239.84 902.74 L241.22 894.96 L242.59 886.66 L243.97 878.14 L245.35 869.65 L246.73 861.36 L248.1 853.41 L249.48 845.89 L250.86 838.85 L252.23 832.32 L253.61 826.29 L254.99 820.75 L256.36 815.68 L257.74 811.06 L259.12 806.84 L260.5 803.01 L261.87 799.53 L263.25 796.36 L264.63 793.49 L266 790.89 L267.38 788.52 L268.76 786.38 L270.13 784.44 L271.51 782.69 L272.89 781.1 L274.27 779.67 L275.64 778.38 L277.02 777.23 L278.4 776.2 L279.77 775.28 L281.15 774.47 L282.53 773.77 L283.9 773.16 L285.28 772.65 L286.66 772.22 L288.04 771.88 L289.41 771.63 L290.79 771.46 L292.17 771.38 L293.54 771.38 L294.92 771.46 L296.3 771.63 L297.67 771.88 L299.05 772.23 L300.43 772.66 L301.81 773.2 L303.18 773.83 L304.56 774.58 L305.94 775.43 L307.31 776.41 L308.69 777.51 L310.07 778.75 L311.44 780.14 L312.82 781.69 L314.2 783.4 L315.58 785.31 L316.95 787.42 L318.33 789.75 L319.71 792.32 L321.08 795.15 L322.46 798.27 L323.84 801.7 L325.21 805.47 L326.59 809.61 L327.97 814.14 L329.35 819.1 L330.72 824.51 L332.1 830.4 L333.48 836.77 L334.85 843.64 L336.23 850.98" fill="none" stroke="#9290b2" stroke-width="1.3" stroke-linejoin="round"/>
<path d="M60.83 758.82 L62.21 759.25 L63.58 759.77 L64.96 760.4 L66.34 761.13 L67.72 761.97 L69.09 762.93 L70.47 764.01 L71.85 765.23 L73.22 766.6 L74.6 768.13 L75.98 769.84 L77.35 771.73 L78.73 773.83 L80.11 776.16 L81.49 778.74 L82.86 781.6 L84.24 784.76 L85.62 788.25 L86.99 792.12 L88.37 796.39 L89.75 801.11 L91.12 806.31 L92.5 812.05 L93.88 818.35 L95.26 825.26 L96.63 832.79 L98.01 840.96 L99.39 849.75 L100.76 859.1 L102.14 868.91 L103.52 879.01 L104.89 889.14 L106.27 899 L107.65 908.17 L109.03 916.19 L110.4 922.62 L111.78 927.01 L113.16 929.07 L114.53 928.6 L115.91 925.68 L117.29 920.56 L118.66 913.62 L120.04 905.32 L121.42 896.11 L122.8 886.42 L124.17 876.62 L125.55 866.99 L126.93 857.73 L128.3 848.97 L129.68 840.8 L131.06 833.24 L132.43 826.31 L133.81 819.97 L135.19 814.21 L136.57 808.98 L137.94 804.24 L139.32 799.95 L140.7 796.08 L142.07 792.57 L143.45 789.41 L144.83 786.54 L146.2 783.95 L147.58 781.61 L148.96 779.5 L150.34 777.59 L151.71 775.86 L153.09 774.3 L154.47 772.9 L155.84 771.64 L157.22 770.51 L158.6 769.5 L159.97 768.61 L161.35 767.82 L162.73 767.13 L164.11 766.54 L165.48 766.03 L166.86 765.62 L168.24 765.29 L169.61 765.04 L170.99 764.88 L172.37 764.8 L173.74 764.8 L175.12 764.88 L176.5 765.05 L177.88 765.3 L179.25 765.65 L180.63 766.08 L182.01 766.61 L183.38 767.24 L184.76 767.98 L186.14 768.84 L187.51 769.81 L188.89 770.91 L190.27 772.15 L191.65 773.54 L193.02 775.1 L194.4 776.83 L195.78 778.75 L197.15 780.88 L198.53 783.23 L199.91 785.84 L201.28 788.71 L202.66 791.88 L204.04 795.38 L205.42 799.23 L206.79 803.47 L208.17 808.12 L209.55 813.23 L210.92 818.81 L212.3 824.89 L213.68 831.5 L215.05 838.63 L216.43 846.28 L217.81 854.4 L219.19 862.93 L220.56 871.74 L221.94 880.67 L223.32 889.49 L224.69 897.93 L226.07 905.66 L227.45 912.33 L228.82 917.6 L230.2 921.18 L231.58 922.84 L232.96 922.55 L234.33 920.31 L235.71 916.26 L237.09 910.64 L238.46 903.79 L239.84 896.05 L241.22 887.76 L242.59 879.21 L243.97 870.67 L245.35 862.32 L246.73 854.3 L248.1 846.72 L249.48 839.61 L250.86 833.01 L252.23 826.91 L253.61 821.32 L254.99 816.2 L256.36 811.53 L257.74 807.28 L259.12 803.41 L260.5 799.89 L261.87 796.7 L263.25 793.81 L264.63 791.19 L266 788.81 L267.38 786.65 L268.76 784.7 L270.13 782.94 L271.51 781.35 L272.89 779.91 L274.27 778.62 L275.64 777.47 L277.02 776.44 L278.4 775.52 L279.77 774.71 L281.15 774.01 L282.53 773.4 L283.9 772.89 L285.28 772.47 L286.66 772.13 L288.04 771.88 L289.41 771.72 L290.79 771.63 L292.17 771.63 L293.54 771.71 L294.92 771.88 L296.3 772.13 L297.67 772.47 L299.05 772.9 L300.43 773.42 L301.81 774.05 L303.18 774.78 L304.56 775.62 L305.94 776.58 L307.31 777.66 L308.69 778.87 L310.07 780.23 L311.44 781.75 L312.82 783.43 L314.2 785.3 L315.58 787.36 L316.95 789.64 L318.33 792.15 L319.71 794.92 L321.08 797.97 L322.46 801.33 L323.84 805.02 L325.21 809.07 L326.59 813.51 L327.97 818.37 L329.35 823.67 L330.72 829.45 L332.1 835.71 L333.48 842.47 L334.85 849.71 L336.23 857.39" fill="none" stroke="#a08898" stroke-width="1.3" stroke-linejoin="round"/>
<path d="M60.83 759.36 L62.21 759.9 L63.58 760.54 L64.96 761.28 L66.34 762.13 L67.72 763.1 L69.09 764.19 L70.47 765.42 L71.85 766.8 L73.22 768.34 L74.6 770.05 L75.98 771.94 L77.35 774.05 L78.73 776.38 L80.11 778.95 L81.49 781.81 L82.86 784.96 L84.24 788.45 L85.62 792.31 L86.99 796.57 L88.37 801.27 L89.75 806.46 L91.12 812.18 L92.5 818.46 L93.88 825.35 L95.26 832.86 L96.63 841 L98.01 849.76 L99.39 859.08 L100.76 868.86 L102.14 878.92 L103.52 889.03 L104.89 898.87 L106.27 908.02 L107.65 916.05 L109.03 922.48 L110.4 926.9 L111.78 929 L113.16 928.57 L114.53 925.7 L115.91 920.63 L117.29 913.73 L118.66 905.45 L120.04 896.26 L121.42 886.59 L122.8 876.79 L124.17 867.15 L125.55 857.88 L126.93 849.11 L128.3 840.93 L129.68 833.36 L131.06 826.4 L132.43 820.05 L133.81 814.28 L135.19 809.03 L136.57 804.28 L137.94 799.99 L139.32 796.1 L140.7 792.59 L142.07 789.42 L143.45 786.55 L144.83 783.96 L146.2 781.62 L147.58 779.51 L148.96 777.6 L150.34 775.88 L151.71 774.32 L153.09 772.93 L154.47 771.67 L155.84 770.55 L157.22 769.55 L158.6 768.66 L159.97 767.88 L161.35 767.2 L162.73 766.62 L164.11 766.13 L165.48 765.72 L166.86 765.4 L168.24 765.17 L169.61 765.02 L170.99 764.94 L172.37 764.95 L173.74 765.04 L175.12 765.22 L176.5 765.48 L177.88 765.83 L179.25 766.27 L180.63 766.8 L182.01 767.44 L183.38 768.18 L184.76 769.03 L186.14 770 L187.51 771.1 L188.89 772.33 L190.27 773.71 L191.65 775.26 L193.02 776.97 L194.4 778.87 L195.78 780.98 L197.15 783.31 L198.53 785.88 L199.91 788.73 L201.28 791.86 L202.66 795.32 L204.04 799.13 L205.42 803.31 L206.79 807.91 L208.17 812.96 L209.55 818.48 L210.92 824.5 L212.3 831.05 L213.68 838.12 L215.05 845.71 L216.43 853.79 L217.81 862.28 L219.19 871.07 L220.56 880.01 L221.94 888.87 L223.32 897.39 L224.69 905.22 L226.07 912.03 L227.45 917.47 L228.82 921.23 L230.2 923.08 L231.58 922.96 L232.96 920.87 L234.33 916.94 L235.71 911.41 L237.09 904.61 L238.46 896.88 L239.84 888.58 L241.22 880.01 L242.59 871.42 L243.97 863.02 L245.35 854.95 L246.73 847.31 L248.1 840.14 L249.48 833.49 L250.86 827.35 L252.23 821.72 L253.61 816.56 L254.99 811.86 L256.36 807.58 L257.74 803.69 L259.12 800.15 L260.5 796.95 L261.87 794.04 L263.25 791.41 L264.63 789.02 L266 786.86 L267.38 784.91 L268.76 783.14 L270.13 781.55 L271.51 780.11 L272.89 778.83 L274.27 777.67 L275.64 776.64 L277.02 775.73 L278.4 774.93 L279.77 774.23 L281.15 773.63 L282.53 773.13 L283.9 772.71 L285.28 772.38 L286.66 772.13 L288.04 771.97 L289.41 771.89 L290.79 771.89 L292.17 771.97 L293.54 772.14 L294.92 772.39 L296.3 772.73 L297.67 773.16 L299.05 773.68 L300.43 774.3 L301.81 775.02 L303.18 775.85 L304.56 776.79 L305.94 777.86 L307.31 779.05 L308.69 780.39 L310.07 781.88 L311.44 783.54 L312.82 785.37 L314.2 787.39 L315.58 789.63 L316.95 792.1 L318.33 794.81 L319.71 797.8 L321.08 801.1 L322.46 804.71 L323.84 808.69 L325.21 813.04 L326.59 817.82 L327.97 823.03 L329.35 828.71 L330.72 834.88 L332.1 841.55 L333.48 848.7 L334.85 856.31 L336.23 864.31" fill="none" stroke="#bc9484" stroke-width="1.3" stroke-linejoin="round"/>
<path d="M60.83 760.06 L62.21 760.71 L63.58 761.47 L64.96 762.33 L66.34 763.32 L67.72 764.43 L69.09 765.67 L70.47 767.06 L71.85 768.61 L73.22 770.33 L74.6 772.23 L75.98 774.35 L77.35 776.68 L78.73 779.27 L80.11 782.13 L81.49 785.29 L82.86 788.79 L84.24 792.65 L85.62 796.92 L86.99 801.62 L88.37 806.82 L89.75 812.54 L91.12 818.82 L92.5 825.7 L93.88 833.21 L95.26 841.34 L96.63 850.09 L98.01 859.4 L99.39 869.16 L100.76 879.2 L102.14 889.28 L103.52 899.08 L104.89 908.19 L106.27 916.17 L107.65 922.55 L109.03 926.91 L110.4 928.95 L111.78 928.48 L113.16 925.57 L114.53 920.47 L115.91 913.56 L117.29 905.27 L118.66 896.08 L120.04 886.4 L121.42 876.61 L122.8 866.98 L124.17 857.72 L125.55 848.95 L126.93 840.77 L128.3 833.21 L129.68 826.26 L131.06 819.92 L132.43 814.15 L133.81 808.91 L135.19 804.17 L136.57 799.88 L137.94 796 L139.32 792.49 L140.7 789.33 L142.07 786.47 L143.45 783.89 L144.83 781.55 L146.2 779.45 L147.58 777.55 L148.96 775.83 L150.34 774.29 L151.71 772.91 L153.09 771.66 L154.47 770.55 L155.84 769.56 L157.22 768.69 L158.6 767.92 L159.97 767.26 L161.35 766.69 L162.73 766.21 L164.11 765.82 L165.48 765.51 L166.86 765.29 L168.24 765.15 L169.61 765.09 L170.99 765.11 L172.37 765.22 L173.74 765.4 L175.12 765.67 L176.5 766.03 L177.88 766.48 L179.25 767.02 L180.63 767.66 L182.01 768.41 L183.38 769.26 L184.76 770.23 L186.14 771.33 L187.51 772.56 L188.89 773.94 L190.27 775.48 L191.65 777.18 L193.02 779.07 L194.4 781.17 L195.78 783.48 L197.15 786.04 L198.53 788.86 L199.91 791.97 L201.28 795.39 L202.66 799.17 L204.04 803.32 L205.42 807.88 L206.79 812.88 L208.17 818.36 L209.55 824.34 L210.92 830.83 L212.3 837.86 L213.68 845.42 L215.05 853.46 L216.43 861.93 L217.81 870.71 L219.19 879.66 L220.56 888.55 L221.94 897.11 L223.32 905.03 L224.69 911.94 L226.07 917.49 L227.45 921.37 L228.82 923.34 L230.2 923.33 L231.58 921.33 L232.96 917.46 L234.33 911.97 L235.71 905.19 L237.09 897.46 L238.46 889.13 L239.84 880.53 L241.22 871.9 L242.59 863.46 L243.97 855.34 L245.35 847.66 L246.73 840.46 L248.1 833.77 L249.48 827.6 L250.86 821.94 L252.23 816.76 L253.61 812.04 L254.99 807.75 L256.36 803.84 L257.74 800.3 L259.12 797.09 L260.5 794.18 L261.87 791.54 L263.25 789.16 L264.63 787 L266 785.05 L267.38 783.29 L268.76 781.7 L270.13 780.27 L271.51 778.99 L272.89 777.84 L274.27 776.82 L275.64 775.92 L277.02 775.13 L278.4 774.44 L279.77 773.85 L281.15 773.35 L282.53 772.94 L283.9 772.62 L285.28 772.38 L286.66 772.23 L288.04 772.15 L289.41 772.16 L290.79 772.25 L292.17 772.42 L293.54 772.68 L294.92 773.02 L296.3 773.44 L297.67 773.96 L299.05 774.58 L300.43 775.3 L301.81 776.12 L303.18 777.05 L304.56 778.11 L305.94 779.29 L307.31 780.61 L308.69 782.08 L310.07 783.71 L311.44 785.52 L312.82 787.51 L314.2 789.71 L315.58 792.14 L316.95 794.81 L318.33 797.75 L319.71 800.99 L321.08 804.55 L322.46 808.46 L323.84 812.75 L325.21 817.45 L326.59 822.58 L327.97 828.19 L329.35 834.27 L330.72 840.86 L332.1 847.93 L333.48 855.47 L334.85 863.43 L336.23 871.7" fill="none" stroke="#cf9f62" stroke-width="1.3" stroke-linejoin="round"/>
<path d="M60.83 760.92 L62.21 761.69 L63.58 762.58 L64.96 763.58 L66.34 764.71 L67.72 765.97 L69.09 767.38 L70.47 768.94 L71.85 770.68 L73.22 772.61 L74.6 774.74 L75.98 777.09 L77.35 779.7 L78.73 782.58 L80.11 785.76 L81.49 789.27 L82.86 793.15 L84.24 797.43 L85.62 802.16 L86.99 807.38 L88.37 813.11 L89.75 819.42 L91.12 826.32 L92.5 833.84 L93.88 842 L95.26 850.76 L96.63 860.07 L98.01 869.82 L99.39 879.84 L100.76 889.89 L102.14 899.63 L103.52 908.66 L104.89 916.54 L106.27 922.79 L107.65 927.03 L109.03 928.93 L110.4 928.32 L111.78 925.29 L113.16 920.1 L114.53 913.11 L115.91 904.78 L117.29 895.55 L118.66 885.87 L120.04 876.08 L121.42 866.47 L122.8 857.23 L124.17 848.49 L125.55 840.34 L126.93 832.8 L128.3 825.88 L129.68 819.57 L131.06 813.82 L132.43 808.61 L133.81 803.89 L135.19 799.62 L136.57 795.76 L137.94 792.27 L139.32 789.13 L140.7 786.29 L142.07 783.72 L143.45 781.4 L144.83 779.32 L146.2 777.43 L147.58 775.73 L148.96 774.21 L150.34 772.84 L151.71 771.61 L153.09 770.52 L154.47 769.55 L155.84 768.69 L157.22 767.94 L158.6 767.29 L159.97 766.74 L161.35 766.28 L162.73 765.91 L164.11 765.62 L165.48 765.41 L166.86 765.29 L168.24 765.24 L169.61 765.28 L170.99 765.4 L172.37 765.6 L173.74 765.88 L175.12 766.26 L176.5 766.72 L177.88 767.27 L179.25 767.92 L180.63 768.67 L182.01 769.54 L183.38 770.51 L184.76 771.62 L186.14 772.85 L187.51 774.23 L188.89 775.77 L190.27 777.47 L191.65 779.35 L193.02 781.44 L194.4 783.75 L195.78 786.29 L197.15 789.1 L198.53 792.19 L199.91 795.6 L201.28 799.35 L202.66 803.48 L204.04 808.01 L205.42 812.99 L206.79 818.44 L208.17 824.39 L209.55 830.86 L210.92 837.86 L212.3 845.39 L213.68 853.41 L215.05 861.87 L216.43 870.65 L217.81 879.61 L219.19 888.52 L220.56 897.12 L221.94 905.08 L223.32 912.05 L224.69 917.67 L226.07 921.61 L227.45 923.64 L228.82 923.67 L230.2 921.7 L231.58 917.84 L232.96 912.34 L234.33 905.54 L235.71 897.77 L237.09 889.41 L238.46 880.77 L239.84 872.1 L241.22 863.62 L242.59 855.47 L243.97 847.76 L245.35 840.54 L246.73 833.83 L248.1 827.65 L249.48 821.98 L250.86 816.8 L252.23 812.08 L253.61 807.78 L254.99 803.88 L256.36 800.34 L257.74 797.13 L259.12 794.23 L260.5 791.6 L261.87 789.22 L263.25 787.07 L264.63 785.13 L266 783.38 L267.38 781.8 L268.76 780.39 L270.13 779.12 L271.51 777.98 L272.89 776.98 L274.27 776.09 L275.64 775.3 L277.02 774.63 L278.4 774.05 L279.77 773.56 L281.15 773.17 L282.53 772.86 L283.9 772.63 L285.28 772.49 L286.66 772.42 L288.04 772.44 L289.41 772.54 L290.79 772.72 L292.17 772.98 L293.54 773.32 L294.92 773.76 L296.3 774.28 L297.67 774.9 L299.05 775.61 L300.43 776.43 L301.81 777.36 L303.18 778.41 L304.56 779.58 L305.94 780.89 L307.31 782.35 L308.69 783.96 L310.07 785.74 L311.44 787.71 L312.82 789.89 L314.2 792.28 L315.58 794.92 L316.95 797.82 L318.33 801.01 L319.71 804.52 L321.08 808.38 L322.46 812.61 L323.84 817.25 L325.21 822.32 L326.59 827.86 L327.97 833.88 L329.35 840.4 L330.72 847.41 L332.1 854.9 L333.48 862.81 L334.85 871.06 L336.23 879.51" fill="none" stroke="#e0b052" stroke-width="1.3" stroke-linejoin="round"/>
</g>
<rect x="61.3" y="756.8" width="329.7" height="180.1" fill="none" stroke="#1e1e1e" stroke-width="1.35"/>
<path d="M60.83 936.9 V934.9 M67.71 936.9 V934.9 M74.6 936.9 V934.9 M81.48 936.9 V934.9 M88.37 936.9 V934.9 M95.25 936.9 V934.9 M102.14 936.9 V934.9 M109.02 936.9 V934.9 M115.91 936.9 V934.9 M122.79 936.9 V934.9 M129.68 936.9 V934.9 M136.56 936.9 V934.9 M143.45 936.9 V934.9 M150.33 936.9 V934.9 M157.22 936.9 V934.9 M164.1 936.9 V934.9 M170.99 936.9 V934.9 M177.88 936.9 V934.9 M184.76 936.9 V934.9 M191.64 936.9 V934.9 M198.53 936.9 V934.9 M205.41 936.9 V934.9 M212.3 936.9 V934.9 M219.19 936.9 V934.9 M226.07 936.9 V934.9 M232.95 936.9 V934.9 M239.84 936.9 V934.9 M246.72 936.9 V934.9 M253.61 936.9 V934.9 M260.5 936.9 V934.9 M267.38 936.9 V934.9 M274.26 936.9 V934.9 M281.15 936.9 V934.9 M288.03 936.9 V934.9 M294.92 936.9 V934.9 M301.8 936.9 V934.9 M308.69 936.9 V934.9 M315.57 936.9 V934.9 M322.46 936.9 V934.9 M329.35 936.9 V934.9 M336.23 936.9 V934.9 M343.12 936.9 V934.9 M350 936.9 V934.9 M356.88 936.9 V934.9 M363.77 936.9 V934.9 M370.65 936.9 V934.9 M377.54 936.9 V934.9 M384.42 936.9 V934.9 M391.31 936.9 V934.9 M74.6 936.9 V933.3 M143.45 936.9 V933.3 M212.3 936.9 V933.3 M281.15 936.9 V933.3 M350 936.9 V933.3" fill="none" stroke="#1e1e1e" stroke-width="1.1"/>
<text x="0" y="0" font-size="10.25" text-anchor="middle" fill="#1a1a1a" transform="translate(74.6 950.2) scale(1 1.13)">1530</text>
<text x="0" y="0" font-size="10.25" text-anchor="middle" fill="#1a1a1a" transform="translate(143.45 950.2) scale(1 1.13)">1540</text>
<text x="0" y="0" font-size="10.25" text-anchor="middle" fill="#1a1a1a" transform="translate(212.3 950.2) scale(1 1.13)">1550</text>
<text x="0" y="0" font-size="10.25" text-anchor="middle" fill="#1a1a1a" transform="translate(281.15 950.2) scale(1 1.13)">1560</text>
<text x="0" y="0" font-size="10.25" text-anchor="middle" fill="#1a1a1a" transform="translate(350 950.2) scale(1 1.13)">1570</text>
<path d="M61.3 935.42 H63.3 M61.3 930.3 H63.3 M61.3 925.18 H63.3 M61.3 920.06 H63.3 M61.3 914.94 H63.3 M61.3 909.82 H63.3 M61.3 904.7 H63.3 M61.3 899.58 H63.3 M61.3 894.46 H63.3 M61.3 889.34 H63.3 M61.3 884.22 H63.3 M61.3 879.1 H63.3 M61.3 873.98 H63.3 M61.3 868.86 H63.3 M61.3 863.74 H63.3 M61.3 858.62 H63.3 M61.3 853.5 H63.3 M61.3 848.38 H63.3 M61.3 843.26 H63.3 M61.3 838.14 H63.3 M61.3 833.02 H63.3 M61.3 827.9 H63.3 M61.3 822.78 H63.3 M61.3 817.66 H63.3 M61.3 812.54 H63.3 M61.3 807.42 H63.3 M61.3 802.3 H63.3 M61.3 797.18 H63.3 M61.3 792.06 H63.3 M61.3 786.94 H63.3 M61.3 781.82 H63.3 M61.3 776.7 H63.3 M61.3 771.58 H63.3 M61.3 766.46 H63.3 M61.3 761.34 H63.3 M61.3 930.3 H64.9 M61.3 904.7 H64.9 M61.3 879.1 H64.9 M61.3 853.5 H64.9 M61.3 827.9 H64.9 M61.3 802.3 H64.9 M61.3 776.7 H64.9" fill="none" stroke="#1e1e1e" stroke-width="1.1"/>
<text x="0" y="0" font-size="10.25" text-anchor="end" fill="#1a1a1a" transform="translate(55.1 934.35) scale(1 1.13)">1600</text>
<text x="0" y="0" font-size="10.25" text-anchor="end" fill="#1a1a1a" transform="translate(55.1 908.75) scale(1 1.13)">2000</text>
<text x="0" y="0" font-size="10.25" text-anchor="end" fill="#1a1a1a" transform="translate(55.1 883.15) scale(1 1.13)">2400</text>
<text x="0" y="0" font-size="10.25" text-anchor="end" fill="#1a1a1a" transform="translate(55.1 857.55) scale(1 1.13)">2800</text>
<text x="0" y="0" font-size="10.25" text-anchor="end" fill="#1a1a1a" transform="translate(55.1 831.95) scale(1 1.13)">3200</text>
<text x="0" y="0" font-size="10.25" text-anchor="end" fill="#1a1a1a" transform="translate(55.1 806.35) scale(1 1.13)">3600</text>
<text x="0" y="0" font-size="10.25" text-anchor="end" fill="#1a1a1a" transform="translate(55.1 780.75) scale(1 1.13)">4000</text>
<line x1="338" y1="770.7" x2="359" y2="770.7" stroke="#23307f" stroke-width="1.5"/>
<text x="0" y="0" font-size="9.4" fill="#1a1a1a" transform="translate(362 774.2) scale(1 1.1)">0 μN</text>
<line x1="338" y1="782.27" x2="359" y2="782.27" stroke="#2b45a0" stroke-width="1.5"/>
<text x="0" y="0" font-size="9.4" fill="#1a1a1a" transform="translate(362 785.77) scale(1 1.1)">6 μN</text>
<line x1="338" y1="793.84" x2="359" y2="793.84" stroke="#3560b8" stroke-width="1.5"/>
<text x="0" y="0" font-size="9.4" fill="#1a1a1a" transform="translate(362 797.34) scale(1 1.1)">12 μN</text>
<line x1="338" y1="805.41" x2="359" y2="805.41" stroke="#4688d0" stroke-width="1.5"/>
<text x="0" y="0" font-size="9.4" fill="#1a1a1a" transform="translate(362 808.91) scale(1 1.1)">18 μN</text>
<line x1="338" y1="816.98" x2="359" y2="816.98" stroke="#4aaec8" stroke-width="1.5"/>
<text x="0" y="0" font-size="9.4" fill="#1a1a1a" transform="translate(362 820.48) scale(1 1.1)">24 μN</text>
<line x1="338" y1="828.55" x2="359" y2="828.55" stroke="#36ab9e" stroke-width="1.5"/>
<text x="0" y="0" font-size="9.4" fill="#1a1a1a" transform="translate(362 832.05) scale(1 1.1)">30 μN</text>
<line x1="338" y1="840.12" x2="359" y2="840.12" stroke="#58c6a6" stroke-width="1.5"/>
<text x="0" y="0" font-size="9.4" fill="#1a1a1a" transform="translate(362 843.62) scale(1 1.1)">36 μN</text>
<line x1="338" y1="851.69" x2="359" y2="851.69" stroke="#4e9680" stroke-width="1.5"/>
<text x="0" y="0" font-size="9.4" fill="#1a1a1a" transform="translate(362 855.19) scale(1 1.1)">42 μN</text>
<line x1="338" y1="863.26" x2="359" y2="863.26" stroke="#9290b2" stroke-width="1.5"/>
<text x="0" y="0" font-size="9.4" fill="#1a1a1a" transform="translate(362 866.76) scale(1 1.1)">48 μN</text>
<line x1="338" y1="874.83" x2="359" y2="874.83" stroke="#a08898" stroke-width="1.5"/>
<text x="0" y="0" font-size="9.4" fill="#1a1a1a" transform="translate(362 878.33) scale(1 1.1)">54 μN</text>
<line x1="338" y1="886.4" x2="359" y2="886.4" stroke="#bc9484" stroke-width="1.5"/>
<text x="0" y="0" font-size="9.4" fill="#1a1a1a" transform="translate(362 889.9) scale(1 1.1)">60 μN</text>
<line x1="338" y1="897.97" x2="359" y2="897.97" stroke="#cf9f62" stroke-width="1.5"/>
<text x="0" y="0" font-size="9.4" fill="#1a1a1a" transform="translate(362 901.47) scale(1 1.1)">66 μN</text>
<line x1="338" y1="909.54" x2="359" y2="909.54" stroke="#e0b052" stroke-width="1.5"/>
<text x="0" y="0" font-size="9.4" fill="#1a1a1a" transform="translate(362 913.04) scale(1 1.1)">72 μN</text>
<text x="226.2" y="966" font-size="11.15" font-weight="bold" text-anchor="middle" fill="#111">Wavelength (nm)</text>
<text x="25.5" y="846.6" font-size="11" font-weight="bold" text-anchor="middle" fill="#111" transform="rotate(-90 25.5 846.6)">Amplitude</text>
<rect x="462" y="348.8" width="87.6" height="102.6" fill="#d5e2f0" stroke="none" stroke-width="1"/>
<g filter="url(#blur06)">
<rect x="480.4" y="411.6" width="45.6" height="39.8" fill="url(#fgc)" stroke="none" stroke-width="1"/>
<rect x="487.5" y="387.4" width="29.5" height="21.2" fill="#3f75b0" stroke="none" stroke-width="1"/>
<g clip-path="url(#lclc)">
<path d="M487.99 387.23 L489.51 386.54 L491.02 385.92 L492.54 385.38 L494.06 385.01 L495.57 385.38 L497.09 385.92 L498.6 386.54 L500.12 387.23 L498.6 387.93 L497.09 388.55 L495.57 389.09 L494.06 389.46 L492.54 389.09 L491.02 388.55 L489.51 387.93Z M504.38 387.23 L505.9 386.54 L507.41 385.92 L508.93 385.38 L510.44 385.01 L511.96 385.38 L513.48 385.92 L514.99 386.54 L516.51 387.23 L514.99 387.93 L513.48 388.55 L511.96 389.09 L510.44 389.46 L508.93 389.09 L507.41 388.55 L505.9 387.93Z M479.8 390.6 L481.31 389.91 L482.83 389.28 L484.35 388.75 L485.86 388.38 L487.38 388.75 L488.89 389.28 L490.41 389.91 L491.92 390.6 L490.41 391.29 L488.89 391.92 L487.38 392.45 L485.86 392.82 L484.35 392.45 L482.83 391.92 L481.31 391.29Z M496.19 390.6 L497.7 389.91 L499.22 389.28 L500.73 388.75 L502.25 388.38 L503.77 388.75 L505.28 389.28 L506.8 389.91 L508.31 390.6 L506.8 391.29 L505.28 391.92 L503.77 392.45 L502.25 392.82 L500.73 392.45 L499.22 391.92 L497.7 391.29Z M512.58 390.6 L514.09 389.91 L515.61 389.28 L517.12 388.75 L518.64 388.38 L520.15 388.75 L521.67 389.28 L523.19 389.91 L524.7 390.6 L523.19 391.29 L521.67 391.92 L520.15 392.45 L518.64 392.82 L517.12 392.45 L515.61 391.92 L514.09 391.29Z M487.99 393.97 L489.51 393.27 L491.02 392.65 L492.54 392.11 L494.06 391.74 L495.57 392.11 L497.09 392.65 L498.6 393.27 L500.12 393.97 L498.6 394.66 L497.09 395.28 L495.57 395.82 L494.06 396.19 L492.54 395.82 L491.02 395.28 L489.51 394.66Z M504.38 393.97 L505.9 393.27 L507.41 392.65 L508.93 392.11 L510.44 391.74 L511.96 392.11 L513.48 392.65 L514.99 393.27 L516.51 393.97 L514.99 394.66 L513.48 395.28 L511.96 395.82 L510.44 396.19 L508.93 395.82 L507.41 395.28 L505.9 394.66Z M479.8 397.33 L481.31 396.64 L482.83 396.01 L484.35 395.48 L485.86 395.11 L487.38 395.48 L488.89 396.01 L490.41 396.64 L491.92 397.33 L490.41 398.02 L488.89 398.65 L487.38 399.18 L485.86 399.55 L484.35 399.18 L482.83 398.65 L481.31 398.02Z M496.19 397.33 L497.7 396.64 L499.22 396.01 L500.73 395.48 L502.25 395.11 L503.77 395.48 L505.28 396.01 L506.8 396.64 L508.31 397.33 L506.8 398.02 L505.28 398.65 L503.77 399.18 L502.25 399.55 L500.73 399.18 L499.22 398.65 L497.7 398.02Z M512.58 397.33 L514.09 396.64 L515.61 396.01 L517.12 395.48 L518.64 395.11 L520.15 395.48 L521.67 396.01 L523.19 396.64 L524.7 397.33 L523.19 398.02 L521.67 398.65 L520.15 399.18 L518.64 399.55 L517.12 399.18 L515.61 398.65 L514.09 398.02Z M487.99 400.7 L489.51 400 L491.02 399.38 L492.54 398.84 L494.06 398.47 L495.57 398.84 L497.09 399.38 L498.6 400 L500.12 400.7 L498.6 401.39 L497.09 402.01 L495.57 402.55 L494.06 402.92 L492.54 402.55 L491.02 402.01 L489.51 401.39Z M504.38 400.7 L505.9 400 L507.41 399.38 L508.93 398.84 L510.44 398.47 L511.96 398.84 L513.48 399.38 L514.99 400 L516.51 400.7 L514.99 401.39 L513.48 402.01 L511.96 402.55 L510.44 402.92 L508.93 402.55 L507.41 402.01 L505.9 401.39Z M479.8 404.06 L481.31 403.37 L482.83 402.74 L484.35 402.21 L485.86 401.84 L487.38 402.21 L488.89 402.74 L490.41 403.37 L491.92 404.06 L490.41 404.75 L488.89 405.38 L487.38 405.91 L485.86 406.28 L484.35 405.91 L482.83 405.38 L481.31 404.75Z M496.19 404.06 L497.7 403.37 L499.22 402.74 L500.73 402.21 L502.25 401.84 L503.77 402.21 L505.28 402.74 L506.8 403.37 L508.31 404.06 L506.8 404.75 L505.28 405.38 L503.77 405.91 L502.25 406.28 L500.73 405.91 L499.22 405.38 L497.7 404.75Z M512.58 404.06 L514.09 403.37 L515.61 402.74 L517.12 402.21 L518.64 401.84 L520.15 402.21 L521.67 402.74 L523.19 403.37 L524.7 404.06 L523.19 404.75 L521.67 405.38 L520.15 405.91 L518.64 406.28 L517.12 405.91 L515.61 405.38 L514.09 404.75Z M487.99 407.43 L489.51 406.73 L491.02 406.11 L492.54 405.57 L494.06 405.2 L495.57 405.57 L497.09 406.11 L498.6 406.73 L500.12 407.43 L498.6 408.12 L497.09 408.74 L495.57 409.28 L494.06 409.65 L492.54 409.28 L491.02 408.74 L489.51 408.12Z M504.38 407.43 L505.9 406.73 L507.41 406.11 L508.93 405.57 L510.44 405.2 L511.96 405.57 L513.48 406.11 L514.99 406.73 L516.51 407.43 L514.99 408.12 L513.48 408.74 L511.96 409.28 L510.44 409.65 L508.93 409.28 L507.41 408.74 L505.9 408.12Z" fill="#cfdeee" stroke="none" stroke-width="1"/>
</g>
<rect x="487" y="386.8" width="30.5" height="1.6" fill="#3f75b0" stroke="none" stroke-width="1"/>
<rect x="486.5" y="406.4" width="31.5" height="5.4" fill="#4a7fb6" stroke="none" stroke-width="1"/>
<line x1="487.9" y1="387.4" x2="487.9" y2="408.6" stroke="#3f75b0" stroke-width="1.4"/>
<line x1="516.6" y1="387.4" x2="516.6" y2="408.6" stroke="#3f75b0" stroke-width="1.4"/>
<rect x="487.8" y="378.4" width="8.85" height="9" fill="#d0dfee" stroke="#3f75b0" stroke-width="1.2"/>
<rect x="507.85" y="378.4" width="8.85" height="9" fill="#d0dfee" stroke="#3f75b0" stroke-width="1.2"/>
<path d="M492.81 378.4 Q498.3 375.4 498.8 366.7 M511.69 378.4 Q508.4 375.4 507.9 366.7" fill="none" stroke="#3f75b0" stroke-width="1.1"/>
<rect x="497.6" y="363.7" width="2.4" height="4" fill="#3f75b0" stroke="none" stroke-width="1"/>
<rect x="506.7" y="363.7" width="2.4" height="4" fill="#3f75b0" stroke="none" stroke-width="1"/>
</g>
<rect x="596" y="300.6" width="84" height="55.2" fill="#e9eff7" stroke="none" stroke-width="1"/>
<g filter="url(#blur07)">
<rect x="599" y="302.6" width="78" height="51.2" fill="#4a80b9" stroke="none" stroke-width="1"/>
<g clip-path="url(#ltcc)">
<path d="M578.3 297.3 L581.85 295.18 L585.4 293.27 L588.95 291.63 L592.5 290.51 L596.05 291.63 L599.6 293.27 L603.15 295.18 L606.7 297.3 L603.15 299.42 L599.6 301.33 L596.05 302.97 L592.5 304.09 L588.95 302.97 L585.4 301.33 L581.85 299.42Z M614.7 297.3 L618.25 295.18 L621.8 293.27 L625.35 291.63 L628.9 290.51 L632.45 291.63 L636 293.27 L639.55 295.18 L643.1 297.3 L639.55 299.42 L636 301.33 L632.45 302.97 L628.9 304.09 L625.35 302.97 L621.8 301.33 L618.25 299.42Z M651.1 297.3 L654.65 295.18 L658.2 293.27 L661.75 291.63 L665.3 290.51 L668.85 291.63 L672.4 293.27 L675.95 295.18 L679.5 297.3 L675.95 299.42 L672.4 301.33 L668.85 302.97 L665.3 304.09 L661.75 302.97 L658.2 301.33 L654.65 299.42Z M596.5 305.2 L600.05 303.08 L603.6 301.17 L607.15 299.53 L610.7 298.41 L614.25 299.53 L617.8 301.17 L621.35 303.08 L624.9 305.2 L621.35 307.32 L617.8 309.23 L614.25 310.87 L610.7 311.99 L607.15 310.87 L603.6 309.23 L600.05 307.32Z M632.9 305.2 L636.45 303.08 L640 301.17 L643.55 299.53 L647.1 298.41 L650.65 299.53 L654.2 301.17 L657.75 303.08 L661.3 305.2 L657.75 307.32 L654.2 309.23 L650.65 310.87 L647.1 311.99 L643.55 310.87 L640 309.23 L636.45 307.32Z M669.3 305.2 L672.85 303.08 L676.4 301.17 L679.95 299.53 L683.5 298.41 L687.05 299.53 L690.6 301.17 L694.15 303.08 L697.7 305.2 L694.15 307.32 L690.6 309.23 L687.05 310.87 L683.5 311.99 L679.95 310.87 L676.4 309.23 L672.85 307.32Z M578.3 313.1 L581.85 310.98 L585.4 309.07 L588.95 307.43 L592.5 306.31 L596.05 307.43 L599.6 309.07 L603.15 310.98 L606.7 313.1 L603.15 315.22 L599.6 317.13 L596.05 318.77 L592.5 319.89 L588.95 318.77 L585.4 317.13 L581.85 315.22Z M614.7 313.1 L618.25 310.98 L621.8 309.07 L625.35 307.43 L628.9 306.31 L632.45 307.43 L636 309.07 L639.55 310.98 L643.1 313.1 L639.55 315.22 L636 317.13 L632.45 318.77 L628.9 319.89 L625.35 318.77 L621.8 317.13 L618.25 315.22Z M651.1 313.1 L654.65 310.98 L658.2 309.07 L661.75 307.43 L665.3 306.31 L668.85 307.43 L672.4 309.07 L675.95 310.98 L679.5 313.1 L675.95 315.22 L672.4 317.13 L668.85 318.77 L665.3 319.89 L661.75 318.77 L658.2 317.13 L654.65 315.22Z M596.5 321 L600.05 318.88 L603.6 316.97 L607.15 315.33 L610.7 314.21 L614.25 315.33 L617.8 316.97 L621.35 318.88 L624.9 321 L621.35 323.12 L617.8 325.03 L614.25 326.67 L610.7 327.79 L607.15 326.67 L603.6 325.03 L600.05 323.12Z M632.9 321 L636.45 318.88 L640 316.97 L643.55 315.33 L647.1 314.21 L650.65 315.33 L654.2 316.97 L657.75 318.88 L661.3 321 L657.75 323.12 L654.2 325.03 L650.65 326.67 L647.1 327.79 L643.55 326.67 L640 325.03 L636.45 323.12Z M669.3 321 L672.85 318.88 L676.4 316.97 L679.95 315.33 L683.5 314.21 L687.05 315.33 L690.6 316.97 L694.15 318.88 L697.7 321 L694.15 323.12 L690.6 325.03 L687.05 326.67 L683.5 327.79 L679.95 326.67 L676.4 325.03 L672.85 323.12Z M578.3 328.9 L581.85 326.78 L585.4 324.87 L588.95 323.23 L592.5 322.11 L596.05 323.23 L599.6 324.87 L603.15 326.78 L606.7 328.9 L603.15 331.02 L599.6 332.93 L596.05 334.57 L592.5 335.69 L588.95 334.57 L585.4 332.93 L581.85 331.02Z M614.7 328.9 L618.25 326.78 L621.8 324.87 L625.35 323.23 L628.9 322.11 L632.45 323.23 L636 324.87 L639.55 326.78 L643.1 328.9 L639.55 331.02 L636 332.93 L632.45 334.57 L628.9 335.69 L625.35 334.57 L621.8 332.93 L618.25 331.02Z M651.1 328.9 L654.65 326.78 L658.2 324.87 L661.75 323.23 L665.3 322.11 L668.85 323.23 L672.4 324.87 L675.95 326.78 L679.5 328.9 L675.95 331.02 L672.4 332.93 L668.85 334.57 L665.3 335.69 L661.75 334.57 L658.2 332.93 L654.65 331.02Z M596.5 336.8 L600.05 334.68 L603.6 332.77 L607.15 331.13 L610.7 330.01 L614.25 331.13 L617.8 332.77 L621.35 334.68 L624.9 336.8 L621.35 338.92 L617.8 340.83 L614.25 342.47 L610.7 343.59 L607.15 342.47 L603.6 340.83 L600.05 338.92Z M632.9 336.8 L636.45 334.68 L640 332.77 L643.55 331.13 L647.1 330.01 L650.65 331.13 L654.2 332.77 L657.75 334.68 L661.3 336.8 L657.75 338.92 L654.2 340.83 L650.65 342.47 L647.1 343.59 L643.55 342.47 L640 340.83 L636.45 338.92Z M669.3 336.8 L672.85 334.68 L676.4 332.77 L679.95 331.13 L683.5 330.01 L687.05 331.13 L690.6 332.77 L694.15 334.68 L697.7 336.8 L694.15 338.92 L690.6 340.83 L687.05 342.47 L683.5 343.59 L679.95 342.47 L676.4 340.83 L672.85 338.92Z M578.3 344.7 L581.85 342.58 L585.4 340.67 L588.95 339.03 L592.5 337.91 L596.05 339.03 L599.6 340.67 L603.15 342.58 L606.7 344.7 L603.15 346.82 L599.6 348.73 L596.05 350.37 L592.5 351.49 L588.95 350.37 L585.4 348.73 L581.85 346.82Z M614.7 344.7 L618.25 342.58 L621.8 340.67 L625.35 339.03 L628.9 337.91 L632.45 339.03 L636 340.67 L639.55 342.58 L643.1 344.7 L639.55 346.82 L636 348.73 L632.45 350.37 L628.9 351.49 L625.35 350.37 L621.8 348.73 L618.25 346.82Z M651.1 344.7 L654.65 342.58 L658.2 340.67 L661.75 339.03 L665.3 337.91 L668.85 339.03 L672.4 340.67 L675.95 342.58 L679.5 344.7 L675.95 346.82 L672.4 348.73 L668.85 350.37 L665.3 351.49 L661.75 350.37 L658.2 348.73 L654.65 346.82Z M596.5 352.6 L600.05 350.48 L603.6 348.57 L607.15 346.93 L610.7 345.81 L614.25 346.93 L617.8 348.57 L621.35 350.48 L624.9 352.6 L621.35 354.72 L617.8 356.63 L614.25 358.27 L610.7 359.39 L607.15 358.27 L603.6 356.63 L600.05 354.72Z M632.9 352.6 L636.45 350.48 L640 348.57 L643.55 346.93 L647.1 345.81 L650.65 346.93 L654.2 348.57 L657.75 350.48 L661.3 352.6 L657.75 354.72 L654.2 356.63 L650.65 358.27 L647.1 359.39 L643.55 358.27 L640 356.63 L636.45 354.72Z M669.3 352.6 L672.85 350.48 L676.4 348.57 L679.95 346.93 L683.5 345.81 L687.05 346.93 L690.6 348.57 L694.15 350.48 L697.7 352.6 L694.15 354.72 L690.6 356.63 L687.05 358.27 L683.5 359.39 L679.95 358.27 L676.4 356.63 L672.85 354.72Z M578.3 360.5 L581.85 358.38 L585.4 356.47 L588.95 354.83 L592.5 353.71 L596.05 354.83 L599.6 356.47 L603.15 358.38 L606.7 360.5 L603.15 362.62 L599.6 364.53 L596.05 366.17 L592.5 367.29 L588.95 366.17 L585.4 364.53 L581.85 362.62Z M614.7 360.5 L618.25 358.38 L621.8 356.47 L625.35 354.83 L628.9 353.71 L632.45 354.83 L636 356.47 L639.55 358.38 L643.1 360.5 L639.55 362.62 L636 364.53 L632.45 366.17 L628.9 367.29 L625.35 366.17 L621.8 364.53 L618.25 362.62Z M651.1 360.5 L654.65 358.38 L658.2 356.47 L661.75 354.83 L665.3 353.71 L668.85 354.83 L672.4 356.47 L675.95 358.38 L679.5 360.5 L675.95 362.62 L672.4 364.53 L668.85 366.17 L665.3 367.29 L661.75 366.17 L658.2 364.53 L654.65 362.62Z" fill="#e6edf6" stroke="none" stroke-width="1"/>
</g>
<rect x="599" y="301.1" width="78" height="4.5" fill="#4a80b9" stroke="none" stroke-width="1"/>
<rect x="599" y="351.8" width="78" height="3.5" fill="#4a80b9" stroke="none" stroke-width="1"/>
<path d="M601 304.6 Q597 328.2 601 352.8 Q605 328.2 601 304.6" fill="none" stroke="#4a80b9" stroke-width="2"/>
<path d="M675 304.6 Q679 328.2 675 352.8 Q671 328.2 675 304.6" fill="none" stroke="#4a80b9" stroke-width="2"/>
</g>
<text x="528.55" y="358.9" font-size="13.8" font-weight="bold" text-anchor="middle" fill="#000">50 μm</text>
<rect x="521" y="366" width="18" height="3.5" fill="#000" stroke="none" stroke-width="1"/>
<text x="636.3" y="368.4" font-size="10" fill="#1a1a1a" text-anchor="middle"><tspan font-style="italic">t</tspan> =1 μm</text>
<circle cx="465.8" cy="282" r="2.9" fill="url(#sp_c)"/>
<circle cx="480.98" cy="292" r="2.9" fill="url(#sp_c)"/>
<circle cx="496.16" cy="301.2" r="2.9" fill="url(#sp_c)"/>
<circle cx="511.34" cy="312.8" r="2.9" fill="url(#sp_c)"/>
<circle cx="526.52" cy="322.8" r="2.9" fill="url(#sp_c)"/>
<circle cx="541.7" cy="334" r="2.9" fill="url(#sp_c)"/>
<circle cx="556.88" cy="347.8" r="2.9" fill="url(#sp_c)"/>
<circle cx="572.06" cy="360.2" r="2.9" fill="url(#sp_c)"/>
<circle cx="587.24" cy="371.5" r="2.9" fill="url(#sp_c)"/>
<circle cx="602.42" cy="384.8" r="2.9" fill="url(#sp_c)"/>
<circle cx="617.6" cy="396.9" r="2.9" fill="url(#sp_c)"/>
<circle cx="632.78" cy="407.7" r="2.9" fill="url(#sp_c)"/>
<circle cx="647.96" cy="418.9" r="2.9" fill="url(#sp_c)"/>
<circle cx="663.14" cy="431.8" r="2.9" fill="url(#sp_c)"/>
<circle cx="678.32" cy="445.5" r="2.9" fill="url(#sp_c)"/>
<line x1="465.8" y1="278.6" x2="683.4" y2="449.8" stroke="#111" stroke-width="1.25"/>
<rect x="461.3" y="272.7" width="222.1" height="179.3" fill="none" stroke="#1e1e1e" stroke-width="1.35"/>
<path d="M465.8 452 V450 M470.86 452 V450 M475.92 452 V450 M480.98 452 V450 M486.04 452 V450 M491.1 452 V450 M496.16 452 V450 M501.22 452 V450 M506.28 452 V450 M511.34 452 V450 M516.4 452 V450 M521.46 452 V450 M526.52 452 V450 M531.58 452 V450 M536.64 452 V450 M541.7 452 V450 M546.76 452 V450 M551.82 452 V450 M556.88 452 V450 M561.94 452 V450 M567 452 V450 M572.06 452 V450 M577.12 452 V450 M582.18 452 V450 M587.24 452 V450 M592.3 452 V450 M597.36 452 V450 M602.42 452 V450 M607.48 452 V450 M612.54 452 V450 M617.6 452 V450 M622.66 452 V450 M627.72 452 V450 M632.78 452 V450 M637.84 452 V450 M642.9 452 V450 M647.96 452 V450 M653.02 452 V450 M658.08 452 V450 M663.14 452 V450 M668.2 452 V450 M673.26 452 V450 M678.32 452 V450 M683.38 452 V450 M465.8 452 V448.4 M516.4 452 V448.4 M567 452 V448.4 M617.6 452 V448.4 M668.2 452 V448.4" fill="none" stroke="#1e1e1e" stroke-width="1.1"/>
<text x="0" y="0" font-size="9.85" text-anchor="middle" fill="#1a1a1a" transform="translate(465.8 464.6) scale(1 1.13)">0</text>
<text x="0" y="0" font-size="9.85" text-anchor="middle" fill="#1a1a1a" transform="translate(516.4 464.6) scale(1 1.13)">10</text>
<text x="0" y="0" font-size="9.85" text-anchor="middle" fill="#1a1a1a" transform="translate(567 464.6) scale(1 1.13)">20</text>
<text x="0" y="0" font-size="9.85" text-anchor="middle" fill="#1a1a1a" transform="translate(617.6 464.6) scale(1 1.13)">30</text>
<text x="0" y="0" font-size="9.85" text-anchor="middle" fill="#1a1a1a" transform="translate(668.2 464.6) scale(1 1.13)">40</text>
<path d="M461.3 451.5 H463.3 M461.3 446.56 H463.3 M461.3 441.62 H463.3 M461.3 436.68 H463.3 M461.3 431.74 H463.3 M461.3 426.8 H463.3 M461.3 421.86 H463.3 M461.3 416.92 H463.3 M461.3 411.98 H463.3 M461.3 407.04 H463.3 M461.3 402.1 H463.3 M461.3 397.16 H463.3 M461.3 392.22 H463.3 M461.3 387.28 H463.3 M461.3 382.34 H463.3 M461.3 377.4 H463.3 M461.3 372.46 H463.3 M461.3 367.52 H463.3 M461.3 362.58 H463.3 M461.3 357.64 H463.3 M461.3 352.7 H463.3 M461.3 347.76 H463.3 M461.3 342.82 H463.3 M461.3 337.88 H463.3 M461.3 332.94 H463.3 M461.3 328 H463.3 M461.3 323.06 H463.3 M461.3 318.12 H463.3 M461.3 313.18 H463.3 M461.3 308.24 H463.3 M461.3 303.3 H463.3 M461.3 298.36 H463.3 M461.3 293.42 H463.3 M461.3 288.48 H463.3 M461.3 283.54 H463.3 M461.3 278.6 H463.3 M461.3 451.5 H464.9 M461.3 426.8 H464.9 M461.3 402.1 H464.9 M461.3 377.4 H464.9 M461.3 352.7 H464.9 M461.3 328 H464.9 M461.3 303.3 H464.9 M461.3 278.6 H464.9" fill="none" stroke="#1e1e1e" stroke-width="1.1"/>
<text x="0" y="0" font-size="9.85" text-anchor="end" fill="#1a1a1a" transform="translate(456.8 455.4) scale(1 1.13)">1534</text>
<text x="0" y="0" font-size="9.85" text-anchor="end" fill="#1a1a1a" transform="translate(456.8 430.7) scale(1 1.13)">1536</text>
<text x="0" y="0" font-size="9.85" text-anchor="end" fill="#1a1a1a" transform="translate(456.8 406) scale(1 1.13)">1538</text>
<text x="0" y="0" font-size="9.85" text-anchor="end" fill="#1a1a1a" transform="translate(456.8 381.3) scale(1 1.13)">1540</text>
<text x="0" y="0" font-size="9.85" text-anchor="end" fill="#1a1a1a" transform="translate(456.8 356.6) scale(1 1.13)">1542</text>
<text x="0" y="0" font-size="9.85" text-anchor="end" fill="#1a1a1a" transform="translate(456.8 331.9) scale(1 1.13)">1544</text>
<text x="0" y="0" font-size="9.85" text-anchor="end" fill="#1a1a1a" transform="translate(456.8 307.2) scale(1 1.13)">1546</text>
<text x="0" y="0" font-size="9.85" text-anchor="end" fill="#1a1a1a" transform="translate(456.8 282.5) scale(1 1.13)">1548</text>
<circle cx="573" cy="279.2" r="2.9" fill="url(#sp_c)"/>
<text x="587.6" y="282.8" font-size="10.15" fill="#1a1a1a">Experimental data</text>
<line x1="562.2" y1="291.6" x2="584.4" y2="291.6" stroke="#111" stroke-width="1.2"/>
<text x="587.6" y="295.2" font-size="10.15" fill="#1a1a1a">Linear fit line</text>
<text x="572.3" y="483" font-size="10.5" font-weight="bold" text-anchor="middle" fill="#111">Load (μN)</text>
<text x="430.6" y="362.6" font-size="11" font-weight="bold" text-anchor="middle" fill="#111" transform="rotate(-90 430.6 362.6)">Wavelength (nm)</text>
<text x="413.5" y="285.5" font-size="17.5" font-weight="bold" fill="#000">c</text>
<rect x="459.4" y="593.8" width="87.9" height="101.9" fill="#d8e3ef" stroke="none" stroke-width="1"/>
<g filter="url(#blur06)">
<rect x="478.4" y="656.2" width="48.9" height="39.5" fill="url(#fge)" stroke="none" stroke-width="1"/>
<rect x="484.2" y="629.5" width="32.1" height="24.1" fill="#5f8fc3" stroke="none" stroke-width="1"/>
<g clip-path="url(#lcle)">
<path d="M484.74 628.87 L486.38 628.09 L488.03 627.38 L489.68 626.77 L491.33 626.35 L492.98 626.77 L494.63 627.38 L496.28 628.09 L497.93 628.87 L496.28 629.66 L494.63 630.37 L492.98 630.98 L491.33 631.4 L489.68 630.98 L488.03 630.37 L486.38 629.66Z M502.57 628.87 L504.22 628.09 L505.87 627.38 L507.52 626.77 L509.17 626.35 L510.82 626.77 L512.47 627.38 L514.12 628.09 L515.76 628.87 L514.12 629.66 L512.47 630.37 L510.82 630.98 L509.17 631.4 L507.52 630.98 L505.87 630.37 L504.22 629.66Z M475.82 632.7 L477.47 631.91 L479.12 631.2 L480.77 630.59 L482.42 630.18 L484.07 630.59 L485.72 631.2 L487.37 631.91 L489.01 632.7 L487.37 633.49 L485.72 634.2 L484.07 634.81 L482.42 635.22 L480.77 634.81 L479.12 634.2 L477.47 633.49Z M493.65 632.7 L495.3 631.91 L496.95 631.2 L498.6 630.59 L500.25 630.18 L501.9 630.59 L503.55 631.2 L505.2 631.91 L506.85 632.7 L505.2 633.49 L503.55 634.2 L501.9 634.81 L500.25 635.22 L498.6 634.81 L496.95 634.2 L495.3 633.49Z M511.48 632.7 L513.13 631.91 L514.78 631.2 L516.43 630.59 L518.08 630.18 L519.73 630.59 L521.38 631.2 L523.03 631.91 L524.68 632.7 L523.03 633.49 L521.38 634.2 L519.73 634.81 L518.08 635.22 L516.43 634.81 L514.78 634.2 L513.13 633.49Z M484.74 636.53 L486.38 635.74 L488.03 635.03 L489.68 634.42 L491.33 634 L492.98 634.42 L494.63 635.03 L496.28 635.74 L497.93 636.53 L496.28 637.31 L494.63 638.02 L492.98 638.63 L491.33 639.05 L489.68 638.63 L488.03 638.02 L486.38 637.31Z M502.57 636.53 L504.22 635.74 L505.87 635.03 L507.52 634.42 L509.17 634 L510.82 634.42 L512.47 635.03 L514.12 635.74 L515.76 636.53 L514.12 637.31 L512.47 638.02 L510.82 638.63 L509.17 639.05 L507.52 638.63 L505.87 638.02 L504.22 637.31Z M475.82 640.35 L477.47 639.56 L479.12 638.85 L480.77 638.24 L482.42 637.83 L484.07 638.24 L485.72 638.85 L487.37 639.56 L489.01 640.35 L487.37 641.14 L485.72 641.85 L484.07 642.46 L482.42 642.88 L480.77 642.46 L479.12 641.85 L477.47 641.14Z M493.65 640.35 L495.3 639.56 L496.95 638.85 L498.6 638.24 L500.25 637.83 L501.9 638.24 L503.55 638.85 L505.2 639.56 L506.85 640.35 L505.2 641.14 L503.55 641.85 L501.9 642.46 L500.25 642.88 L498.6 642.46 L496.95 641.85 L495.3 641.14Z M511.48 640.35 L513.13 639.56 L514.78 638.85 L516.43 638.24 L518.08 637.83 L519.73 638.24 L521.38 638.85 L523.03 639.56 L524.68 640.35 L523.03 641.14 L521.38 641.85 L519.73 642.46 L518.08 642.88 L516.43 642.46 L514.78 641.85 L513.13 641.14Z M484.74 644.18 L486.38 643.39 L488.03 642.68 L489.68 642.07 L491.33 641.65 L492.98 642.07 L494.63 642.68 L496.28 643.39 L497.93 644.18 L496.28 644.96 L494.63 645.68 L492.98 646.28 L491.33 646.7 L489.68 646.28 L488.03 645.68 L486.38 644.96Z M502.57 644.18 L504.22 643.39 L505.87 642.68 L507.52 642.07 L509.17 641.65 L510.82 642.07 L512.47 642.68 L514.12 643.39 L515.76 644.18 L514.12 644.96 L512.47 645.68 L510.82 646.28 L509.17 646.7 L507.52 646.28 L505.87 645.68 L504.22 644.96Z M475.82 648 L477.47 647.21 L479.12 646.5 L480.77 645.89 L482.42 645.48 L484.07 645.89 L485.72 646.5 L487.37 647.21 L489.01 648 L487.37 648.79 L485.72 649.5 L484.07 650.11 L482.42 650.53 L480.77 650.11 L479.12 649.5 L477.47 648.79Z M493.65 648 L495.3 647.21 L496.95 646.5 L498.6 645.89 L500.25 645.48 L501.9 645.89 L503.55 646.5 L505.2 647.21 L506.85 648 L505.2 648.79 L503.55 649.5 L501.9 650.11 L500.25 650.53 L498.6 650.11 L496.95 649.5 L495.3 648.79Z M511.48 648 L513.13 647.21 L514.78 646.5 L516.43 645.89 L518.08 645.48 L519.73 645.89 L521.38 646.5 L523.03 647.21 L524.68 648 L523.03 648.79 L521.38 649.5 L519.73 650.11 L518.08 650.53 L516.43 650.11 L514.78 649.5 L513.13 648.79Z M484.74 651.83 L486.38 651.04 L488.03 650.33 L489.68 649.72 L491.33 649.3 L492.98 649.72 L494.63 650.33 L496.28 651.04 L497.93 651.83 L496.28 652.61 L494.63 653.33 L492.98 653.94 L491.33 654.35 L489.68 653.94 L488.03 653.33 L486.38 652.61Z M502.57 651.83 L504.22 651.04 L505.87 650.33 L507.52 649.72 L509.17 649.3 L510.82 649.72 L512.47 650.33 L514.12 651.04 L515.76 651.83 L514.12 652.61 L512.47 653.33 L510.82 653.94 L509.17 654.35 L507.52 653.94 L505.87 653.33 L504.22 652.61Z" fill="#cfdeee" stroke="none" stroke-width="1"/>
</g>
<rect x="483.7" y="628.9" width="33.1" height="1.6" fill="#5f8fc3" stroke="none" stroke-width="1"/>
<rect x="483.2" y="651.4" width="34.1" height="5" fill="#4a7fb6" stroke="none" stroke-width="1"/>
<line x1="484.6" y1="629.5" x2="484.6" y2="653.6" stroke="#5f8fc3" stroke-width="1.4"/>
<line x1="515.9" y1="629.5" x2="515.9" y2="653.6" stroke="#5f8fc3" stroke-width="1.4"/>
<rect x="484.5" y="620.5" width="9.63" height="9" fill="#d0dfee" stroke="#5f8fc3" stroke-width="1.2"/>
<rect x="506.37" y="620.5" width="9.63" height="9" fill="#d0dfee" stroke="#5f8fc3" stroke-width="1.2"/>
<path d="M489.98 620.5 Q496.1 617.5 496.6 609.2 M510.52 620.5 Q506.6 617.5 506.1 609.2" fill="none" stroke="#5f8fc3" stroke-width="1.1"/>
<rect x="495.4" y="606.2" width="2.4" height="4" fill="#5f8fc3" stroke="none" stroke-width="1"/>
<rect x="504.9" y="606.2" width="2.4" height="4" fill="#5f8fc3" stroke="none" stroke-width="1"/>
</g>
<rect x="595.3" y="546.2" width="84.9" height="57.3" fill="#c3d4e8" stroke="none" stroke-width="1"/>
<g filter="url(#blur07)">
<rect x="595.3" y="546.2" width="84.9" height="57.3" fill="url(#ede)" stroke="none" stroke-width="1"/>
<rect x="598.3" y="548.2" width="78.9" height="53.3" fill="#76a0cc" stroke="none" stroke-width="1"/>
<g clip-path="url(#ltce)">
<path d="M601.76 548.1 L605.92 545.82 L610.08 543.76 L614.24 542 L618.4 540.79 L622.56 542 L626.72 543.76 L630.88 545.82 L635.04 548.1 L630.88 550.38 L626.72 552.44 L622.56 554.2 L618.4 555.41 L614.24 554.2 L610.08 552.44 L605.92 550.38Z M643.36 548.1 L647.52 545.82 L651.68 543.76 L655.84 542 L660 540.79 L664.16 542 L668.32 543.76 L672.48 545.82 L676.64 548.1 L672.48 550.38 L668.32 552.44 L664.16 554.2 L660 555.41 L655.84 554.2 L651.68 552.44 L647.52 550.38Z M580.96 556.6 L585.12 554.32 L589.28 552.26 L593.44 550.5 L597.6 549.29 L601.76 550.5 L605.92 552.26 L610.08 554.32 L614.24 556.6 L610.08 558.88 L605.92 560.94 L601.76 562.7 L597.6 563.91 L593.44 562.7 L589.28 560.94 L585.12 558.88Z M622.56 556.6 L626.72 554.32 L630.88 552.26 L635.04 550.5 L639.2 549.29 L643.36 550.5 L647.52 552.26 L651.68 554.32 L655.84 556.6 L651.68 558.88 L647.52 560.94 L643.36 562.7 L639.2 563.91 L635.04 562.7 L630.88 560.94 L626.72 558.88Z M664.16 556.6 L668.32 554.32 L672.48 552.26 L676.64 550.5 L680.8 549.29 L684.96 550.5 L689.12 552.26 L693.28 554.32 L697.44 556.6 L693.28 558.88 L689.12 560.94 L684.96 562.7 L680.8 563.91 L676.64 562.7 L672.48 560.94 L668.32 558.88Z M601.76 565.1 L605.92 562.82 L610.08 560.76 L614.24 559 L618.4 557.79 L622.56 559 L626.72 560.76 L630.88 562.82 L635.04 565.1 L630.88 567.38 L626.72 569.44 L622.56 571.2 L618.4 572.41 L614.24 571.2 L610.08 569.44 L605.92 567.38Z M643.36 565.1 L647.52 562.82 L651.68 560.76 L655.84 559 L660 557.79 L664.16 559 L668.32 560.76 L672.48 562.82 L676.64 565.1 L672.48 567.38 L668.32 569.44 L664.16 571.2 L660 572.41 L655.84 571.2 L651.68 569.44 L647.52 567.38Z M580.96 573.6 L585.12 571.32 L589.28 569.26 L593.44 567.5 L597.6 566.29 L601.76 567.5 L605.92 569.26 L610.08 571.32 L614.24 573.6 L610.08 575.88 L605.92 577.94 L601.76 579.7 L597.6 580.91 L593.44 579.7 L589.28 577.94 L585.12 575.88Z M622.56 573.6 L626.72 571.32 L630.88 569.26 L635.04 567.5 L639.2 566.29 L643.36 567.5 L647.52 569.26 L651.68 571.32 L655.84 573.6 L651.68 575.88 L647.52 577.94 L643.36 579.7 L639.2 580.91 L635.04 579.7 L630.88 577.94 L626.72 575.88Z M664.16 573.6 L668.32 571.32 L672.48 569.26 L676.64 567.5 L680.8 566.29 L684.96 567.5 L689.12 569.26 L693.28 571.32 L697.44 573.6 L693.28 575.88 L689.12 577.94 L684.96 579.7 L680.8 580.91 L676.64 579.7 L672.48 577.94 L668.32 575.88Z M601.76 582.1 L605.92 579.82 L610.08 577.76 L614.24 576 L618.4 574.79 L622.56 576 L626.72 577.76 L630.88 579.82 L635.04 582.1 L630.88 584.38 L626.72 586.44 L622.56 588.2 L618.4 589.41 L614.24 588.2 L610.08 586.44 L605.92 584.38Z M643.36 582.1 L647.52 579.82 L651.68 577.76 L655.84 576 L660 574.79 L664.16 576 L668.32 577.76 L672.48 579.82 L676.64 582.1 L672.48 584.38 L668.32 586.44 L664.16 588.2 L660 589.41 L655.84 588.2 L651.68 586.44 L647.52 584.38Z M580.96 590.6 L585.12 588.32 L589.28 586.26 L593.44 584.5 L597.6 583.29 L601.76 584.5 L605.92 586.26 L610.08 588.32 L614.24 590.6 L610.08 592.88 L605.92 594.94 L601.76 596.7 L597.6 597.91 L593.44 596.7 L589.28 594.94 L585.12 592.88Z M622.56 590.6 L626.72 588.32 L630.88 586.26 L635.04 584.5 L639.2 583.29 L643.36 584.5 L647.52 586.26 L651.68 588.32 L655.84 590.6 L651.68 592.88 L647.52 594.94 L643.36 596.7 L639.2 597.91 L635.04 596.7 L630.88 594.94 L626.72 592.88Z M664.16 590.6 L668.32 588.32 L672.48 586.26 L676.64 584.5 L680.8 583.29 L684.96 584.5 L689.12 586.26 L693.28 588.32 L697.44 590.6 L693.28 592.88 L689.12 594.94 L684.96 596.7 L680.8 597.91 L676.64 596.7 L672.48 594.94 L668.32 592.88Z M601.76 599.1 L605.92 596.82 L610.08 594.76 L614.24 593 L618.4 591.79 L622.56 593 L626.72 594.76 L630.88 596.82 L635.04 599.1 L630.88 601.38 L626.72 603.44 L622.56 605.2 L618.4 606.41 L614.24 605.2 L610.08 603.44 L605.92 601.38Z M643.36 599.1 L647.52 596.82 L651.68 594.76 L655.84 593 L660 591.79 L664.16 593 L668.32 594.76 L672.48 596.82 L676.64 599.1 L672.48 601.38 L668.32 603.44 L664.16 605.2 L660 606.41 L655.84 605.2 L651.68 603.44 L647.52 601.38Z M580.96 607.6 L585.12 605.32 L589.28 603.26 L593.44 601.5 L597.6 600.29 L601.76 601.5 L605.92 603.26 L610.08 605.32 L614.24 607.6 L610.08 609.88 L605.92 611.94 L601.76 613.7 L597.6 614.91 L593.44 613.7 L589.28 611.94 L585.12 609.88Z M622.56 607.6 L626.72 605.32 L630.88 603.26 L635.04 601.5 L639.2 600.29 L643.36 601.5 L647.52 603.26 L651.68 605.32 L655.84 607.6 L651.68 609.88 L647.52 611.94 L643.36 613.7 L639.2 614.91 L635.04 613.7 L630.88 611.94 L626.72 609.88Z M664.16 607.6 L668.32 605.32 L672.48 603.26 L676.64 601.5 L680.8 600.29 L684.96 601.5 L689.12 603.26 L693.28 605.32 L697.44 607.6 L693.28 609.88 L689.12 611.94 L684.96 613.7 L680.8 614.91 L676.64 613.7 L672.48 611.94 L668.32 609.88Z" fill="#d3e0ee" stroke="none" stroke-width="1"/>
</g>
<rect x="601.3" y="547.2" width="72.9" height="3.5" fill="#76a0cc" stroke="none" stroke-width="1" opacity="0.7"/>
<rect x="601.3" y="599.5" width="72.9" height="3" fill="#76a0cc" stroke="none" stroke-width="1" opacity="0.6"/>
</g>
<text x="529.25" y="604.4" font-size="13.8" font-weight="bold" text-anchor="middle" fill="#000">50 μm</text>
<rect x="521.9" y="612" width="18.9" height="4" fill="#000" stroke="none" stroke-width="1"/>
<text x="640.6" y="616.3" font-size="10" fill="#1a1a1a" text-anchor="middle"><tspan font-style="italic">t</tspan> =1.5 μm</text>
<circle cx="464.3" cy="522" r="2.9" fill="url(#sp_e)"/>
<circle cx="479.54" cy="529.1" r="2.9" fill="url(#sp_e)"/>
<circle cx="494.78" cy="540.8" r="2.9" fill="url(#sp_e)"/>
<circle cx="510.02" cy="552" r="2.9" fill="url(#sp_e)"/>
<circle cx="525.26" cy="571.1" r="2.9" fill="url(#sp_e)"/>
<circle cx="540.5" cy="584" r="2.9" fill="url(#sp_e)"/>
<circle cx="555.74" cy="595.7" r="2.9" fill="url(#sp_e)"/>
<circle cx="570.98" cy="607.8" r="2.9" fill="url(#sp_e)"/>
<circle cx="586.22" cy="619.4" r="2.9" fill="url(#sp_e)"/>
<circle cx="601.46" cy="629" r="2.9" fill="url(#sp_e)"/>
<circle cx="616.7" cy="637.7" r="2.9" fill="url(#sp_e)"/>
<circle cx="631.94" cy="651" r="2.9" fill="url(#sp_e)"/>
<circle cx="647.18" cy="659.8" r="2.9" fill="url(#sp_e)"/>
<circle cx="662.42" cy="672.7" r="2.9" fill="url(#sp_e)"/>
<circle cx="677.66" cy="685.6" r="2.9" fill="url(#sp_e)"/>
<line x1="464.3" y1="521.6" x2="683.4" y2="692" stroke="#111" stroke-width="1.25"/>
<rect x="458.8" y="515.5" width="224.6" height="180.8" fill="none" stroke="#1e1e1e" stroke-width="1.35"/>
<path d="M464.3 696.3 V694.3 M469.38 696.3 V694.3 M474.46 696.3 V694.3 M479.54 696.3 V694.3 M484.62 696.3 V694.3 M489.7 696.3 V694.3 M494.78 696.3 V694.3 M499.86 696.3 V694.3 M504.94 696.3 V694.3 M510.02 696.3 V694.3 M515.1 696.3 V694.3 M520.18 696.3 V694.3 M525.26 696.3 V694.3 M530.34 696.3 V694.3 M535.42 696.3 V694.3 M540.5 696.3 V694.3 M545.58 696.3 V694.3 M550.66 696.3 V694.3 M555.74 696.3 V694.3 M560.82 696.3 V694.3 M565.9 696.3 V694.3 M570.98 696.3 V694.3 M576.06 696.3 V694.3 M581.14 696.3 V694.3 M586.22 696.3 V694.3 M591.3 696.3 V694.3 M596.38 696.3 V694.3 M601.46 696.3 V694.3 M606.54 696.3 V694.3 M611.62 696.3 V694.3 M616.7 696.3 V694.3 M621.78 696.3 V694.3 M626.86 696.3 V694.3 M631.94 696.3 V694.3 M637.02 696.3 V694.3 M642.1 696.3 V694.3 M647.18 696.3 V694.3 M652.26 696.3 V694.3 M657.34 696.3 V694.3 M662.42 696.3 V694.3 M667.5 696.3 V694.3 M672.58 696.3 V694.3 M677.66 696.3 V694.3 M682.74 696.3 V694.3 M464.3 696.3 V692.7 M515.1 696.3 V692.7 M565.9 696.3 V692.7 M616.7 696.3 V692.7 M667.5 696.3 V692.7" fill="none" stroke="#1e1e1e" stroke-width="1.1"/>
<text x="0" y="0" font-size="9.85" text-anchor="middle" fill="#1a1a1a" transform="translate(464.3 708.9) scale(1 1.13)">0</text>
<text x="0" y="0" font-size="9.85" text-anchor="middle" fill="#1a1a1a" transform="translate(515.1 708.9) scale(1 1.13)">10</text>
<text x="0" y="0" font-size="9.85" text-anchor="middle" fill="#1a1a1a" transform="translate(565.9 708.9) scale(1 1.13)">20</text>
<text x="0" y="0" font-size="9.85" text-anchor="middle" fill="#1a1a1a" transform="translate(616.7 708.9) scale(1 1.13)">30</text>
<text x="0" y="0" font-size="9.85" text-anchor="middle" fill="#1a1a1a" transform="translate(667.5 708.9) scale(1 1.13)">40</text>
<path d="M458.8 692.64 H460.8 M458.8 684.92 H460.8 M458.8 677.2 H460.8 M458.8 669.48 H460.8 M458.8 661.76 H460.8 M458.8 654.04 H460.8 M458.8 646.32 H460.8 M458.8 638.6 H460.8 M458.8 630.88 H460.8 M458.8 623.16 H460.8 M458.8 615.44 H460.8 M458.8 607.72 H460.8 M458.8 600 H460.8 M458.8 592.28 H460.8 M458.8 584.56 H460.8 M458.8 576.84 H460.8 M458.8 569.12 H460.8 M458.8 561.4 H460.8 M458.8 553.68 H460.8 M458.8 545.96 H460.8 M458.8 538.24 H460.8 M458.8 530.52 H460.8 M458.8 522.8 H460.8 M458.8 515.08 H460.8 M458.8 677.2 H462.4 M458.8 638.6 H462.4 M458.8 600 H462.4 M458.8 561.4 H462.4 M458.8 522.8 H462.4" fill="none" stroke="#1e1e1e" stroke-width="1.1"/>
<text x="0" y="0" font-size="9.85" text-anchor="end" fill="#1a1a1a" transform="translate(454.3 681.1) scale(1 1.13)">1556</text>
<text x="0" y="0" font-size="9.85" text-anchor="end" fill="#1a1a1a" transform="translate(454.3 642.5) scale(1 1.13)">1557</text>
<text x="0" y="0" font-size="9.85" text-anchor="end" fill="#1a1a1a" transform="translate(454.3 603.9) scale(1 1.13)">1558</text>
<text x="0" y="0" font-size="9.85" text-anchor="end" fill="#1a1a1a" transform="translate(454.3 565.3) scale(1 1.13)">1559</text>
<text x="0" y="0" font-size="9.85" text-anchor="end" fill="#1a1a1a" transform="translate(454.3 526.7) scale(1 1.13)">1560</text>
<circle cx="569.3" cy="524.1" r="2.9" fill="url(#sp_e)"/>
<text x="583.9" y="527.7" font-size="10.15" fill="#1a1a1a">Experimental data</text>
<line x1="558.1" y1="536.6" x2="581.8" y2="536.6" stroke="#111" stroke-width="1.2"/>
<text x="583.9" y="540.2" font-size="10.15" fill="#1a1a1a">Linear fit line</text>
<text x="571.2" y="727" font-size="10.5" font-weight="bold" text-anchor="middle" fill="#111">Load (μN)</text>
<text x="428" y="606.3" font-size="11" font-weight="bold" text-anchor="middle" fill="#111" transform="rotate(-90 428 606.3)">Wavelength (nm)</text>
<text x="413" y="531" font-size="17.5" font-weight="bold" fill="#000">e</text>
<rect x="459.8" y="833.4" width="88" height="102.9" fill="#dae4ef" stroke="none" stroke-width="1"/>
<g filter="url(#blur06)">
<rect x="482" y="895.2" width="48.8" height="41.1" fill="url(#fgg)" stroke="none" stroke-width="1"/>
<rect x="490" y="866" width="30.8" height="28" fill="#5a8bc1" stroke="none" stroke-width="1"/>
<g clip-path="url(#lclg)">
<path d="M490.51 864.76 L492.1 863.84 L493.68 863.01 L495.26 862.31 L496.84 861.82 L498.43 862.31 L500.01 863.01 L501.59 863.84 L503.18 864.76 L501.59 865.67 L500.01 866.5 L498.43 867.21 L496.84 867.69 L495.26 867.21 L493.68 866.5 L492.1 865.67Z M507.62 864.76 L509.21 863.84 L510.79 863.01 L512.37 862.31 L513.96 861.82 L515.54 862.31 L517.12 863.01 L518.7 863.84 L520.29 864.76 L518.7 865.67 L517.12 866.5 L515.54 867.21 L513.96 867.69 L512.37 867.21 L510.79 866.5 L509.21 865.67Z M481.96 869.2 L483.54 868.28 L485.12 867.46 L486.71 866.75 L488.29 866.27 L489.87 866.75 L491.45 867.46 L493.04 868.28 L494.62 869.2 L493.04 870.12 L491.45 870.94 L489.87 871.65 L488.29 872.13 L486.71 871.65 L485.12 870.94 L483.54 870.12Z M499.07 869.2 L500.65 868.28 L502.23 867.46 L503.82 866.75 L505.4 866.27 L506.98 866.75 L508.57 867.46 L510.15 868.28 L511.73 869.2 L510.15 870.12 L508.57 870.94 L506.98 871.65 L505.4 872.13 L503.82 871.65 L502.23 870.94 L500.65 870.12Z M516.18 869.2 L517.76 868.28 L519.35 867.46 L520.93 866.75 L522.51 866.27 L524.09 866.75 L525.68 867.46 L527.26 868.28 L528.84 869.2 L527.26 870.12 L525.68 870.94 L524.09 871.65 L522.51 872.13 L520.93 871.65 L519.35 870.94 L517.76 870.12Z M490.51 873.64 L492.1 872.73 L493.68 871.9 L495.26 871.19 L496.84 870.71 L498.43 871.19 L500.01 871.9 L501.59 872.73 L503.18 873.64 L501.59 874.56 L500.01 875.39 L498.43 876.09 L496.84 876.58 L495.26 876.09 L493.68 875.39 L492.1 874.56Z M507.62 873.64 L509.21 872.73 L510.79 871.9 L512.37 871.19 L513.96 870.71 L515.54 871.19 L517.12 871.9 L518.7 872.73 L520.29 873.64 L518.7 874.56 L517.12 875.39 L515.54 876.09 L513.96 876.58 L512.37 876.09 L510.79 875.39 L509.21 874.56Z M481.96 878.09 L483.54 877.17 L485.12 876.35 L486.71 875.64 L488.29 875.16 L489.87 875.64 L491.45 876.35 L493.04 877.17 L494.62 878.09 L493.04 879 L491.45 879.83 L489.87 880.54 L488.29 881.02 L486.71 880.54 L485.12 879.83 L483.54 879Z M499.07 878.09 L500.65 877.17 L502.23 876.35 L503.82 875.64 L505.4 875.16 L506.98 875.64 L508.57 876.35 L510.15 877.17 L511.73 878.09 L510.15 879 L508.57 879.83 L506.98 880.54 L505.4 881.02 L503.82 880.54 L502.23 879.83 L500.65 879Z M516.18 878.09 L517.76 877.17 L519.35 876.35 L520.93 875.64 L522.51 875.16 L524.09 875.64 L525.68 876.35 L527.26 877.17 L528.84 878.09 L527.26 879 L525.68 879.83 L524.09 880.54 L522.51 881.02 L520.93 880.54 L519.35 879.83 L517.76 879Z M490.51 882.53 L492.1 881.62 L493.68 880.79 L495.26 880.08 L496.84 879.6 L498.43 880.08 L500.01 880.79 L501.59 881.62 L503.18 882.53 L501.59 883.45 L500.01 884.28 L498.43 884.98 L496.84 885.47 L495.26 884.98 L493.68 884.28 L492.1 883.45Z M507.62 882.53 L509.21 881.62 L510.79 880.79 L512.37 880.08 L513.96 879.6 L515.54 880.08 L517.12 880.79 L518.7 881.62 L520.29 882.53 L518.7 883.45 L517.12 884.28 L515.54 884.98 L513.96 885.47 L512.37 884.98 L510.79 884.28 L509.21 883.45Z M481.96 886.98 L483.54 886.06 L485.12 885.24 L486.71 884.53 L488.29 884.04 L489.87 884.53 L491.45 885.24 L493.04 886.06 L494.62 886.98 L493.04 887.89 L491.45 888.72 L489.87 889.43 L488.29 889.91 L486.71 889.43 L485.12 888.72 L483.54 887.89Z M499.07 886.98 L500.65 886.06 L502.23 885.24 L503.82 884.53 L505.4 884.04 L506.98 884.53 L508.57 885.24 L510.15 886.06 L511.73 886.98 L510.15 887.89 L508.57 888.72 L506.98 889.43 L505.4 889.91 L503.82 889.43 L502.23 888.72 L500.65 887.89Z M516.18 886.98 L517.76 886.06 L519.35 885.24 L520.93 884.53 L522.51 884.04 L524.09 884.53 L525.68 885.24 L527.26 886.06 L528.84 886.98 L527.26 887.89 L525.68 888.72 L524.09 889.43 L522.51 889.91 L520.93 889.43 L519.35 888.72 L517.76 887.89Z M490.51 891.42 L492.1 890.51 L493.68 889.68 L495.26 888.97 L496.84 888.49 L498.43 888.97 L500.01 889.68 L501.59 890.51 L503.18 891.42 L501.59 892.34 L500.01 893.16 L498.43 893.87 L496.84 894.36 L495.26 893.87 L493.68 893.16 L492.1 892.34Z M507.62 891.42 L509.21 890.51 L510.79 889.68 L512.37 888.97 L513.96 888.49 L515.54 888.97 L517.12 889.68 L518.7 890.51 L520.29 891.42 L518.7 892.34 L517.12 893.16 L515.54 893.87 L513.96 894.36 L512.37 893.87 L510.79 893.16 L509.21 892.34Z M481.96 895.87 L483.54 894.95 L485.12 894.12 L486.71 893.42 L488.29 892.93 L489.87 893.42 L491.45 894.12 L493.04 894.95 L494.62 895.87 L493.04 896.78 L491.45 897.61 L489.87 898.32 L488.29 898.8 L486.71 898.32 L485.12 897.61 L483.54 896.78Z M499.07 895.87 L500.65 894.95 L502.23 894.12 L503.82 893.42 L505.4 892.93 L506.98 893.42 L508.57 894.12 L510.15 894.95 L511.73 895.87 L510.15 896.78 L508.57 897.61 L506.98 898.32 L505.4 898.8 L503.82 898.32 L502.23 897.61 L500.65 896.78Z M516.18 895.87 L517.76 894.95 L519.35 894.12 L520.93 893.42 L522.51 892.93 L524.09 893.42 L525.68 894.12 L527.26 894.95 L528.84 895.87 L527.26 896.78 L525.68 897.61 L524.09 898.32 L522.51 898.8 L520.93 898.32 L519.35 897.61 L517.76 896.78Z" fill="#cfdeee" stroke="none" stroke-width="1"/>
</g>
<rect x="489.5" y="865.4" width="31.8" height="1.6" fill="#5a8bc1" stroke="none" stroke-width="1"/>
<rect x="489" y="891.8" width="32.8" height="3.6" fill="#4a7fb6" stroke="none" stroke-width="1"/>
<line x1="490.4" y1="866" x2="490.4" y2="894" stroke="#5a8bc1" stroke-width="1.4"/>
<line x1="520.4" y1="866" x2="520.4" y2="894" stroke="#5a8bc1" stroke-width="1.4"/>
<rect x="490.3" y="857" width="9.24" height="9" fill="#d0dfee" stroke="#5a8bc1" stroke-width="1.2"/>
<rect x="511.26" y="857" width="9.24" height="9" fill="#d0dfee" stroke="#5a8bc1" stroke-width="1.2"/>
<path d="M495.54 857 Q501.4 854 501.9 845.7 M515.26 857 Q510.9 854 510.4 845.7" fill="none" stroke="#5a8bc1" stroke-width="1.1"/>
<rect x="500.7" y="842.7" width="2.4" height="4" fill="#5a8bc1" stroke="none" stroke-width="1"/>
<rect x="509.2" y="842.7" width="2.4" height="4" fill="#5a8bc1" stroke="none" stroke-width="1"/>
</g>
<rect x="595.5" y="790.3" width="84.4" height="57.4" fill="#d3e0ee" stroke="none" stroke-width="1"/>
<g filter="url(#blur07)">
<rect x="595.5" y="790.3" width="84.4" height="57.4" fill="url(#edg)" stroke="none" stroke-width="1"/>
<rect x="598.5" y="792.3" width="78.4" height="53.4" fill="#86abd3" stroke="none" stroke-width="1"/>
<g clip-path="url(#ltcg)">
<path d="M572.5 786.4 L576.4 784.17 L580.3 782.16 L584.2 780.44 L588.1 779.26 L592 780.44 L595.9 782.16 L599.8 784.17 L603.7 786.4 L599.8 788.63 L595.9 790.64 L592 792.36 L588.1 793.54 L584.2 792.36 L580.3 790.64 L576.4 788.63Z M612.5 786.4 L616.4 784.17 L620.3 782.16 L624.2 780.44 L628.1 779.26 L632 780.44 L635.9 782.16 L639.8 784.17 L643.7 786.4 L639.8 788.63 L635.9 790.64 L632 792.36 L628.1 793.54 L624.2 792.36 L620.3 790.64 L616.4 788.63Z M652.5 786.4 L656.4 784.17 L660.3 782.16 L664.2 780.44 L668.1 779.26 L672 780.44 L675.9 782.16 L679.8 784.17 L683.7 786.4 L679.8 788.63 L675.9 790.64 L672 792.36 L668.1 793.54 L664.2 792.36 L660.3 790.64 L656.4 788.63Z M592.5 794.7 L596.4 792.47 L600.3 790.46 L604.2 788.74 L608.1 787.56 L612 788.74 L615.9 790.46 L619.8 792.47 L623.7 794.7 L619.8 796.93 L615.9 798.94 L612 800.66 L608.1 801.84 L604.2 800.66 L600.3 798.94 L596.4 796.93Z M632.5 794.7 L636.4 792.47 L640.3 790.46 L644.2 788.74 L648.1 787.56 L652 788.74 L655.9 790.46 L659.8 792.47 L663.7 794.7 L659.8 796.93 L655.9 798.94 L652 800.66 L648.1 801.84 L644.2 800.66 L640.3 798.94 L636.4 796.93Z M672.5 794.7 L676.4 792.47 L680.3 790.46 L684.2 788.74 L688.1 787.56 L692 788.74 L695.9 790.46 L699.8 792.47 L703.7 794.7 L699.8 796.93 L695.9 798.94 L692 800.66 L688.1 801.84 L684.2 800.66 L680.3 798.94 L676.4 796.93Z M572.5 803 L576.4 800.77 L580.3 798.76 L584.2 797.04 L588.1 795.86 L592 797.04 L595.9 798.76 L599.8 800.77 L603.7 803 L599.8 805.23 L595.9 807.24 L592 808.96 L588.1 810.14 L584.2 808.96 L580.3 807.24 L576.4 805.23Z M612.5 803 L616.4 800.77 L620.3 798.76 L624.2 797.04 L628.1 795.86 L632 797.04 L635.9 798.76 L639.8 800.77 L643.7 803 L639.8 805.23 L635.9 807.24 L632 808.96 L628.1 810.14 L624.2 808.96 L620.3 807.24 L616.4 805.23Z M652.5 803 L656.4 800.77 L660.3 798.76 L664.2 797.04 L668.1 795.86 L672 797.04 L675.9 798.76 L679.8 800.77 L683.7 803 L679.8 805.23 L675.9 807.24 L672 808.96 L668.1 810.14 L664.2 808.96 L660.3 807.24 L656.4 805.23Z M592.5 811.3 L596.4 809.07 L600.3 807.06 L604.2 805.34 L608.1 804.16 L612 805.34 L615.9 807.06 L619.8 809.07 L623.7 811.3 L619.8 813.53 L615.9 815.54 L612 817.26 L608.1 818.44 L604.2 817.26 L600.3 815.54 L596.4 813.53Z M632.5 811.3 L636.4 809.07 L640.3 807.06 L644.2 805.34 L648.1 804.16 L652 805.34 L655.9 807.06 L659.8 809.07 L663.7 811.3 L659.8 813.53 L655.9 815.54 L652 817.26 L648.1 818.44 L644.2 817.26 L640.3 815.54 L636.4 813.53Z M672.5 811.3 L676.4 809.07 L680.3 807.06 L684.2 805.34 L688.1 804.16 L692 805.34 L695.9 807.06 L699.8 809.07 L703.7 811.3 L699.8 813.53 L695.9 815.54 L692 817.26 L688.1 818.44 L684.2 817.26 L680.3 815.54 L676.4 813.53Z M572.5 819.6 L576.4 817.37 L580.3 815.36 L584.2 813.64 L588.1 812.46 L592 813.64 L595.9 815.36 L599.8 817.37 L603.7 819.6 L599.8 821.83 L595.9 823.84 L592 825.56 L588.1 826.74 L584.2 825.56 L580.3 823.84 L576.4 821.83Z M612.5 819.6 L616.4 817.37 L620.3 815.36 L624.2 813.64 L628.1 812.46 L632 813.64 L635.9 815.36 L639.8 817.37 L643.7 819.6 L639.8 821.83 L635.9 823.84 L632 825.56 L628.1 826.74 L624.2 825.56 L620.3 823.84 L616.4 821.83Z M652.5 819.6 L656.4 817.37 L660.3 815.36 L664.2 813.64 L668.1 812.46 L672 813.64 L675.9 815.36 L679.8 817.37 L683.7 819.6 L679.8 821.83 L675.9 823.84 L672 825.56 L668.1 826.74 L664.2 825.56 L660.3 823.84 L656.4 821.83Z M592.5 827.9 L596.4 825.67 L600.3 823.66 L604.2 821.94 L608.1 820.76 L612 821.94 L615.9 823.66 L619.8 825.67 L623.7 827.9 L619.8 830.13 L615.9 832.14 L612 833.86 L608.1 835.04 L604.2 833.86 L600.3 832.14 L596.4 830.13Z M632.5 827.9 L636.4 825.67 L640.3 823.66 L644.2 821.94 L648.1 820.76 L652 821.94 L655.9 823.66 L659.8 825.67 L663.7 827.9 L659.8 830.13 L655.9 832.14 L652 833.86 L648.1 835.04 L644.2 833.86 L640.3 832.14 L636.4 830.13Z M672.5 827.9 L676.4 825.67 L680.3 823.66 L684.2 821.94 L688.1 820.76 L692 821.94 L695.9 823.66 L699.8 825.67 L703.7 827.9 L699.8 830.13 L695.9 832.14 L692 833.86 L688.1 835.04 L684.2 833.86 L680.3 832.14 L676.4 830.13Z M572.5 836.2 L576.4 833.97 L580.3 831.96 L584.2 830.24 L588.1 829.06 L592 830.24 L595.9 831.96 L599.8 833.97 L603.7 836.2 L599.8 838.43 L595.9 840.44 L592 842.16 L588.1 843.34 L584.2 842.16 L580.3 840.44 L576.4 838.43Z M612.5 836.2 L616.4 833.97 L620.3 831.96 L624.2 830.24 L628.1 829.06 L632 830.24 L635.9 831.96 L639.8 833.97 L643.7 836.2 L639.8 838.43 L635.9 840.44 L632 842.16 L628.1 843.34 L624.2 842.16 L620.3 840.44 L616.4 838.43Z M652.5 836.2 L656.4 833.97 L660.3 831.96 L664.2 830.24 L668.1 829.06 L672 830.24 L675.9 831.96 L679.8 833.97 L683.7 836.2 L679.8 838.43 L675.9 840.44 L672 842.16 L668.1 843.34 L664.2 842.16 L660.3 840.44 L656.4 838.43Z M592.5 844.5 L596.4 842.27 L600.3 840.26 L604.2 838.54 L608.1 837.36 L612 838.54 L615.9 840.26 L619.8 842.27 L623.7 844.5 L619.8 846.73 L615.9 848.74 L612 850.46 L608.1 851.64 L604.2 850.46 L600.3 848.74 L596.4 846.73Z M632.5 844.5 L636.4 842.27 L640.3 840.26 L644.2 838.54 L648.1 837.36 L652 838.54 L655.9 840.26 L659.8 842.27 L663.7 844.5 L659.8 846.73 L655.9 848.74 L652 850.46 L648.1 851.64 L644.2 850.46 L640.3 848.74 L636.4 846.73Z M672.5 844.5 L676.4 842.27 L680.3 840.26 L684.2 838.54 L688.1 837.36 L692 838.54 L695.9 840.26 L699.8 842.27 L703.7 844.5 L699.8 846.73 L695.9 848.74 L692 850.46 L688.1 851.64 L684.2 850.46 L680.3 848.74 L676.4 846.73Z M572.5 852.8 L576.4 850.57 L580.3 848.56 L584.2 846.84 L588.1 845.66 L592 846.84 L595.9 848.56 L599.8 850.57 L603.7 852.8 L599.8 855.03 L595.9 857.04 L592 858.76 L588.1 859.94 L584.2 858.76 L580.3 857.04 L576.4 855.03Z M612.5 852.8 L616.4 850.57 L620.3 848.56 L624.2 846.84 L628.1 845.66 L632 846.84 L635.9 848.56 L639.8 850.57 L643.7 852.8 L639.8 855.03 L635.9 857.04 L632 858.76 L628.1 859.94 L624.2 858.76 L620.3 857.04 L616.4 855.03Z M652.5 852.8 L656.4 850.57 L660.3 848.56 L664.2 846.84 L668.1 845.66 L672 846.84 L675.9 848.56 L679.8 850.57 L683.7 852.8 L679.8 855.03 L675.9 857.04 L672 858.76 L668.1 859.94 L664.2 858.76 L660.3 857.04 L656.4 855.03Z" fill="#e2eaf4" stroke="none" stroke-width="1"/>
</g>
<rect x="601.5" y="791.3" width="72.4" height="3.5" fill="#86abd3" stroke="none" stroke-width="1" opacity="0.7"/>
<rect x="601.5" y="843.7" width="72.4" height="3" fill="#86abd3" stroke="none" stroke-width="1" opacity="0.6"/>
</g>
<text x="538.1" y="846.4" font-size="13.8" font-weight="bold" text-anchor="middle" fill="#000">50 μm</text>
<rect x="530.8" y="853.6" width="18.9" height="3.5" fill="#000" stroke="none" stroke-width="1"/>
<text x="641.65" y="860.6" font-size="10" fill="#1a1a1a" text-anchor="middle"><tspan font-style="italic">t</tspan> =2 μm</text>
<circle cx="462" cy="774.9" r="2.9" fill="url(#sp_g)"/>
<circle cx="480.17" cy="783.7" r="2.9" fill="url(#sp_g)"/>
<circle cx="498.34" cy="792" r="2.9" fill="url(#sp_g)"/>
<circle cx="516.5" cy="801.6" r="2.9" fill="url(#sp_g)"/>
<circle cx="534.67" cy="812.8" r="2.9" fill="url(#sp_g)"/>
<circle cx="552.84" cy="826.1" r="2.9" fill="url(#sp_g)"/>
<circle cx="571.01" cy="837.4" r="2.9" fill="url(#sp_g)"/>
<circle cx="589.18" cy="849.4" r="2.9" fill="url(#sp_g)"/>
<circle cx="607.34" cy="866.1" r="2.9" fill="url(#sp_g)"/>
<circle cx="625.51" cy="878.5" r="2.9" fill="url(#sp_g)"/>
<circle cx="643.68" cy="892.7" r="2.9" fill="url(#sp_g)"/>
<circle cx="661.85" cy="910.6" r="2.9" fill="url(#sp_g)"/>
<circle cx="680.02" cy="924.7" r="2.9" fill="url(#sp_g)"/>
<line x1="462" y1="767.2" x2="680.6" y2="918.2" stroke="#111" stroke-width="1.25"/>
<rect x="459.4" y="756.4" width="223.7" height="180.5" fill="none" stroke="#1e1e1e" stroke-width="1.35"/>
<path d="M462 936.9 V934.9 M468.06 936.9 V934.9 M474.11 936.9 V934.9 M480.17 936.9 V934.9 M486.22 936.9 V934.9 M492.28 936.9 V934.9 M498.34 936.9 V934.9 M504.39 936.9 V934.9 M510.45 936.9 V934.9 M516.5 936.9 V934.9 M522.56 936.9 V934.9 M528.62 936.9 V934.9 M534.67 936.9 V934.9 M540.73 936.9 V934.9 M546.78 936.9 V934.9 M552.84 936.9 V934.9 M558.9 936.9 V934.9 M564.95 936.9 V934.9 M571.01 936.9 V934.9 M577.06 936.9 V934.9 M583.12 936.9 V934.9 M589.18 936.9 V934.9 M595.23 936.9 V934.9 M601.29 936.9 V934.9 M607.34 936.9 V934.9 M613.4 936.9 V934.9 M619.46 936.9 V934.9 M625.51 936.9 V934.9 M631.57 936.9 V934.9 M637.62 936.9 V934.9 M643.68 936.9 V934.9 M649.74 936.9 V934.9 M655.79 936.9 V934.9 M661.85 936.9 V934.9 M667.9 936.9 V934.9 M673.96 936.9 V934.9 M680.02 936.9 V934.9 M462 936.9 V933.3 M522.56 936.9 V933.3 M583.12 936.9 V933.3 M643.68 936.9 V933.3" fill="none" stroke="#1e1e1e" stroke-width="1.1"/>
<text x="0" y="0" font-size="9.85" text-anchor="middle" fill="#1a1a1a" transform="translate(462 949.5) scale(1 1.13)">0</text>
<text x="0" y="0" font-size="9.85" text-anchor="middle" fill="#1a1a1a" transform="translate(522.56 949.5) scale(1 1.13)">20</text>
<text x="0" y="0" font-size="9.85" text-anchor="middle" fill="#1a1a1a" transform="translate(583.12 949.5) scale(1 1.13)">40</text>
<text x="0" y="0" font-size="9.85" text-anchor="middle" fill="#1a1a1a" transform="translate(643.68 949.5) scale(1 1.13)">60</text>
<path d="M459.4 937.24 H461.4 M459.4 930.16 H461.4 M459.4 923.07 H461.4 M459.4 915.99 H461.4 M459.4 908.9 H461.4 M459.4 901.82 H461.4 M459.4 894.73 H461.4 M459.4 887.65 H461.4 M459.4 880.56 H461.4 M459.4 873.48 H461.4 M459.4 866.39 H461.4 M459.4 859.31 H461.4 M459.4 852.22 H461.4 M459.4 845.14 H461.4 M459.4 838.05 H461.4 M459.4 830.97 H461.4 M459.4 823.88 H461.4 M459.4 816.8 H461.4 M459.4 809.71 H461.4 M459.4 802.62 H461.4 M459.4 795.54 H461.4 M459.4 788.46 H461.4 M459.4 781.37 H461.4 M459.4 774.29 H461.4 M459.4 767.2 H461.4 M459.4 760.12 H461.4 M459.4 908.9 H463 M459.4 873.48 H463 M459.4 838.05 H463 M459.4 802.62 H463 M459.4 767.2 H463" fill="none" stroke="#1e1e1e" stroke-width="1.1"/>
<text x="0" y="0" font-size="9.85" text-anchor="end" fill="#1a1a1a" transform="translate(454.9 912.8) scale(1 1.13)">1552.5</text>
<text x="0" y="0" font-size="9.85" text-anchor="end" fill="#1a1a1a" transform="translate(454.9 877.37) scale(1 1.13)">1553.0</text>
<text x="0" y="0" font-size="9.85" text-anchor="end" fill="#1a1a1a" transform="translate(454.9 841.95) scale(1 1.13)">1553.5</text>
<text x="0" y="0" font-size="9.85" text-anchor="end" fill="#1a1a1a" transform="translate(454.9 806.52) scale(1 1.13)">1554.0</text>
<text x="0" y="0" font-size="9.85" text-anchor="end" fill="#1a1a1a" transform="translate(454.9 771.1) scale(1 1.13)">1554.5</text>
<circle cx="578.1" cy="766.2" r="2.9" fill="url(#sp_g)"/>
<text x="592.2" y="769.8" font-size="10.15" fill="#1a1a1a">Experimental data</text>
<line x1="567.3" y1="779.1" x2="590.1" y2="779.1" stroke="#111" stroke-width="1.2"/>
<text x="592.2" y="782.7" font-size="10.15" fill="#1a1a1a">Linear fit line</text>
<text x="571" y="968.5" font-size="10.5" font-weight="bold" text-anchor="middle" fill="#111">Load (μN)</text>
<text x="420.6" y="847.3" font-size="11" font-weight="bold" text-anchor="middle" fill="#111" transform="rotate(-90 420.6 847.3)">Wavelength (nm)</text>
<text x="410" y="767.5" font-size="17.5" font-weight="bold" fill="#000">g</text></svg></body></html>
